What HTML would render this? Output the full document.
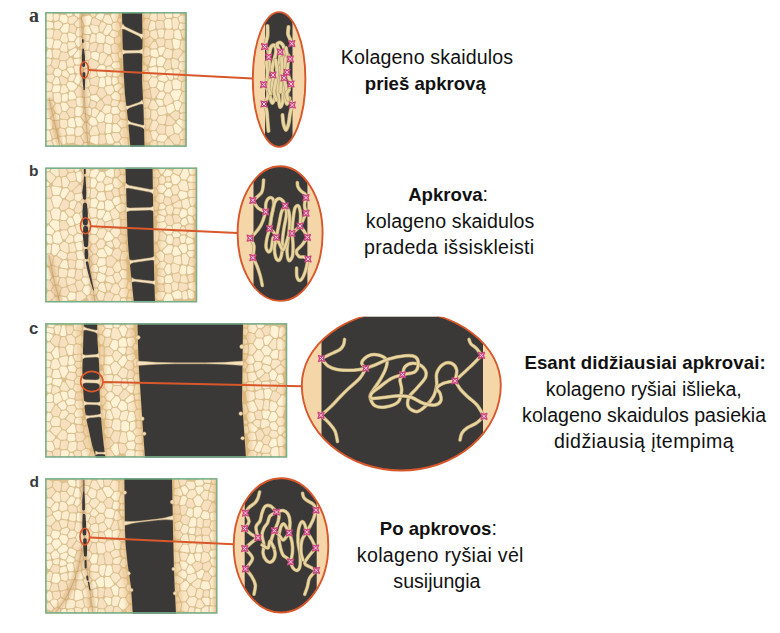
<!DOCTYPE html>
<html lang="lt">
<head>
<meta charset="utf-8">
<title>Kolageno skaidulos</title>
<style>
html,body{margin:0;padding:0;background:#fff;}
body{width:780px;height:633px;position:relative;overflow:hidden;font-family:"Liberation Sans",sans-serif;color:#111;}
.t{position:absolute;text-align:center;font-size:19.6px;line-height:26px;white-space:nowrap;}
.t b{font-weight:bold;font-size:18.6px;}
.t span{display:block;position:relative;}
.lab{position:absolute;font-family:"Liberation Sans",sans-serif;font-weight:bold;font-size:15.5px;color:#3a3a3a;line-height:1;}
</style>
</head>
<body>
<svg width="780" height="633" viewBox="0 0 780 633" style="position:absolute;left:0;top:0">
<defs>
<filter id="soft" x="-5%" y="-5%" width="110%" height="110%"><feGaussianBlur stdDeviation="0.65"/></filter>
<filter id="soft2" x="-20%" y="-20%" width="140%" height="140%"><feGaussianBlur stdDeviation="1.6"/></filter>
<filter id="soft3" x="-5%" y="-5%" width="110%" height="110%"><feGaussianBlur stdDeviation="0.3"/></filter>
<linearGradient id="edgeR" x1="0" x2="1" y1="0" y2="0"><stop offset="0" stop-color="#d9a868" stop-opacity="0"/><stop offset="1" stop-color="#d9a868" stop-opacity="0.75"/></linearGradient>
</defs>
<clipPath id="clip0"><rect x="45.1" y="12.1" width="141.6" height="134.8"/></clipPath>
<g clip-path="url(#clip0)">
<rect x="45.1" y="12.1" width="141.6" height="134.8" fill="#dcc190"/>
<g filter="url(#soft)">
<path fill="#fef2d7" d="M45.7,26.9L46,28L46.9,28.6L52.3,28.3L53.3,27L52.9,23.2L51.8,22.2L47.7,21.4L46.8,21.6L45.9,22.7ZM52.2,90.1L52.4,91.5L53.4,92.2L58.8,91.9L59.7,90.7L60.4,87.1L60.3,86.1L58.8,85.2L54.1,85.6L53.2,86.5ZM57.8,119.7L58.7,119.3L59.3,118.5L59,115.9L58.4,115L56.2,114L54.6,114.2L51.7,117.6L51.8,119.1L53,120ZM63.3,23.3L67,22.4L67.5,21.5L67.6,17.8L67.3,17L66,15.2L65.2,14.7L60.9,15L60.3,15.9L59.6,19.2L59.9,20.5ZM66.3,32.8L67.7,32.2L68.4,31L68.9,25.1L68.4,24.1L67.4,23.6L63.7,24.6L60.5,29.4L60.8,30.5L62.6,32.5ZM61.8,99.9L62.2,101L63.3,101.6L66,101.6L67.2,100.7L67.6,99.9L67.9,95.3L67.3,93.9L65.9,93.5L62.3,94.8L61.9,95.7ZM68.5,12.6L67.4,12.9L66.8,14L66.9,14.9L67.9,16.1L69.2,16.5L72,15.3L72.4,14.1L71.8,12.9L70.9,12.6ZM68.6,67.8L67.4,68.5L67.1,69.7L69.6,73.3L70.9,73.8L73.9,72.9L74.3,71.3L73,68L71.9,67.5ZM69.4,89.8L70.6,90.6L73.9,90.6L77,87L77,85.4L73.2,82.4L69.2,81.9L68.3,82.1L66.9,83.8L66.7,84.9ZM68.6,98L69.1,99.2L70.3,99.8L74.7,99.1L75.6,98.5L76.1,96.8L73.8,92.2L73,91.8L70.6,91.6L69.3,92.1L68.9,93ZM73.5,127.4L74.8,127L75.4,125.9L74.1,119.1L73,118L70.3,118.2L68.3,120.2L68.3,125.6L69.4,126.7ZM66.1,129.5L67.2,134.3L68.1,134.7L73.5,134.6L74.3,133.4L74.2,129.1L73.1,128.3L68.6,127.5L67.6,127.7ZM77,84L78.3,84.4L79.3,83.8L82,77.7L81.9,76.3L80.4,74.5L77.9,74.3L76.8,74.9L74.4,80.5L74.6,82.1ZM82.8,112.9L83.5,109L82.7,107.7L77.5,106.8L76.6,107.1L75.4,108.2L75.3,114.9L76,116.1L79.9,116.2ZM76.8,117.3L75.6,117.8L75.1,119L76.5,125.6L77.8,126.5L81.7,126.2L83.7,123.4L83.7,121.9L80.2,117.6ZM89.7,24.4L91.6,18.1L91.4,17.1L90.3,15.9L88.9,15.4L82.5,16.7L81.8,17.7L81.8,18.7L84.4,25.1L85.4,25.6L88.2,25.5ZM85.5,26.5L84.4,27L83.9,27.8L83.6,32.3L83.9,33.3L85.3,34L89.8,34.1L90.7,33.7L91.3,32.9L91.3,31.9L88.9,27.1L87.8,26.5ZM84.1,105.3L84.5,106.4L85.5,107L87.7,106.7L88.5,106L89.9,99.9L89.6,98.5L89,97.8L88.1,97.5L85.4,97.8L84.3,98.5ZM84.2,143.4L83.6,144.9L84.4,146.2L87.3,146.4L88.5,145.5L88.6,144L87.8,143L85.1,143ZM96,52L92.8,52.2L91.7,52.7L91.2,53.7L91.4,57.1L92.2,58.3L96.9,60.4L98.3,59.3L99.2,54.2L98.4,53ZM98.9,100.3L99.5,99.2L99.4,98.2L96.3,94.9L91.7,95.4L90.4,96.6L90.6,98.5L91.5,99.6L96.5,101.6L97.5,101.4ZM99.1,76.5L100.1,76.9L104.7,76.5L106,75.4L105.2,66.9L104.7,66.1L103.1,65.1L99.9,65.2L96.7,69L97.9,75.3ZM98.7,85L99,86.3L100.2,87L103.3,87.4L105,86.2L105.3,85.2L104.8,79.1L104.1,77.8L103.1,77.5L101.2,77.7L99.9,78.4ZM96.5,118.6L98.7,122L99.6,122.2L102.8,121.5L103.7,120.6L104.6,114.8L104.1,114L101.7,112.1L100.7,112L99.9,112.5L96.5,117.5ZM110.2,123L111.3,122.7L112,121.8L112.4,115.7L111.9,114.5L110.2,113.5L106.6,114.4L105.8,115L104.7,120.8L105,121.7L105.9,122.4ZM105.4,131.5L105.8,132.8L106.9,133.4L110,133L111,132.3L111.7,125.5L111.1,124.2L107.8,123.6L106.5,124.2L106.1,125.1ZM107.2,134.3L106.2,134.9L105.8,136L107.2,143L108.5,143.8L113,143.4L113.7,142.6L113.8,141.6L110.8,134.7L109.6,134ZM112,64.5L111.7,65.4L111.9,66.4L114.2,68.4L118.9,68.2L120.1,67.1L119.3,63.2L118.3,62.2L113.8,62.5ZM114.9,90L116.1,91.1L117.9,90.9L121.6,86.8L121.8,85.8L121.4,84.9L119.5,83.7L118.5,83.5L114.8,85.7L114.1,87.1ZM114.4,124.1L113.3,124.4L112.7,125.3L112.5,131.2L113.7,132L119.1,132.1L119.7,131.4L120.6,129.3L120.4,128L116.9,124.4ZM124.2,89.6L123.2,88.1L121.6,88.2L119.2,90.9L119.2,92.7L120.8,93.7L123.5,93L124.3,91.9ZM124.6,102.1L121.2,101.5L120.4,102L118.3,106.3L120.4,110.1L121.7,110.7L125.2,110.1L126.2,108.7L125.3,102.8ZM143,54.4L143.2,55.8L144.5,56.5L148.4,55.4L149.2,54.9L149.6,54L149.6,49.6L148.7,47.9L146.3,47.1L144.9,47.6ZM143.6,78.8L143.8,79.7L144.5,80.4L147.6,80.8L148.4,80.3L150.7,77.2L150.7,75.8L147.3,70.6L146,70.6L144,71.9ZM143.8,106.2L144.2,107.2L145.1,107.7L146.8,107.5L147.6,107L150.2,101.3L150.2,100.3L149.7,99.5L145.5,98.2L143.9,98.8L143.5,99.9ZM145.3,108.7L144.4,109.2L144,110.1L144.2,117.3L145.4,118.4L149.1,118.4L150.1,117L150.1,110.2L147.9,108.4ZM156,49.2L151.2,49.7L150.6,50.7L150.5,54.5L150.9,55.4L151.7,56L156,57.3L157,57.2L158,56.6L158.6,55L157.1,49.9ZM149.4,64.4L149.6,65.8L150.9,66.6L155.6,65.2L156.1,64.2L156.2,59.6L155.7,58.4L153,57.4L151.6,57.9ZM149.6,68L148.6,68.8L148.4,70.1L151.8,75.7L152.7,76.3L155.3,76.5L156.5,76.1L157.1,74.7L156.9,68L156.5,67.1L154.9,66.5ZM159.4,47.5L158.3,48.3L158.1,49.6L159.4,54.4L160.3,55.1L161.3,55.2L162.4,54.3L164.9,49L165,48.1L164.3,47.1L163.4,46.8ZM157,64.1L157.4,65.2L158.2,65.8L161.5,66.2L162.5,65.9L165.4,60.3L165.3,58.9L161.9,56.7L159,57L157.2,58.7ZM159.7,66.9L158.3,67.4L157.8,68.6L158,73.6L158.5,74.5L159.6,74.9L164.4,73.2L165.3,70.8L165,69.8L162.7,67.4ZM161.6,90.7L162.6,90.5L163.3,89.6L164.2,83.6L163.2,82.4L159.4,81.5L158.3,82.4L156.8,87.2L159.8,90.3ZM165.8,72.7L165.9,73.9L169.4,79.5L171.2,80L172.7,79.3L173.2,77.9L172.4,70.8L171.9,69.8L170.5,69.3L167.1,70.4L166.3,71.2ZM167.2,105.8L166.4,106.7L166.2,107.6L167.5,112.5L168.3,113.3L169.9,113.4L174.5,110.3L174.6,109L173.4,104.8L172.6,104L171.2,103.9ZM174.7,38.9L173.2,39.1L172.5,40.3L173.7,47.8L174.3,48.6L175.2,48.9L178.4,48.2L179.4,47.2L180.3,41.2L179.3,40.3ZM177.2,100.2L178.6,99.1L181.4,92.3L181.3,91.2L179.9,90.1L173,90.4L170.7,92.7L170.6,94.3L173.9,100L174.9,100.4ZM175.3,101.3L174.1,102.1L173.9,103.5L175.8,109.7L176.9,110.6L178.1,110.6L179.1,109.6L181.3,104.2L181.3,103.2L180.7,102.3L178.5,101ZM184.9,23.9L180.4,23.6L179.6,24.4L178.8,27.6L179.1,28.8L180.7,29.6L185,28.8L185.7,28L186.2,26.1L186,24.7ZM186.2,54.1L185.3,52.6L184.4,52.4L183.4,52.8L178.9,58.7L178.7,59.7L179.2,60.6L180.5,61.2L184.8,61.1L185.6,60.7L186.2,59.6ZM177.2,120.8L176.6,122L177,123.1L182.9,128.3L184.1,128.8L185.8,128.1L186.2,127.1L186.2,122.8L185.6,121.5L179.6,119.4L178.5,119.6Z"/>
<path fill="#fdf0d4" d="M48,12.6L46.6,13.3L45.7,15.6L45.7,19.3L46.7,20.2L51.7,21L52.7,19.6L52.6,13.8L51.4,12.8ZM47.2,38.6L46.2,39L45.6,40L45.7,45.6L48.5,48.1L51,48.3L52,47.1L53.4,40.7L53.3,39.7L52,38.6ZM52.2,56.2L51.3,49.9L50.4,49.4L49.1,49.3L48.2,49.8L45.6,53.5L45.6,56.1L46.1,57L50.4,57.9L51.8,57.4ZM50.2,119.3L47.7,119.1L46.9,119.7L46.5,120.6L46.2,127.8L47.2,128.9L49.4,129.5L51.5,128.8L52.2,127.5L52.6,121.4L52.1,120.5ZM49.6,131.5L48.8,130.5L47.5,130.3L46.6,130.9L45.6,132.7L45.6,139.2L45.9,140.1L46.7,140.6L50.3,140.2L51.5,139.1L51.5,138.1ZM61.3,43.9L61.3,42.5L59.5,40.5L55.1,40.3L54.1,41.5L53,46.7L53.1,47.7L54.4,48.6L58.7,48.6L59.4,48ZM60.3,75.4L60.9,74.6L61.5,71.7L61.1,70.4L58.1,68.6L55.1,69.3L53.6,73.3L54.9,75.7L55.8,76.1L58.4,76.5ZM52.9,82.1L52.9,83.6L53.9,84.5L58.2,84.3L59.1,84L59.8,82.6L58.6,78L57.4,77.3L56.2,77.2L55.3,77.5ZM53.7,139.4L52.8,140L52.5,141.2L54.7,146.1L55.7,146.4L59.7,146.4L61,145.8L61.4,145L61.3,144L58,138.9L56.7,138.5ZM62.5,102.5L61.3,103L60.8,104.2L62.4,109.9L63.5,110.9L66,111.1L68.5,108L68.6,106.6L66.1,102.9ZM60.7,136.8L59.4,137.6L59.4,139.4L62.4,144L63.4,144.4L64.9,144L65.8,142.7L65.5,137.4L64.2,136.5ZM69.9,32.8L68.5,33L67.8,34.3L68.9,40.4L70.3,41.3L73.9,41.1L76.1,37.7L76.1,36.3L74.6,34.3ZM69.4,51.2L68.6,52.1L68.7,53.4L69.9,55.7L71.5,56L72.3,55.5L76.7,50.7L76.9,49.3L76.2,48.2L74.9,48ZM74.6,14.1L75.2,15.6L78.9,17.7L80.6,17.4L81.7,16L81.1,13.6L80,12.6L75.8,12.6L74.9,13.2ZM77.6,46.4L78.8,46.8L79.9,46.3L83.4,41L83.3,39.6L81,37.1L77.4,37.6L75.2,41.2L75.3,42.5ZM74,55L73.7,56.5L74.7,57.7L80,57.6L80.9,56.4L81.9,52L81.8,51L80.3,49.8L78.8,49.8ZM74.7,63.3L75.9,64.5L79.9,64.5L80.6,63.7L81.5,60.9L81.3,59.4L80,58.6L74.7,58.9L73.8,60.4ZM77.1,104.6L77.6,105.5L78.5,106L81.5,106.4L82.8,105.8L83.2,104.9L83.1,99.2L82.5,97.9L81.5,97.5L78.1,97.6L76.8,98.3L76.2,99.9ZM88.1,62.5L87.6,61.4L86.7,60.9L83.6,60.7L82.4,61.3L81.2,65.2L82.9,68.4L84.3,68.7L88.1,67.2L88.4,66.2ZM90.5,70.5L90.3,69.1L89,68.3L83.6,70L81.8,73.7L82.9,76.1L83.7,76.7L86.4,77.5L87.8,77.2L88.4,76.4ZM83.3,95.1L83.6,96.2L84.8,96.9L88.7,96.5L89.9,95.7L90.1,94.3L87.8,88.6L86.9,88.3L85,88.4L83.9,89.1ZM88.5,115.1L89.8,115.2L90.9,114.3L91.1,109L90.4,108.3L88.8,107.6L85.3,108L84.4,109.2L84.3,112.3ZM92.3,117.3L91.2,117.3L90.4,117.9L88,121L88.1,122.5L92.4,125.7L96.3,125L97.4,123.5L97.3,122.1L95.3,118.5ZM90.7,137.4L90.2,141.5L91,142.3L96.1,144.3L97.2,144.2L98.2,142.9L98.5,136.5L97.9,135.7L97,135.5L91.5,136.5ZM96.4,15.7L95.9,16.9L96.4,18.1L100.2,20.1L101.2,20.2L102.3,19.4L104.2,14.2L103,12.7L100,12.6ZM97.6,33.6L96.6,34.9L96.4,40.8L96.7,41.8L98.9,43.1L103.6,42.9L104.4,41.7L105.1,36.9L104.9,36L102.2,33.7L100.1,33L99.2,33ZM111.3,30.2L111.7,29.1L111,25.5L109.9,24.9L107.6,24.8L106.8,25.6L103.5,31.9L103.5,33.4L105.5,35.1L107.7,34.7ZM107.7,76.6L106.3,76.9L105.6,78.2L106.1,84L106.8,84.9L107.7,85.2L110.4,84.8L111.4,83.3L110.9,77.9L110,77.1ZM118.6,15.1L118.2,13.4L115.7,12.6L113.3,12.7L111.2,14.4L111,16L113.4,21.4L114.7,21.8L116.8,20.9ZM113,74.3L113.1,75.6L114,76.3L118,76.4L119.7,74.8L120.4,70.9L120.1,69.9L118.7,69.1L114.8,69.6L114.1,70.4ZM113.8,77.3L112.5,77.8L112,79.1L112.4,83.7L113.1,84.6L114.1,84.8L117.4,83L118.1,81.5L117.2,78L116.3,77.5ZM111.9,97.9L113,98.9L118.1,100L119.1,99.9L119.8,99.4L120.2,98.5L119.7,94.7L117.4,92.4L114.8,92.1L111.5,95.2L111.3,96.2ZM117.8,107.7L116.5,106.9L113.1,107.1L112.2,107.5L111.7,108.3L111.3,111.7L111.6,113L113.4,114.1L118.6,113.4L119.7,112L119.8,111ZM122.5,53.3L121.9,52.1L120.9,51.7L119.8,52L118.7,53.2L118.6,54.1L119.2,56.9L120.2,58.1L121.5,58.1L122.4,57.3ZM121.7,111.6L120.7,112.2L119.5,114.2L120.6,117.8L121.6,118.6L125,119L126.1,117.6L125.8,112.3L124.5,111.3ZM127.7,122L125.8,120.4L120.9,119.7L118.3,122.6L118.2,124.2L121.6,127.5L125.7,126.5L127.8,123.7ZM142.6,68.4L143.1,69.7L144.5,70.1L146.5,69.2L147,67.7L145.5,65.3L144,64.9L142.8,65.9ZM159.1,76.3L158.2,77L158,78L158.6,79.7L159.4,80.3L164.7,81.8L167,80.8L167.7,80.1L167.7,78.6L164.9,74.6L163.7,74.5ZM157.2,95.9L156.9,97.2L157.7,98.3L162.3,99.1L163.2,98.3L165,94.5L165,93.2L163.3,91.8L160.5,91.7L159.7,92.2ZM158,99.4L156.6,99.8L156,101.3L158.7,105.5L160,106.1L162.8,105.4L163.4,103.9L162.5,100.6L161.7,100.1ZM157.2,138.7L157.1,139.9L158,141L163.5,141.7L164.4,141.2L166.8,138.2L167.1,136.8L166,135.2L165.1,134.7L159.9,134.8L158.8,135.5ZM164.8,14.3L166.2,17.8L167,18.1L171.6,17.6L172.3,16.2L171.8,13.4L170.4,12.6L165.7,12.8ZM165.2,27.2L165.6,28.1L166.7,28.7L170.4,28.7L171.5,28.1L171.8,27.1L171.4,20.5L170.7,19.2L169.8,18.9L166.4,19.1L164.7,20.4L164.4,21.5ZM179.4,39.4L180.9,39.2L181.6,37.9L180,30.9L178.1,29.6L175.3,30.2L174.3,31.5L174.1,37.2L175,38.1ZM174.4,79.7L172.8,80.4L172.2,81.4L173.1,88.4L174.5,89.3L179.8,89L180.6,87.8L181,83L180.8,82.1L177,79.7ZM176.8,124.1L175.7,123.7L174.8,123.9L173.6,125L173.4,126.1L174.9,132.6L175.8,133.2L178.1,133.5L179,133.2L181.4,130.6L181.9,129.2L181.5,128.3ZM184.8,16.3L183.6,15.4L181.4,15.5L178.9,17.3L178.6,18.8L180,22.1L184.5,23L185.8,22.4L186.2,21.4L186.2,19.6ZM186,63.2L184.6,62L180.3,62.4L179.7,63.2L178.8,67.2L179.1,68.7L181.3,70.3L183.4,70.4L184.3,70L186.2,67.2ZM186.2,83L185.8,81.8L184.6,81.3L182.8,81.8L182,82.7L181.5,89.1L182.7,90.7L184.9,91L186.1,90ZM186.2,93.7L185.8,92.6L185,92.1L183.5,91.9L182.4,92.5L179.6,99.1L179.6,100.1L180,100.8L182.7,102.4L184.7,102.6L185.8,102L186.2,100.9ZM179.9,110.2L179.9,111.7L181.1,112.5L185,112L185.8,111.4L186.2,110.5L186.2,106.7L184.8,103.8L183.5,103.5L182.4,104.1Z"/>
<path fill="#fceccf" d="M53.4,31.3L53.2,30.2L52.2,29.4L47.9,29.5L47.1,29.9L46.5,31.1L46.2,36L46.6,37.1L47.9,37.7L51,37.7L51.9,37.3L52.5,36.4ZM49.4,65.2L50.6,64.1L51.5,60.8L51.4,59.8L50.3,58.8L46.6,58.5L45.6,59.8L45.7,64.6L47,65.7ZM46.3,107.4L46.8,108.3L47.9,108.8L52,107.7L54.5,104.2L54.4,102.6L52.7,101L46.4,100.8L45.5,102.3ZM53.6,19.5L54,20.5L55.1,21.1L58.2,20.1L59.3,16L58.9,14.8L58.1,14.2L55.6,13.8L54.2,14.1L53.6,15.3ZM54,23.6L54.5,28.2L55.3,28.8L59.1,29L62,25.3L62.1,23.8L58.8,21.2L55,22.3ZM55.1,93.1L54.1,93.6L53.5,94.6L54,100.6L56.2,102.7L60,102.4L60.9,101L60.8,94.4L59.3,93ZM67.2,42.2L68,40.6L66.8,34.6L65.6,33.7L63,33.8L62.3,34.5L60.5,38.8L60.6,40.2L62.7,42.3L66.4,42.5ZM63.7,43.3L62.2,44.1L60.2,48.5L60.1,49.5L61.5,51.2L66.3,51.7L67.1,51.2L67.5,50.2L66.7,44.6L65.8,43.5ZM64.5,61.2L60.8,61.2L60.1,62L59,67.1L59.6,68.3L61.8,69.7L62.7,69.8L65.6,68.8L66.4,66.9L65.4,61.8ZM68.9,75.5L68.8,73.9L66.2,70.4L64.8,70.2L62.7,71.2L61.9,74.1L62.7,75.5L66.8,77.6L68,77.2ZM60.9,93L62.5,93.5L67.4,92.1L68.2,91.4L68.3,89.8L65.6,85.4L62.8,85.3L61.7,86L60.4,91.6ZM68.2,48.2L69,49.3L70.2,49.5L75.1,46.8L75.6,45.2L74.4,42.8L73.1,42.2L69.1,42.2L68.1,42.7L67.5,44.1ZM68.4,79.6L68.8,80.5L69.5,81L72,81.3L73,81L75.1,76.4L74.9,74.9L73.4,74.2L70.4,74.9L68.5,78.6ZM80.5,36.1L81.5,35.6L82.6,33.7L82.8,28.9L82.4,28.1L81.3,27.6L78.3,27.9L77.4,28.4L75.8,33.5L76.1,34.6L77.3,36.2L78.2,36.4ZM75.5,72.2L76.1,73.1L76.9,73.4L80,73.5L81,72.9L82.2,69.7L80.3,66L75.8,65.4L74.5,66L74.1,67.6ZM75.2,134.1L75.5,135.3L76.3,135.8L79.7,135.7L83.2,132.9L83.7,132.2L83.7,131.2L82,127.9L80.7,127.3L76.9,127.5L76,127.9L75.4,128.9ZM80.6,46.8L80.5,48.6L82.6,50.2L87.5,49.8L88.6,48.7L89.4,43.7L88.3,42.3L85.7,41.4L84.7,41.5L83.9,42.1ZM89.5,85.6L89.9,84.4L88.7,79.4L87.8,78.8L84.3,77.9L82.9,78.3L80.2,84.3L80.6,86L83.8,87.6L87.9,87.2ZM87,123.1L85.9,122.9L84.9,123.3L83,126.2L82.9,127L85,131.6L87.6,132.5L88.9,131.8L91.3,126.9L90.7,125.7ZM92.1,25.1L90.5,25.6L90,26.9L92.7,32.3L93.5,32.8L96,33.2L98.2,32.3L98.8,30.9L98.1,26.9L97.3,26.3ZM89.7,40.7L90,42.2L91.1,42.8L95.1,41.6L95.5,40.7L95.7,35.6L95,34.2L92.9,33.7L91.3,34.7ZM92.6,116.4L95.2,117.1L96,116.5L99,111.7L98.4,110.3L95.1,108.4L93,108.8L92.1,110L91.9,115.4ZM110.1,16.2L108.9,15.2L106.3,15L105.2,15.3L103.2,19.7L103.4,21.2L107.2,23.6L110.6,24L111.6,23.6L112.2,22.9L112.4,21.9ZM107.1,35.9L106,37.2L105.4,41.2L105.9,42.4L110.6,44.6L113.7,43.3L114.2,42L113.5,38.5L108.8,35.7ZM106.3,43.7L105,43.7L104,44.7L103.8,51.3L104.4,52.1L107.8,54L109.8,54L110.6,53.4L111,52.4L110.5,46.3L109.7,45.2ZM112.4,86L111.2,85.6L106.4,86.4L104.9,87.6L104.8,89L107.7,94.2L110.5,94.5L113.8,91.6L114,90.2L112.9,86.7ZM104.7,113.3L106.1,113.6L109.3,112.7L110.1,112.1L110.9,107.3L110.3,106L105.9,105.3L104.5,106L102.2,110.4L102.6,111.5ZM117,22.3L113.2,23.3L112.1,24.8L112.7,29L113.5,29.6L117.2,30.9L118.5,30.8L119.9,29.5L120.3,28.4L118.9,23.4ZM113.3,37.3L115.1,37.3L117.8,35.7L118.4,34.4L118,32.7L117.4,32L112.9,30.6L111.7,31.3L110.1,33.4L109.9,34.4L110.4,35.5ZM127.6,139.8L127.2,138.8L126.4,138.3L122.3,138.3L121.5,138.8L120.2,140.7L120,142.1L122.3,145.2L125,146.4L126.8,146.4L127.6,145.8L128,144.9ZM148.5,28.6L148.8,30.2L150.1,30.8L155.1,28.7L155.5,27.5L155.1,22.8L154.5,21.9L152,21.1L150.7,21.6ZM149.2,80.8L148.9,82.2L150.3,86.2L150.9,87L151.9,87.2L154.7,87.1L155.7,86.5L157.8,80.5L156.5,77.7L152.7,77.2L151.5,77.7ZM157.9,135.3L157.9,133.8L155.6,131L152.1,131.2L151,132.2L150.9,133.2L152.5,138.7L153.5,139.8L154.9,139.9L155.7,139.4ZM164.3,31.5L163.9,30.2L162.8,29.5L159,29.6L157.9,30.2L157.5,31.5L159.1,37.1L159.9,37.5L161.9,37.6L163.1,37L163.5,36.3ZM157.7,109.4L157.4,110.9L158.4,114L159.2,114.8L160.2,115L165.3,114.2L166.4,113.3L166.6,112.3L165.3,107.6L164.3,106.5L159.5,107.2ZM166,92.3L169.3,92.6L172,89.7L171.3,82L170.3,80.8L168.8,80.8L166,82.4L165.4,83.2L164.2,90.3L164.6,91.3ZM173.2,15.7L174.3,17L177.4,17.2L179.7,15.4L180,14L179.5,13L178.6,12.6L174.1,12.6L173,13.8ZM174.9,69.2L173.8,69.7L173.3,70.7L174,77L174.7,78.2L175.9,78.5L177.2,77.7L179.9,71.2L179.5,70.3L178,69.1ZM182.3,36.3L182.9,37.3L184,37.7L185,37.3L186.1,36L186.2,31.3L185.2,30.1L182.5,30.3L181.4,31.2L181.3,32.1ZM184,40.5L182.6,40.3L181.6,41.1L180.3,47.7L181,48.9L183.7,50.8L184.7,51.1L185.6,50.7L186.2,49.7L186.2,42.7L185.8,41.7ZM186.2,114.7L185.9,113.6L184.9,113L181.1,113.7L180.2,114.6L179.7,117L179.9,118L180.7,118.8L184,119.9L185.3,119.7L186.2,118.6ZM186.2,131.3L185.5,129.9L183.8,129.8L179.7,133.8L179.5,135.2L180.4,138.3L181.1,139L182.4,139.3L185.2,138.3L186,137.7Z"/>
<path fill="#fae7c8" d="M53.3,75.1L51.9,74.4L47.6,75L46.8,75.6L46.1,76.6L46.1,77.5L47.7,81.1L50.6,82.2L52.1,81.7L54.2,77.2L54.1,76.2ZM45.5,89.6L45.9,90.7L46.9,91.3L50.9,90.6L52.5,85.7L51.8,83.8L48.3,82.4L46.7,82.8L45.6,84.5ZM47.4,92.2L46.3,92.8L45.6,94.7L45.8,98.8L46.9,99.7L52,99.8L52.8,98.4L52.3,92.8L50.8,91.8ZM47,110L46.1,110.5L45.7,111.5L46.3,116.9L47.3,118L49.6,118.1L53.9,113.6L54.1,112.1L52.8,109.6L51.8,109ZM52.8,144.7L51.3,141.4L50.4,141.2L46.5,141.9L45.6,143L45.8,145.6L47.1,146.4L51.9,146.2ZM54.4,49.5L53.3,49.8L52.6,50.9L53.2,57L54.4,58.1L57.6,58.2L58.5,57.2L60.2,52.3L60.1,51.4L58.7,49.8ZM53.4,108.9L55.9,112.8L58.9,114L59.9,113.5L61.5,111.4L61.6,110.5L59.9,104.8L59,103.7L55.9,103.9L53.4,107.6ZM61.8,119.8L60.5,120.2L60,121.2L60.3,126.7L61.3,127.6L65.4,128.2L67.3,126.4L67.2,121L66.1,120ZM59,128.7L58.3,130.2L58.8,134.6L59.3,135.4L60.6,135.9L64.5,135.5L65.4,135.1L65.9,133.7L64.8,129.6L60.4,128.3ZM76.7,19.9L77.2,18.7L76.7,17.6L74.4,16.3L73.2,16.2L68.9,17.8L68.5,18.7L68.5,22.4L69.7,23.7L72.9,23.8ZM71.5,58.1L70.6,57.8L69.7,58L66.6,61.1L67.1,65.6L68.1,66.7L72.6,66.5L73.9,65.2L74,64.2L72.4,59.1ZM68.4,135.7L67.3,136L66.7,137L67,142.5L68.2,143.3L73.7,142.8L74.4,141.7L74.9,137.6L74.6,136.5L73.5,135.8ZM76.5,26.6L77.7,27.1L81.6,26.7L83,25.8L83,24.4L81.2,19.8L80.5,19.1L79.6,18.8L78.7,19.2L74.9,23.3L74.8,24.9ZM88.2,34.9L83.3,35.1L82.6,35.8L82.8,37.6L84.9,40.1L87.1,40.9L88.4,40.6L89,39.8L89.6,37L89.3,35.6ZM81.6,57.4L81.9,58.7L83,59.6L87.6,60.1L88.5,59.8L90.1,58.4L90.5,57.6L90.1,52L88.2,50.7L83.6,51.3L82.8,52.2ZM84.9,114L83.8,113.8L82.9,114.2L81.5,116.1L81.4,117.1L84.3,121.1L85.8,121.6L86.7,121.1L88.8,118.5L89.1,117.2L88.4,116.1ZM87.7,141.9L89.1,140.8L89.8,136.2L88.1,133.8L84.7,133L81.7,135.5L81.5,137.1L84.5,141.7L85.4,142ZM89.7,75.6L89.8,77.1L91.2,77.9L96.3,75.9L96.8,74.4L95.5,70L94.3,69.4L92.8,69.4L91.9,69.8ZM97.5,134.4L98.5,133.8L98.9,132.6L96.9,127L95.5,126.2L92.9,126.8L89.5,132.6L89.6,134.1L90.4,135.1L91.4,135.5ZM99.7,30.5L100.8,31.9L102.5,31.6L105.8,25.5L105.5,23.8L103.2,22.3L102.3,22.2L101.3,22.6L99.4,25.9ZM98.9,61.1L99,62.2L100.3,63.8L102.1,64.1L103.1,63.7L106.9,56.2L107,55.3L106.5,54.4L103.2,52.6L100.7,53.4L100.1,54.4ZM110.6,57L109.2,56L107.6,56.8L104.4,63.4L104.5,64.5L105.3,65.4L106.2,65.7L110,65.3L112.3,62.7L112.4,61.3ZM107.9,66.5L106.8,67L106.3,68L107.1,74.6L108,75.7L110.7,76.1L111.8,75.1L113.2,70.1L113.2,69.1L110.5,66.5ZM112.8,53.7L111.6,54.2L111.1,55.6L113.3,60.9L114.6,61.5L118.2,60.9L118.7,60.3L118.9,59.3L117.6,54.3L116.5,53.7ZM111.2,104L111.4,105.3L112.3,106.1L116.6,106L117.7,105.1L118.8,103L118.8,102L117.7,100.9L113.1,100L112,101ZM113.7,132.9L112.4,133.5L111.9,134.8L114.5,140.9L115.9,141.8L118.6,141.1L120.9,137.7L119.6,134L118.4,133.2ZM114.5,143.5L114,145.2L115.1,146.4L119,146.4L120.3,145.2L120.1,143.9L118.6,142.4L115.4,142.9ZM118.1,20.1L118.3,21.4L119.5,22.2L121,21.9L121.7,20.8L121.5,19L120.3,18.2L118.9,18.5ZM119,81.6L119.6,82.6L121.4,83.7L122.4,83.8L123.2,83.4L123.8,82L123.6,78.6L123.2,77.8L120.5,76.4L118.9,77L118.5,78.1ZM120.4,132.2L120.4,133.5L121.6,136.4L122.3,137.1L127.4,137.3L128.7,136.4L128.7,132.8L126.7,128.5L126,127.9L124.9,127.7L122,128.7ZM143.3,13.8L143.8,16.7L145,17.7L147.8,17.8L148.8,16.9L149.7,14.8L149.7,13.8L148.4,12.6L144.5,12.6ZM144.6,28.7L146.4,29.2L147.7,28.1L149.7,21L149.4,19.9L148.3,19L146.2,18.8L145.2,19.2L142.8,23.5L142.8,26.7ZM142.9,36.7L143.4,37.9L144.8,38.4L148.8,36.2L149.4,35L149.2,32.4L148.8,31.5L147.2,30.3L145.6,30.1L144.6,30.5L142.9,32.9ZM143.3,58.5L143.3,60.8L145.8,64.2L146.7,64.7L147.6,64.7L148.7,63.7L150.2,57.6L149.4,56.6L148.1,56.4L143.9,57.8ZM144.6,81.3L143.2,81.8L142.6,83.1L143,88.6L143.5,89.4L144.6,89.7L148.6,88.4L149.4,86.8L147.8,82.2L146.9,81.7ZM146,119.4L144.9,119.7L144.3,120.6L144.4,126.5L145.8,128.7L147.2,129.1L148.4,128.3L151.4,121L151,120.1L150.2,119.5ZM144.8,140.9L145.7,142.4L148.4,142.6L151.1,140.9L151.7,140.1L151.7,139.1L149.6,132L148.1,130.9L146.5,131L144.7,133.1ZM149.6,17.3L149.6,18.6L150.8,19.8L154.9,20.8L155.9,20.7L156.8,19.3L156.7,13.5L155.6,12.6L152,12.7L151.3,13.4ZM153.8,38.8L155.5,39.1L157.1,38.2L157.7,37.2L156.5,31.3L156,30.6L155.1,30.2L151.1,31.5L150.2,32.8L150.5,36ZM150.4,45.8L150.3,47.6L151.6,48.5L156.2,48.2L157,47.7L157.4,46.8L155.8,42.4L154.5,41.5L153.1,41.9ZM154.3,100.7L153.1,100L151.7,100.5L149,106.3L149.1,107.9L150.7,109.2L156,109.5L156.9,108.9L157.9,107.5L157.8,106ZM152.9,110.3L151.8,110.6L151.2,111.6L151.1,118.2L152.5,119.6L155.4,119.7L156.5,118.8L157.8,116.1L157.9,115.2L156.2,110.8L155.3,110.4ZM149.5,128.1L149.5,129.5L150.6,130.4L154.7,129.9L155.7,129.4L158.2,124.3L158,123.3L156.3,121.1L153.9,120.6L152.7,121.1ZM163.1,124.3L164.2,124.1L164.9,123.3L166.3,117.4L166.1,116.1L165.1,115.3L159.1,116.2L157.2,119.6L157.3,120.9L159.3,123.4ZM164.9,38.6L166,39.1L171.1,38.8L172.5,38.1L172.9,37.2L173.4,31.5L172.8,30.1L171.9,29.7L167,29.6L165.6,30.1L164.3,37.2ZM170,58.3L171,58L171.6,57.2L172.3,51.2L171.2,50.1L167.4,49L166.3,49.1L165.6,49.8L163.3,54.6L163.2,55.9L163.8,56.7L166.6,58.3ZM164.3,103.9L165.2,105L166.4,105.2L172.1,102.4L172.8,101.6L172.9,100.2L169.7,94.5L169,93.8L167.1,93.6L165.9,94.6L163.6,99.9ZM172.9,133.9L173.6,133.2L173.7,132.2L172.3,126.3L171,125.7L166.7,126.3L166.1,127.6L166.1,133.5L166.5,134.4L167.7,135.7L168.8,136ZM174.1,18L172.7,18.5L172.3,19.8L172.8,28.2L173.5,29.1L174.6,29.4L176.8,28.8L177.6,28.2L179,22.8L177.3,18.5L176.4,18.1ZM173.6,58.8L172.3,58.9L171.4,60L172.1,67.3L173.5,68.4L176.9,68L177.9,67L178.8,61.7L177.2,59.9Z"/>
<path fill="#f7e0c0" d="M47,66.7L46.1,67.3L45.7,68.4L47.1,73.3L48.5,74L52.3,73.2L53.7,69.8L53.3,68.3L50.5,66ZM61.4,34.2L61.4,32.7L59.3,30.3L56.2,29.8L55.2,30L54.3,31.2L53.2,37.2L53.4,38.2L54.8,39.2L58.9,39.2L59.7,38.4ZM58.1,59.5L53.4,59.2L52.7,59.9L51.5,64.8L51.9,65.7L53.9,67.7L55.3,68.1L57.2,67.7L57.9,67L59.3,61L59,60.1ZM53.2,126.7L53.5,127.8L54.6,128.5L57.3,128.6L58.7,127.8L59.2,126.6L59.1,122.2L58.6,121.1L57.2,120.7L54.8,120.9L53.9,121.4L53.5,122.3ZM51.6,129.7L50.7,130.5L50.5,131.5L52.5,137.7L53.9,138.3L57.5,137.1L58.1,135.8L57.2,130.2L55.9,129.5L52.9,129.3ZM59.3,57.8L59.4,59.1L60.3,59.9L65.3,60.3L68.6,57.7L69,56.3L67.2,53L62.1,52.3L60.8,53.2ZM59.6,78L61.3,83.9L62.2,84.4L65.6,83.9L67.5,81.3L67.3,79.4L62.1,76.3L60.6,76.3L59.9,77ZM66.9,119.2L68.3,118.6L68.9,117.3L66.6,112.9L65.5,112.1L63.3,111.8L62.3,112.1L59.9,115L60.4,118.1L61.6,118.8ZM71.5,24.7L70.4,25L69.8,25.9L69.4,30.9L70.4,32L74.2,32.9L75.3,31.9L76.1,27.8L73.4,25ZM68.9,100.9L67.8,101.6L67.5,102.9L69.9,106.6L74.1,107.6L75.9,106.4L76.3,105.1L75.6,101.4L75,100.6L73.8,100.2ZM72.8,117L73.9,116.5L74.3,115.6L74.2,109.5L73.2,108.4L70.1,108L69.3,108.5L67.5,111L67.4,112.4L70,116.8L70.9,117.2ZM82.1,88L79.2,86.6L78.2,87L75,91.2L75,92.3L76.6,95.8L77.7,96.7L81.1,96.6L82.3,95.4L82.6,88.8ZM75.2,142.3L75.3,143.3L76,144L80.1,145L81.1,144.7L82.8,143.4L83.3,142.2L80.5,137.3L79.2,136.7L77,136.9L76.1,137.5ZM92.3,12.6L90.9,13.3L90.7,14.8L92.2,16.6L93.6,16.9L95.6,15.2L95.8,13.8L94.7,12.6ZM94.6,18.3L93.5,18.2L92.4,18.9L91.4,22.4L91.7,23.6L92.7,24.4L97.4,25.4L98.4,25.2L100.1,22.9L100,21.4L99.3,20.7ZM96.4,42.9L95.2,42.8L91.3,43.9L90.5,44.5L89.4,49.4L90.4,51L91.5,51.4L94.3,51.1L95.4,50.4L97.5,44.8L97.3,43.7ZM94.9,68.5L96.2,68.1L98.6,65.2L98.8,63.5L97.5,62L92,59.2L90.6,59.3L89.3,60.4L88.9,61.3L89.5,67L91.7,68.4ZM96.1,85.5L97.2,85.2L97.9,84.4L98.8,78.8L98.5,77.5L97.3,76.8L91,79.1L90.1,80.4L90.7,83.7L91.2,84.5ZM97.9,88.7L97.9,87.6L97.1,86.6L91.5,85.7L90.3,86.2L89.1,88.1L90.8,93.4L92.2,94.3L95.9,93.5ZM94,107.6L95.3,106.6L96.1,104L96,103L95.3,102.1L92.7,101L91.4,101L90.4,102.1L89.8,106.5L91.6,107.8ZM96.8,49.6L97.1,51.3L99.3,52.4L100.3,52.4L102.2,51.6L102.8,50.6L103,45.8L102.5,44.5L101.3,44L99.7,44L98.9,44.4ZM97.5,94.7L101,98.1L102.1,98L105.6,95.3L106.1,94.5L106,93.5L103.9,89.2L102.8,88.3L100.3,87.9L99.2,88.4L97.2,93.3ZM99.2,109.7L100.4,110L101.4,109.5L103.9,105L103.8,104L102.1,101.3L100.9,100.5L99.8,100.7L97.6,102.6L96.3,106.5L96.6,108ZM97.7,124.8L97.6,126.1L100.1,132.9L101.2,133.5L103.1,133.6L103.8,133.2L104.5,132.1L105.3,124.2L105,123.1L103.6,122.4L99.4,123.2L98.5,123.6ZM101.4,134.4L100.3,134.8L99.7,135.7L99.2,142.9L99.8,143.7L100.7,144.1L104.8,143.6L105.6,143L105.9,142.1L104.7,135.6L103.7,134.6ZM103.1,98.4L102.6,99.2L102.6,100.3L105,104.1L108.8,104.6L110.1,104L111.4,99.2L109.9,95.8L107.1,95.4ZM121,38.6L120.7,37.3L119.2,36.3L118.2,36.5L115.5,38.1L114.8,39.4L115.4,42.7L117.3,43.7L118.7,43.4L120.4,41.8ZM117,52.7L118.9,51.5L119.3,50L117.7,45.1L115.5,44L114.5,44L112.2,45.1L111.5,46L111.9,51.6L113.2,52.7ZM117.3,114.7L113.9,115.3L113.3,116.2L113,121.7L114,123L116.1,123.2L117.1,122.7L119.4,119.6L119.8,118.3L118.3,115ZM122.1,94.3L121.3,94.8L120.8,95.7L121.2,99.3L122,100.4L123.7,100.7L124.6,100.2L125,99.3L124.6,95.5L123.7,94.4ZM144.5,44.5L145.6,45.9L147.8,46.5L148.9,46.3L152.7,40.9L152.7,39.2L150.6,37.3L149.6,37L144.9,39.6L144.2,40.8ZM143.2,95.5L143.6,96.4L144.4,97L148.9,98.1L150.2,97.8L150.8,96.3L149.4,90.2L147.9,89.6L144.3,91L143.8,91.8ZM152.1,88.1L150.8,88.8L150.5,90.1L152,97.3L152.7,98.2L153.9,98.4L154.9,97.8L158.5,92.3L158.7,91L155.9,88.1ZM155.5,140.9L152.3,141.2L150.1,142.9L149.9,144.1L150.5,145.5L151.9,146.4L156,146.3L156.9,144.9L156.5,141.7ZM157.8,18.4L158.1,19.5L159.1,20.1L163,20.3L164.2,19.7L164.8,18.9L165,18L163.1,13L162.1,12.6L159.5,12.6L158.3,13L157.8,14.1ZM156.4,27.2L156.9,28.3L157.8,28.7L163.5,28.3L164.2,26.8L163.3,21.8L162,21.1L157.7,21L156.6,21.4L156,22.7ZM159.7,46.5L163.6,45.5L164.1,44.6L164.7,40.4L164.2,39.1L163,38.5L158.9,38.5L156.8,39.5L156.4,41.2L158.5,46ZM163.5,133.7L164.6,133.3L165.1,132.4L165.1,126.3L164,125.4L159.6,124.8L158.8,125.5L156.9,129.2L156.8,130.7L159.2,133.7ZM157.8,144.9L158.2,145.8L159,146.4L162.2,146.4L163.4,145.9L163.9,144.7L163.7,143.5L163,142.7L159.5,142.2L157.9,143ZM172.7,47.2L171.2,40.3L170.2,39.8L166.9,39.9L165.9,40.5L164.9,45.5L166.1,47.5L170.7,49L172.3,48.5ZM163.8,65.6L163.9,67.3L166,69.3L167,69.4L170.5,68.2L171.1,66.9L170.5,60.8L170.1,59.9L168.9,59.3L166.9,59.7ZM166,123L166.1,124.1L167.1,125L172.1,124.7L174.6,122.8L175,121.4L170,116.2L168.7,115.9L167.4,117ZM171.9,146.4L173.3,145.7L173.4,143.9L169.3,139.2L168.2,138.9L167.2,139.2L164.7,142.4L165.1,145.7L166.4,146.4ZM174.7,50L173.4,51.3L172.7,56.7L173.7,57.8L177.3,58.7L178.1,58.1L182.1,53L182.4,51.5L181.9,50.7L179.4,49.1ZM176.5,120L178.5,118L179.4,113.9L179.2,113L178.4,112.2L176.2,111.2L175.2,111.2L171,113.9L170.7,114.8L171,115.8L175.1,119.8ZM170.6,136.2L169.7,137.2L169.9,138.5L174.5,143.8L175.8,144.2L178.2,144L179.1,143.5L180.1,140.1L178.7,135.6L178.1,134.7L174.5,134.1ZM180.7,72.1L178.1,78.6L178.6,79.6L181.2,81.1L182.4,81L185.2,79.6L186.2,76.4L186.1,74.6L184.1,71.6L181.6,71.3ZM186.2,141.3L185.9,140.2L184.9,139.6L181.5,140.5L180.8,141.2L180.2,143.4L180.3,144.7L182.1,146.4L185.4,146.2L186.2,145.1Z"/>
</g>
<path d="M149,79.9L149.5,40.1L149.5,39.9L149,12.1L142,12.1L142.5,40L142,80L143.5,110L144.5,146.9L151.5,146.9L151.5,146.7L150.5,109.8L150.5,109.7ZM115,12.2L115.5,40.1L115.5,40.2L116.5,70.2L116.5,70.4L118,95.4L118,95.8L121,120.7L123.4,146.9L130.4,146.9L128,120L125,95L123.5,70L122.5,40L122,12.1L115,12.1Z" fill="#dcae6c" opacity="0.34" filter="url(#soft2)"/>
<path d="M144.5,80L145,40L145,40L144.5,12.1L142,12.1L142.5,40L142,80L143.5,110L144.5,146.9L147,146.9L147,146.8L146,109.9L146,109.9ZM119.5,12.1L120,40L120,40.1L121,70.1L121,70.1L122.5,95.1L122.5,95.3L125.5,120.3L127.9,146.9L130.4,146.9L128,120L125,95L123.5,70L122.5,40L122,12.1L119.5,12.1Z" fill="#dcae6c" opacity="0.3" filter="url(#soft3)"/>
<path d="M81,12C81.2,16.7 82,27 82.5,40C83,53 83.4,76.7 84,90C84.6,103.3 85.3,110.5 86,120C86.7,129.5 87.7,142.5 88,147" fill="none" stroke="#c99b5e" stroke-width="6.5" opacity="0.42" filter="url(#soft2)"/>
<path d="M81,12C81.2,16.7 82,27 82.5,40C83,53 83.4,76.7 84,90C84.6,103.3 85.3,110.5 86,120C86.7,129.5 87.7,142.5 88,147" fill="none" stroke="#b98d55" stroke-width="0.9" opacity="0.55"/>
<path d="M49,98C49.8,101.7 52.2,111.8 54,120C55.8,128.2 59,142.5 60,147" fill="none" stroke="#c99b5e" stroke-width="6.5" opacity="0.42" filter="url(#soft2)"/>
<path d="M49,98C49.8,101.7 52.2,111.8 54,120C55.8,128.2 59,142.5 60,147" fill="none" stroke="#b98d55" stroke-width="0.9" opacity="0.55"/>
<rect x="180.7" y="12.1" width="6" height="134.8" fill="url(#edgeR)"/>
<path d="M143.5,110L142,80L142.5,40L142,12.1L122,12.1L122.5,40L123.5,70L125,95L128,120L130.4,146.9L144.5,146.9Z" fill="#3a3938"/>
<path d="M120.2,29.3Q122.8,28.5 124.6,29.3L138.8,36Q140.6,36.8 141.7,39.3L144.3,33.7Q141.7,34.5 139.9,33.7L125.7,27Q123.9,26.2 122.8,23.7Z" fill="#f6e3c0" stroke="#c9ab7a" stroke-width="0.5"/>
<path d="M122.1,55Q124,53.2 126,53.2L139,52.9Q141,52.8 143.1,54.5L142.9,48.5Q141,50.3 139,50.3L126,50.6Q124,50.7 121.9,49Z" fill="#f6e3c0" stroke="#c9ab7a" stroke-width="0.5"/>
<path d="M126.8,110.3Q128.2,108.3 130.1,107.6L139.6,104.3Q141.5,103.6 143.8,104.3L142.2,99.7Q140.8,101.7 138.9,102.4L129.4,105.7Q127.5,106.4 125.2,105.7Z" fill="#f6e3c0" stroke="#c9ab7a" stroke-width="0.5"/>
<path d="M126.9,124.9Q129.2,124 131.1,124.5L140.9,127Q142.8,127.5 144.4,129.4L145.6,124.6Q143.3,125.5 141.4,125L131.6,122.5Q129.7,122 128.1,120.1Z" fill="#f6e3c0" stroke="#c9ab7a" stroke-width="0.5"/>
<path d="M82.1,39.6L82,40L82,42.2L82.5,42.8L83.1,42.9L83.5,42.6L83.8,42.2L83.6,39.8L83.4,39.4L83,39.2L82.4,39.3ZM82.4,49.1L81.9,56L82.1,65.4L82.3,66.2L82.5,66.5L82.8,66.7L83.6,66.9L84.3,66.7L84.7,66.5L84.9,66.2L85.1,65.4L84.9,56L84,49.1L83.6,48.6L83.2,48.5L82.8,48.6ZM82.6,72.8L82.4,73.6L82.7,82L83.6,89.9L83.8,90.1L84.2,90.3L84.6,90.1L84.8,89.7L85.4,73.6L85.2,72.8L84.7,72.3L84.3,72.2L83.9,72.1L83.2,72.3Z" fill="#3a3938" filter="url(#soft3)"/>
</g>
<rect x="45.9" y="12.8" width="140.1" height="133.3" fill="none" stroke="#74b08c" stroke-width="1.5" filter="url(#soft3)"/>
<clipPath id="clip1"><rect x="45.1" y="167.4" width="152.1" height="135"/></clipPath>
<g clip-path="url(#clip1)">
<rect x="45.1" y="167.4" width="152.1" height="135" fill="#dcc190"/>
<g filter="url(#soft)">
<path fill="#fef2d7" d="M48.3,185.9L49.3,185.1L49.4,183.6L48.1,182.1L46.6,182L45.6,183.1L45.7,185.1L46.8,186.1ZM45.5,169.8L46.2,171.1L47.5,171.4L49.2,170.9L49.8,169.4L48.9,168L47.1,167.9L45.9,168.5ZM45.7,230.1L45.6,232.7L47,233.8L51.9,234.5L52.7,234L54.2,231.8L53.9,230.4L48.9,225.5L48,225.6L47.2,226.2ZM48.2,242.9L49.6,243.5L51.2,243.4L52.1,242.7L52.4,241.7L51.9,236.9L50.9,235.5L47.1,234.9L46.2,235.2L45.6,236.1L45.6,239.3ZM45.8,277.8L46.7,279.3L49.2,279.4L50.2,278.9L51.9,276.7L49.1,268.4L47.9,267.5L46.5,267.8L45.7,268.9ZM53.5,186.3L52.2,186.6L51.5,187.8L53,194.4L54.3,195.2L59.1,194.8L61.3,189.7L61.1,188.2L60.2,187.6ZM56.1,230.7L59,229.8L59.5,228.8L59,221.6L57.7,220.8L53.1,220.2L52.2,220.4L49.8,223L49.9,224.8L55.1,230.4ZM59.7,232.5L58.4,231.3L55.9,231.7L52.9,235.1L53.3,241.5L54.2,242.7L59.1,243.8L62.1,241.5L62.2,240.4ZM54.1,243.7L52.9,243.9L52.1,244.9L51.7,253.1L52.2,254.3L54.4,255.4L55.9,254.7L59.4,250.2L59.6,249.2L58.7,245ZM60.5,194.4L60.6,195.9L62.5,197.9L63.5,198.3L64.4,198.1L68.9,191.6L68.9,190L67,188.3L63.2,188.4L62.5,189.2ZM64.3,212L62.7,211.4L61.4,212.5L60.4,218.5L60.7,219.4L61.5,220L65.5,219.9L67.7,217.5L67.5,216ZM73,225.6L74,225L74.3,223.9L72.3,218.3L71.2,217.4L69.1,217.6L67,219.9L67,221.4L69.7,225.8L70.8,226.1ZM67.6,296.1L67.5,297.5L69.1,300L70,300.2L74.2,299.6L75.4,298.4L75.7,294.1L74.6,292.8L70.3,292.3L69.3,292.9ZM79,182L80.1,182.3L81,181.9L84.4,177.5L84.2,176.5L81.6,172.4L80.3,171.6L76.9,172.5L76,173.8L77,180.3ZM81.1,221.6L81.5,220.1L79.2,214.3L78.1,213.7L76.1,213.5L75.2,213.9L73.2,216.2L73,217.2L75.2,223.3L76,223.9L77,223.9L80.1,222.7ZM76.7,249.2L77.4,250.2L78.3,250.5L81.2,250L82.2,249.4L82.5,248.4L82.2,243.7L81.5,242.4L80.4,242.1L76.9,242.6L75.8,243.3L75.5,244.6ZM88.8,294.5L89.5,293.6L91.1,288.8L91,287.8L88.9,285.6L85.2,285.7L84.4,286.4L82.8,289.7L82.7,291.1L86.4,294.9L87.5,295.1ZM90.1,175.2L90.3,176.4L91.2,177.1L94.3,177.7L95.3,177.4L98.8,172.2L98.8,170.6L97.5,169.3L96.6,169L91.7,170.5L90.8,171.5ZM90.7,185.8L91,186.9L92,187.5L94.3,187.4L95.3,186.7L97.1,182.1L95.1,178.8L92.3,178.3L90.9,179.1ZM92.1,199.1L91.2,199.5L90.8,200.4L90.4,206.3L91.6,207.3L95.5,207.5L96.4,206.5L98.1,202L98.1,201L95.7,198.5ZM94.3,294.9L95.9,294.4L97.7,290.6L97.6,289.3L96.6,288.4L93.1,288.4L91.8,289.5L90.9,292.5L90.9,293.4L91.9,294.4ZM97.6,180.8L98.9,181.5L101.7,181.4L102.7,180.7L105.3,176L105.2,175.1L103.7,172.2L101,171.7L99.8,172.3L96.4,177.8L96.4,178.9ZM97.3,206.7L97.4,208L98.4,208.9L103.4,208.9L104.2,207.5L103.8,202.4L102.7,201.7L100.3,201.6L99.4,201.9ZM100.5,218.6L102.1,217.8L105,212.4L105,211.1L104.1,210.2L99.2,209.9L97.9,211L97.3,217L98.5,218.3ZM106.2,171L105.4,171.8L105.2,172.8L106.6,175.6L111.9,177.7L113.6,177.1L113.9,176.2L113.8,169.9L113.1,168.6L111.5,168.4ZM105,189.2L105.4,190.4L106.4,191L110.9,190.3L113.1,188.2L113.4,186.6L112.5,184.8L111.4,184.1L106.4,185.2L105.4,186.3ZM113.5,207.9L114.2,207L114.2,206L111.3,201L107.1,200.1L105.3,201.3L105,202.2L105.2,208.9L106.1,210.3L109.2,210.7ZM102.9,219.4L104.8,221.4L105.8,221.4L110.3,220.1L111.2,219.2L111.3,217.9L109.3,212.5L108.6,211.8L107.1,211.6L106.1,212.2L103,218.1ZM109.8,232.2L108.5,231.6L107.2,232.1L104.2,238.1L104.1,239.6L105.5,241.1L106.5,241.2L111.5,240.2L113.6,238.3L113.4,236.7ZM110,255.3L111.2,254.3L112.5,251.1L112.5,250L107.1,246L105.7,245.9L104.4,247.5L104.4,248.8L107.8,254.9L108.8,255.5ZM120,197.9L119.2,196.9L117.9,196.7L114.3,197.8L112.8,199.6L112.5,201.1L114.8,205L116.4,205.2L120.5,202.8L120.8,201.5ZM116.8,206.1L116,207.1L116.1,208.3L119.8,212L121,212L125.3,209.9L126.2,208.8L126.1,205.8L124.3,204L121.6,203.5ZM122,277.4L123,278.2L125,278.4L125.8,278.2L126.5,277.5L126.7,271.7L125.8,270.4L122.1,270L120.1,271.9L120,273.3ZM156.6,230.4L154.9,230.2L153.9,231.6L154,240.2L154.5,241.2L155.5,241.7L156.7,241.5L157.8,240.2L158.9,233.1L158.5,231.8ZM158.7,191.9L159.6,192.6L162.8,193.1L165.8,189.6L166,187.9L163.6,185.2L159.9,184.7L158.6,185.4L157.1,187.4L156.9,188.3ZM156.5,218.5L156.4,219.6L157.2,221.1L158.7,221.9L163.7,220.9L164.4,219.9L164.8,217.8L163.8,216.4L159,214.9L157.7,215.7ZM161.6,251.8L160.5,251.3L159.6,251.5L156.6,253.4L156,254.6L156.2,255.6L159.7,260.4L160.9,261L162.6,260.7L163.4,260L164,255.2L163.7,254ZM159,276.3L157.7,276.5L156.9,277.8L158.3,282.7L159.5,283.5L163,283.3L163.9,282L163.6,277.9L162.6,277.1ZM156,293.7L155.2,294.8L155.3,297.1L157.4,299.5L158.4,300L162.4,299.1L164.9,293.9L164.5,292.6L163.2,292.1L158.6,292.1ZM172.1,173.6L172.4,172.4L171.8,171.1L167.4,169.4L166.2,170.1L163.7,173.7L163.4,174.7L163.9,175.7L165.3,176.4L169.5,176L170.5,175.5ZM167,182.5L165.9,182.7L165,183.6L164.8,184.5L165.1,185.4L167.5,187.8L170.5,187.3L172.1,185.3L171.9,183.7L170.9,183.1ZM169.4,188.7L167.2,189.3L164.5,192.9L164.2,194.3L165.6,196L170.3,196.7L171.8,195.5L172,194L170.5,189.4ZM173,299.8L173,298.6L171,294.3L170,293.8L167.4,293.6L165.8,294.4L163.5,299.5L164.5,301.4L165.8,301.9L171.4,301.9L172.4,301.2ZM173,183.7L174.2,184.3L177.2,184L180.5,179.8L178.9,176.4L173.8,174L172.5,174.5L171.1,176.8L172.1,182.3ZM178.5,236.8L179.6,236.2L180.1,234.9L179.8,234L178.6,232.5L174.7,231.8L173.4,232.4L172.5,234.7L173.6,237L174.8,237.4ZM173.8,247.5L172.2,253.8L173.1,255.1L174.5,255.9L180,254.8L180.7,254.2L181,253.2L177.6,247.3L176.9,246.7L175.4,246.6L174.5,246.8ZM173.1,292.2L172.2,293L172,294L174.2,298.4L175,298.7L179.9,298.8L181.1,298.1L181.5,297.2L181.2,293L180.6,291.7L178.7,290.5L177.8,290.4ZM178.4,193.9L178.3,195.5L180.3,198.7L181.1,199.3L182.1,199.3L186.5,197.6L187.5,196.5L187.2,193.1L186.1,192L180.7,191.1L179.7,191.6ZM185.8,209.7L182.6,208.9L181.6,209.6L179.5,214.6L179.7,215.8L180.9,217.4L181.8,217.9L182.8,217.8L186,216.2L187.4,214.5L186.5,210.3ZM186.7,245.7L186.1,244.6L184.6,243.9L180.9,244.5L179,245.9L178.9,247.6L182.5,253L183.5,253.2L185.5,252.8L187,251.2L187.2,250.2ZM179.5,271.7L179.6,273L181.2,274.6L184.5,274.6L185.4,274.2L186,273.1L186.4,267.2L186,266.2L184.9,265.6L182.3,265.3L181.4,265.7L180.9,266.6ZM190.6,167.9L189.5,168.2L188.9,169.4L190,173.8L191.3,174.6L194.4,174.6L195.1,173.5L196,169.8L195.8,168.8L194.6,167.9ZM196.6,209.5L193.1,206.8L190.7,206.9L187.9,209.3L187.7,210.7L188.3,213.7L189,214.6L192.5,215.7L196.5,213ZM185.9,242.1L186.3,243.5L187.9,244.1L192.7,242.7L193.4,242L193.6,241L192.7,239.2L188,237.2L186.6,238.3ZM194.6,245.3L194.1,244.3L192.9,243.7L188.5,244.9L187.7,246.2L188.2,249.4L189.6,250.2L193.9,249.7L194.7,248.5ZM187,272.4L187.4,273.7L188.5,274.2L192.8,273L194.6,270.8L194.6,269.4L193.2,267.5L189.4,266.1L188.4,266.1L187.3,267.3ZM190.1,290.1L188.6,290.1L187.7,291.2L188.7,297.5L189.9,298.5L193.1,298.5L194.2,297.2L194.1,292.8L193.4,291.8Z"/>
<path fill="#fdf0d4" d="M53.7,196.1L52.5,196.6L51.4,198.6L53.9,206.4L55.1,207.5L58,207.6L58.9,206.9L62,200.3L62.1,199L59.3,196.1ZM54.7,208.4L53.5,208.8L50.9,211.3L52.3,218.2L53.6,219.3L58.4,219.8L59.4,218.6L60.5,210.6L58.5,208.7ZM60.2,265.1L60.1,266.7L61.2,267.6L66.6,268.6L67.5,268.3L68.2,267.4L67,261.1L65.8,260L63,260.6ZM60.7,296.4L59.5,296.7L58.8,297.8L59.4,300.8L60,301.7L66.1,301.9L67.4,301.2L67.6,299.8L66.3,297.5ZM74.6,170.2L75.3,171.4L76.6,171.7L78.8,170.9L79.4,169.2L78.4,168L75.9,167.9L74.7,168.8ZM74.2,240.2L74.7,241.3L75.7,241.9L81.8,240.9L83.7,239.1L83.9,237.9L81.5,234.7L77.5,233.7L74.4,236.2ZM78,251.5L76.9,252L76.5,253.1L77.7,258.4L78.7,259L82.6,259.4L83.8,259L84.4,257.4L82.6,251.6L81.4,250.9ZM82.1,169.9L82.1,171.5L85.3,176.4L86.5,176.8L88.7,176.1L89.9,171.2L89.4,169.8L87.2,168L84.2,167.9L83,168.3ZM90,190L89.6,188.8L88.6,188.2L85.2,188.2L84.1,188.8L83.1,192.3L84.7,196.5L87.7,197.4L89.2,196.7ZM85.3,250.1L84.2,250.8L83.8,251.8L85.2,256.9L86.4,257.9L88.6,257.7L91.8,255L92,253.3L89.2,250ZM90.7,280.9L90.6,279.3L89.5,277.9L88.6,277.5L83.7,277.4L82.7,278.1L82,279.6L82.1,280.6L84.2,283.9L85.4,284.7L88.8,284.3ZM92.3,226.6L91,227L90.5,228L91.2,233.1L92.3,234L95.4,234.1L96.2,233.4L97.7,230.2L97.7,228.8L95.7,226.9ZM96.6,265.5L95.6,264.9L93.1,265L90,267.6L89.6,269.3L91.1,271.4L92,271.8L96.3,272L97.6,271.5L98,270.6L98.1,267.7ZM105.9,198.7L104.1,192.6L103.3,192.1L98.8,192.5L96.7,196.8L96.9,198.2L99.4,200.6L104.6,200.6L105.6,199.7ZM105.1,257.3L106.4,256.8L106.9,255.3L103.8,249.5L102.2,248.9L98.8,250L96.9,253.5L97.3,255.1L99.4,257ZM105.6,259.9L105.2,258.8L104.3,258.2L99.4,258.2L98.7,259L97.1,263.4L97.3,264.9L98.3,266.1L99.4,266.5L104.9,264.9L105.6,263.8ZM100.2,267.3L99,268.5L98.9,270.5L99.3,271.4L103.4,273.4L105,273.1L106.7,267.9L106.3,266.5L104.8,265.9ZM100,273L98.7,272.9L97.8,273.7L96.9,278.4L97,279.4L99.9,282.1L103.6,281.6L104.5,280.5L105.6,276.8L105.5,275.9L104.7,274.9ZM125.4,176.9L125,176L124.4,175.4L121.4,175.1L118.8,176.8L118.4,178.4L122.2,182.3L123.6,182.6L124.5,182.1L125.4,180.7ZM122.3,195.5L121.2,196.1L120.8,197.1L121.8,201.5L122.7,202.6L124.3,202.9L125.2,202.3L126,200.7L125.9,196.7L124.8,195.4ZM163.9,208.9L165.2,207.8L165.5,206.5L165.2,205.6L162.7,203.5L160.1,204L158.8,207.5L159.1,208.9L160.4,209.6ZM158.8,222.8L157.5,223.8L156.4,228.8L159.3,231.2L161.8,231.1L166.3,226.2L166.5,224.6L165,222.5L164.1,222ZM164.2,230.1L163.8,231L164.1,232.1L167.4,234.6L171.2,234.1L172.8,231.3L171.6,226.9L170.3,226L167.6,226.1ZM173,238.7L172.8,237.7L171.5,235.5L170.5,235.3L168.1,235.6L167.2,236.5L166.2,241.2L168.4,243.8L171.4,244.1L172.4,243.1ZM172.8,247.4L172.8,246.3L172,245.5L168.4,245.1L163.2,249.9L162.9,251.6L165.1,253.7L170.5,253.2L171.4,252.3ZM168.4,264.1L166.8,264.8L164.4,269.2L166.3,273.4L167.6,274.2L170,273.8L170.8,272.4L170.5,265.4L169.7,264.4ZM170.1,274.9L166.3,275.7L164.8,277.3L164.9,282L166.3,283L170.9,283L172.4,281.8L172.9,280.8L171.4,275.9ZM184.9,179.7L186.3,179.2L189.2,174.8L187.7,169.1L187.1,168.3L186.3,168L184.5,168.2L183.7,168.8L180.1,175.9L181.7,179.2ZM184.4,225.6L187.6,223.6L187.7,222.7L186.3,218.4L184.8,217.9L182.1,219.3L180.8,222.5L182,224.7ZM183.6,243.1L185,242.1L185.8,236.7L184.6,235.4L181.9,235.4L181,235.9L180,237.3L180.7,241.9L181.7,243.1ZM187.7,178.7L187.5,180.3L188.8,181.4L195.1,182L196.1,181.5L196.7,180.3L196.6,177.3L194.7,175.8L190.2,175.7ZM191,197.9L189.6,198.5L189.3,200L190.7,205.1L191.6,205.8L193,205.8L193.8,205.2L196.5,201.2L196.7,199.2L195.4,198ZM189.6,215.9L188,216L187.3,217.3L188.7,222.5L189.8,223.5L193,223.6L193.8,222.8L194,221.8L192.3,217.5L191.7,216.7ZM187.4,252.2L187.3,253.9L189.6,256.8L190.6,257.1L192.2,256.9L193.3,256.1L194.4,252.7L193.7,251.2L192.7,250.9L188.7,251.2Z"/>
<path fill="#fceccf" d="M51.1,246.2L50.5,244.8L49.3,244.4L48.3,244.7L45.8,246.4L45.6,252.1L46.3,253.3L49.3,253.6L50.5,252.9ZM47.5,264.8L48.3,265.6L49.2,265.8L51,265.1L51.6,264.3L53.2,256.9L52.8,255.9L51,254.6L46.9,254.6L45.6,255.7L45.6,260.5ZM51,170.1L50.6,171.3L51.3,172.5L56.3,176.2L57.5,176.3L58.4,175.7L58.8,174.8L58.5,169.5L57.8,168.2L56.8,167.9L53.1,167.9ZM51.4,278.9L51,279.8L51.1,280.7L53.6,284.5L54.8,284.8L57.4,284L59,278.9L58.4,277.2L57.3,276.9L53.4,277.3ZM62.5,185.8L62.9,186.7L63.8,187.2L66.8,187.1L67.5,186.5L69.2,182.6L69.1,181.2L66.3,177.4L65.6,176.9L62.8,177.3L61.8,178.4ZM62.2,230.4L60.9,231L60.6,232.4L62.7,238.7L63.4,239.4L64.5,239.6L65.5,239L68.1,234.8L68.4,233.5L67.2,231L66.5,230.3ZM62.3,259.1L63.4,259.4L66.1,258.5L66.6,257.7L67,254.6L66.1,253.5L61.5,251.1L60.5,251L59.6,251.5L57.7,254L57.4,255.4L57.9,256.3ZM71,201.4L69.9,202.5L69.6,207.3L70.5,208.3L72.3,209.1L73.2,209.1L74.3,208.1L76.3,203.1L76.3,202.1L75.8,201.3L74.2,200.5ZM76.1,233.5L76.6,232.7L76.7,231.7L75.1,227.4L74.3,226.6L73.3,226.5L70.1,227.3L68.1,229.3L68.1,230.6L69.3,233.3L70,233.9L73.6,235.2ZM73.3,237.4L72.4,235.9L70.3,235.1L69.2,235.3L66,239.8L66,241.4L66.7,242.1L68.6,242.9L72.4,242L73.3,240.9ZM73.8,269L69.3,269.4L68.7,270.2L67.8,274.6L67.9,275.6L68.9,276.5L73.5,277.4L74.5,276.1L75.1,270.1ZM75.9,194.2L74.6,195.4L74.7,198.9L75.3,199.9L77.5,201.2L79.6,201.1L83.3,197L82.7,194.1L81.8,193.3ZM76,266.7L76.3,267.8L77.3,268.5L81.5,269.1L83,268.3L83.7,267L83.5,261.8L83.1,260.9L82.1,260.2L78.3,259.8L77,260.2L76.4,261.2ZM91.8,217.6L95.8,217L96.4,216L96.9,210.3L96.7,209.4L95.4,208.6L90.3,208.1L89.4,208.3L88.6,209.1L88.5,210.2L90.6,216.9ZM97.6,220.4L97.4,218.9L96.3,218.2L90.7,218.9L89.7,220L89.5,220.9L90.9,225L92.1,225.7L94.6,225.9L95.5,225.5L96.1,224.9ZM96.6,280.5L95.3,280L92.7,280.3L91.7,280.9L90.1,284.7L90.4,285.6L91.8,287.1L92.7,287.4L96.2,287.4L97.4,286.7L98.9,283.1L98.5,282.2ZM102.9,183L101.8,182.3L99.2,182.4L97.8,183.3L96,187.8L96.4,188.7L98.5,191.1L102.6,191.2L103.9,190.3L104.4,185.4ZM101,283.1L99.9,283.8L98.2,287.2L98.5,289.1L99.2,289.9L103.8,291.9L105.2,291.9L105.9,291.2L106.1,290.2L104.2,283.7L103.1,282.8ZM107.9,241.9L106.6,243.1L107,244.7L110.8,247.4L111.8,247.5L112.7,247L113.1,245.4L111.8,241.9L110.6,241.4ZM112.6,283.5L114.1,283.2L114.8,281.9L112.7,276.5L111.3,275.9L106.8,276.8L105.7,279.7L106.1,281.1ZM121.8,185.9L122.4,184.8L122.1,183.5L117,178.7L114.9,178.2L113.7,178.9L112.9,183.2L114.7,187L118.5,188ZM114.4,219.8L113.5,220.4L113.1,221.5L114.1,226.7L115.2,227.4L118.7,227.9L119.7,227.7L120.4,226.4L120.2,219.7L118.8,219ZM117.3,237L120.2,232.9L120.1,230.2L119.1,229L113.8,228.3L111.4,230L110.8,230.8L111,232.3L114.6,236.7L115.4,237.3ZM124.4,186.6L122.6,186.4L119.6,188.9L120.2,193.4L121.2,194.5L124.6,194.4L125.7,193.3L125.7,188.1ZM127.3,252.1L126.3,251.7L123.5,251.9L122.3,252.5L120.7,257.7L121.3,259.4L122.3,259.7L124.6,259.6L125.8,259L128.2,254.1L128.1,253.1ZM126,299.4L124.9,298.3L122.2,298.2L121.1,299.1L120.9,300.7L122,301.9L125,301.9L126.1,300.9ZM156.6,170.1L153.8,170.4L153.1,171.3L153.3,176L154.4,176.9L157.5,177.5L158.5,177.3L159.9,175.7L159.8,174.3L157.6,170.5ZM158.9,260.9L156.6,258.1L155.6,258.1L154.4,259.3L154.4,263.3L155.6,264.6L157,264.4L159,262ZM158.7,168.8L158.7,170.4L160.3,173.2L161.4,173.8L162.9,173.2L165.1,169.8L164.7,168.5L163.6,167.9L159.9,167.9ZM156,198.2L155.7,199.3L156.4,200.4L159.3,202.7L161.5,202.6L162.8,201.7L164.3,196.6L162.7,194.4L159.5,193.7L158.4,194.3ZM159.5,210.7L158.5,211.2L158.1,212.1L158.3,213.1L159,213.8L164.6,215.7L165.6,215.5L166.3,214.9L166.4,213.4L165.4,210.8L164.7,210.1L163.7,209.9ZM164.4,262L163.2,261.6L160.1,262.4L157.3,265.6L157.1,266.8L157.7,267.8L158.7,268.3L162.4,268.6L163.7,268.2L165.9,264.2L165.7,263.1ZM180.4,224.1L179.1,223.4L174.9,223.8L173,225.1L172.5,226.7L173.8,230.4L174.7,230.9L177.4,231.2L178.6,230.6L181,225.9L181,224.9ZM179.1,264.4L180.4,264.2L181.3,263.2L180.8,256.7L179.4,255.9L174.5,256.9L173.8,258.2L173.4,261.3L173.7,262.3L174.5,262.9ZM179.9,189.1L180.9,190.1L186.3,191.1L187.9,190.5L188.3,189.1L186.8,182.2L186.1,181L185.1,180.7L181.6,180.6L178.6,183.9L178.3,185.3ZM182.6,206.7L183.5,207.9L186.4,208.8L187.5,208.5L189.5,206.6L189.7,205.2L188.3,199.7L187.7,198.9L186.2,198.7L182.2,200.6L182,201.6ZM185.3,253.8L182.5,254.6L181.9,255.6L182.3,263.3L183.4,264.5L186.6,264.7L187.7,263.7L189,257.8L186.3,254.2ZM186.6,299.1L187.4,298.5L187.7,297.6L186.9,292.4L186.1,291.3L184.9,291.1L182.9,291.8L182.2,292.7L182.4,297.9L183.1,298.9L184.7,299.5ZM188.4,195.4L188.9,196.4L189.7,196.9L194.9,197.1L195.9,196.8L196.7,195.6L196.3,190.4L194.9,189.7L189.3,190.5L188.2,192.1ZM187.3,233.7L187.2,234.8L187.8,235.7L192.1,237.9L193.1,238.1L194.3,237.4L196.5,233.6L196.6,232.7L195.3,230.8L194.1,230.4L188.2,232.6ZM193.7,281.9L188.8,283.4L188.4,284.3L188.8,288.1L193.7,290.9L195.3,290.7L196.1,289.9L196.4,288.9L195.1,282.6Z"/>
<path fill="#fae7c8" d="M45.6,175.8L45.9,177.3L49.6,182.3L50.6,182.8L52.1,182.3L55.4,177.8L54.8,176.3L49,172.1L46.7,172.8ZM47.8,198.7L46.7,199.2L45.6,200.9L45.6,209L46.7,210.3L49.7,210.5L52.6,208.4L53.1,207L50.6,199.4L49.6,198.7ZM47.3,211.3L46.2,211.7L45.6,212.7L45.5,221.7L46,222.8L47.4,223.4L48.7,222.9L51.2,220L51.5,219L49.9,212.2L49,211.4ZM52.9,182.7L52.6,184.3L53.6,185.4L59.7,186.6L60.8,186.3L61.5,184.8L60.5,177.8L59.1,177L57,177.6ZM66.2,252.5L67.7,252.5L68.6,251.4L68.2,244.5L67.3,243.3L64.5,242.1L63.4,242.1L60.1,244.7L60.5,249L61.2,249.9ZM59,275.3L59.3,276.4L60.3,277L64.7,277.3L65.7,277.1L66.7,275.9L67.5,271.3L67.3,270.3L66.1,269.5L60.8,268.5L59.9,268.7L59,270ZM67.2,175.2L67.1,176.9L70.2,181L71.2,181.2L74.4,180.8L75.6,180L75.9,179L75.1,174L74.3,172.8L73.3,172.6L68.8,173.4ZM72.3,192.3L71,191.6L69.5,192.2L66.1,197.6L66,198.6L66.7,199.6L69.7,200.8L73.4,199.3L73.7,198.4L73.7,194.6ZM66.3,209.9L65.5,210.9L65.5,212L69.1,216.4L71.9,216.2L74.3,213.4L74.3,212.2L73.5,210.8L69.7,208.9L68.6,208.8ZM72.9,242.9L69.7,244L69.2,244.9L69.8,251.2L71.2,252L75.2,251.6L75.8,250.8L76,249.8L74.2,243.7ZM68.4,277.4L67,277.7L66.4,278.8L67.2,283.5L67.6,284.4L69.2,284.9L74.5,283L75.6,280.9L74.7,279.1ZM76.9,224.9L76,225.6L75.8,226.8L77.7,231.9L78.4,232.6L80,233.2L81.4,233.1L82.1,232.4L83.2,229.5L83.1,228.1L80.4,224.1L79.2,224ZM77.5,300.9L78.4,301.4L79.4,301.3L85.3,298.1L85.9,297.3L85.7,295.6L81.5,291.6L78.1,291.9L76.8,293.1L76.3,299.2ZM85.3,197.7L83.6,198.2L80.9,201L80.6,202.3L84.6,208L85.5,208.5L87.3,208.5L88.6,207.7L89.2,206.9L89.9,199.9L89,198.7ZM89.5,218.8L89.7,217.3L87.7,210.6L87,209.7L86.1,209.4L84.6,209.6L80.5,213.1L80.3,214.4L82.7,220.1L83.7,220.4L87.9,220.1ZM86.9,239.6L86,239.1L84.8,239.3L83,241.6L83.4,247.8L83.8,248.7L84.6,249.2L88.8,248.6L90.6,244.9L90.3,243.5ZM89.1,259.6L88,258.8L86.1,258.9L85.2,259.2L84.5,260L84.6,266.3L85.6,267.6L88.3,267.7L91.5,264.8L91.5,263.3ZM85,268.5L83.8,268.8L82.6,270.2L83.2,275.5L84.4,276.5L88.7,276.4L89.6,275.4L90.4,273L90.3,271.9L88.1,269ZM90.4,196.2L90.8,197.5L92,198.1L94.8,197.5L95.7,196.8L97.5,191.9L95.1,188.7L92.5,188.4L91.2,189.2ZM95.3,243.2L98.4,239.1L98.2,238.1L96.2,235.7L95.3,235.2L90.9,235L88.1,237.2L87.6,238.1L88,239.5L91.3,243.1L92.2,243.6ZM92.7,272.8L91.2,273.6L90.2,276.2L90.3,277.2L91.9,279.2L95.1,279.1L96,278L96.6,274L95.5,273ZM98.2,227.9L99.4,228.3L102.6,227.7L103.8,226.7L104,222.4L101.6,219.7L99.6,219.5L98.5,220.5L96.8,225.7L97.1,226.8ZM101.7,238.6L103.3,237.8L106.3,231.8L106,230.3L103.9,228.5L99.1,229.5L96.9,234.1L97.2,235.4L99.3,238.1ZM104.9,244.6L104.8,241.9L103.2,240L102.2,239.6L99.5,239.7L96.4,243.9L98.1,247.8L99.4,248.6L103.1,247.7ZM96.7,294.9L96.7,296.1L98.6,299.5L99.3,300.2L100.3,300.3L102.3,300.1L103.2,299.4L104.6,294.2L103.8,292.9L99.4,291.2L98.1,291.9ZM112.1,182.1L112.2,179.3L111.4,178.6L106.6,176.9L105.5,177.7L103.6,180.9L103.5,181.9L104.7,183.9L106.1,184.3L111.3,183ZM106.2,273.3L106.3,274.6L107.4,275.4L111.8,274.9L112.7,274.5L113.7,273.2L114.1,271.8L112,267.9L108.8,267.3L107.6,268.2ZM107.8,282.9L106.2,283.2L105.5,284.7L107,289.7L107.7,290.4L108.8,290.6L110,289.8L111.8,285.2L111,284ZM118,218.2L119.2,217L119.3,213.5L115.7,209.2L115,208.8L114,208.8L110.7,210.9L110.2,212.6L112.6,218.5L114,219ZM120.1,244.1L120,242.6L117.1,238.4L115,238.4L113,240.4L112.9,241.7L114.6,246.9L115.4,247.8L116.4,247.9L118.3,247.3ZM114.8,271L116,271.9L118.4,271.8L121,269.4L121.1,268.5L119.6,262.6L118.5,261.4L116.8,261.8L113.2,266.8L113.2,268ZM117.9,272.8L115,273.2L113.9,274.5L113.5,275.9L115.9,281.8L116.6,282.4L117.5,282.5L118.4,282.1L120.8,279.5L121.2,278.1L118.9,273.3ZM114.4,293.8L117,293.9L118.1,293.5L119.8,289.2L119.7,288.2L117.6,284.5L116.3,283.7L113.4,284.7L110.6,290.6L111.3,292.2ZM120.3,298.5L120.1,297.2L118.4,295.1L117.5,294.8L115.6,294.9L114.6,295.8L112.5,299.6L112.4,300.7L113.7,301.9L118.5,301.9L119.6,301ZM120.7,168.2L120.1,169.7L121.3,173.5L122.4,174.2L124.4,174.1L125.2,172.7L124.8,168.6L123.6,167.9L121.6,167.9ZM125.2,243.9L124,243.4L121.6,243.8L119.8,246.7L119.8,248.3L122.2,250.8L125.3,250.9L126.4,249.9L126.7,245.8ZM122.1,260.6L120.9,261.2L120.5,262.3L122,268.1L123.2,269L126.2,269.1L127.1,267.6L126,261.5L124.9,260.6ZM127.6,281.4L127.5,280.3L126.7,279.4L122.5,279.3L118.9,282.9L118.7,284.4L120.9,287.9L125.3,287.5L126.3,286.4ZM121.2,297L125.6,297.1L126.3,296.4L128.5,291L128.1,289.6L126.2,288.3L121.1,289.3L119.2,293.6L119.4,294.8ZM131.5,283.4L130.9,282.4L129.9,281.9L128.8,282.2L128.1,283.2L127.3,287.3L127.8,288.2L129.8,289.5L131.1,289.3L131.9,288.3ZM132.8,296L132,291.5L131.2,291L130.2,291L129.4,291.5L127.7,295.5L128.3,297.1L131,297.7L132.4,297.1ZM131,298.6L128.2,298.6L127.4,299.3L127.3,300.3L127.6,301.2L128.8,301.9L131.4,301.7L132.1,300.6L131.9,299.3ZM154.8,187.5L156.3,187L158.4,183.6L157.8,179L157,178.3L154.8,177.9L153.6,178.4L153.1,179.6L153.3,186.2L153.9,187.2ZM156.2,201.4L154.5,201.2L153.5,202.6L153.7,208.8L154.4,209.7L155.7,210.1L156.6,209.9L157.3,209.2L158.7,204.4L158.3,203.1ZM162.6,176.1L161,176.2L159,178.4L159.2,182.6L160.5,183.8L163.4,183.8L165.3,181.6L164.7,177.7ZM159.4,241.1L157.9,241.7L157.6,243.3L159.8,249L160.8,249.7L161.7,249.7L166.5,245.4L166.9,243.9L165,241.7ZM163.8,270.5L162.6,269.5L159.6,269.3L158.7,269.6L158,270.8L157.7,273.7L158.1,274.8L158.9,275.3L163.2,276.3L164.6,276L165.4,275.1L165.5,274.1ZM170.4,178.4L169.2,177.1L166.8,177.4L165.9,178.6L166.3,180.9L167.4,181.6L169.9,181.6L170.7,180.3ZM165.8,209.4L167.8,214L168.8,214.3L171,214.2L172,213.5L173.5,208L172,205.5L170.9,205.3L167.6,206.1L166.5,206.9ZM166.3,283.9L165.1,284.4L164.5,285.4L165.1,291.5L166.5,292.6L170.7,292.7L171.6,291.2L170.6,285L169.5,284ZM173.4,170.2L173.1,171.4L173.8,172.8L178.7,174.9L179.9,174.1L182,169.4L181.6,168.5L180.6,167.9L175.6,167.9L174.6,168.4ZM171.7,187.3L171.3,188.8L173,193.9L174.3,194.6L177.1,194L179.2,190.3L177.4,185.7L176.3,185.2L173.9,185.3ZM178.8,201.1L173.5,204.3L173.4,205.4L174,206.7L174.8,207.3L180.1,207.7L181.5,206.7L181.1,202.3L180.1,201.1ZM173.4,212L173.5,213.1L174.3,214L177.9,214.5L179,213.5L180.1,210.7L180.1,209.8L179,208.6L175.2,208.4L174.2,209.3ZM173.7,263.6L172.2,263.9L171.5,265.2L171.8,271.9L172.4,272.9L173.4,273.3L178.2,272L179.8,266.7L178.9,265.3ZM172.3,289.3L172.9,290.3L174,290.8L177.5,289.2L178.2,284.4L177.6,283.1L174.1,282L173.2,282.3L171.9,283.4L171.6,284.6ZM184.4,227.4L183.3,226.5L181.9,226.8L179.6,230.9L179.7,232.3L181.5,234.3L185.2,234.4L186,234L186.5,233.1L186.6,231.9ZM187.7,281.1L186.2,276L185.3,275.6L182.5,275.6L181.6,276L181.1,276.8L180.4,280.3L180.8,281.7L181.7,282.3L185.8,282.8L187.2,282.4ZM190.7,189.3L195.8,188.3L196.4,187.3L195.5,183.3L194.6,182.9L190.1,182.4L188.7,182.9L188.2,184.3L189.4,188.8Z"/>
<path fill="#f7e0c0" d="M46.8,187.4L45.9,187.9L45.6,188.8L45.6,196.4L47.2,197.8L50.2,197.6L51.7,196.2L52,195.3L50.5,188L49.2,186.8ZM48.1,289.6L49.3,290.1L50.8,289.7L52.9,285.8L52.7,284.8L50.2,281.1L48.9,280.3L46.7,280.8L45.6,283.6L45.7,286.7ZM46,294.1L45.6,295.1L45.6,298.7L46.8,300.8L47.7,301.4L49.1,301.2L54,297L54.5,296.1L54.2,294.7L50.6,291.1L48.6,291.3ZM52.7,263.4L52.8,264.6L53.5,265.3L57,266.4L57.9,266.4L58.7,265.8L61.3,261.6L61.5,260.2L60.9,259.4L56.7,256.6L55.1,256.4L54.1,257.4ZM50.9,266.1L50.1,266.9L49.9,267.9L52.7,275.5L54,276.3L57.3,275.8L58.1,274.5L57.8,268L57,267.4L52.5,265.9ZM55.7,295L57.2,295.6L58.4,294.9L60.8,289L60.3,287.5L57.6,285.4L54,286.1L52,289.9L52.3,291.2ZM57.8,298.1L56.9,297L55.3,297L52.7,299.3L52.7,301.1L54,301.9L57.4,301.7L58.3,300.4ZM61.1,167.9L60,168.2L59.4,169.3L59.9,175.7L61.4,176.5L65.5,175.7L67.4,172.9L65.9,168.7L64.7,167.9ZM65.1,199.9L64,199.8L63,200.5L59.8,207.1L60,208.6L61.5,209.9L63.9,210L67.8,208.1L68.5,207.3L68.8,202L68.1,201.3ZM68.2,227.8L68.6,226L65.7,221.3L64.8,221L61.6,221L60.5,221.7L60.1,222.6L60.3,227.8L61,229.1L62,229.5L66.4,229.2ZM65.5,279.5L64.9,278.5L63.9,278.1L61.1,278L59.9,278.9L58.6,284.4L59.1,285.2L61.4,287.1L62.5,287.3L65.2,286.6L66.3,285.8L66.5,284.8ZM62.9,288.2L61.7,289.2L60.1,293.5L60.1,294.6L61.3,295.6L66,296.1L66.9,295.5L68.6,292.4L68.7,290.9L67.2,288.2L66.5,287.6L65.5,287.5ZM68,171.3L69.3,172.3L72.6,171.8L73.6,170.7L73.5,168.9L72.2,167.9L68.4,168L67.4,169.2ZM68.4,186.6L68.4,188.1L70,189.9L71.2,190.4L72.2,190.4L78.2,184.8L78.4,183.1L76.3,181.5L71,182.2L70.1,182.9ZM67.6,257.1L67.9,258.4L69,259.1L74.9,259.9L76,259.5L76.5,258.6L75.7,253.8L74.3,252.8L69.1,253.3L68.1,254.3ZM70.1,260.1L68.7,260.5L68.1,261.7L69.4,267.3L70.8,268.2L74.3,267.8L75.1,266.6L75.2,261.6L74.1,260.8ZM69.2,285.8L68.3,286.5L68.1,287.6L69.9,290.9L74.9,291.9L76.4,291.3L76.6,289.8L74.5,284.9L73.1,284.6ZM81.4,185.6L80.4,184.9L79.1,185.2L73.7,190.3L73.2,191.5L73.9,192.9L75.2,193.4L81.2,192.2L82.1,191.7L83.1,188.2ZM74.7,209.6L74.6,210.8L75.6,212.2L78.9,212.8L83,209.7L83.4,208.3L79.9,203.2L78.5,202.7L77.2,203.5ZM75.3,277.5L75.6,278.7L76.9,279.8L80.2,279.5L81.2,278.9L82.4,276.4L81.7,271.2L81,270.2L77.7,269.5L76.4,270.2ZM83.6,286.1L83.6,284.6L80.7,280.6L77.2,280.9L75.6,283.1L75.5,284.1L77.6,289.7L78.6,290.7L80.5,290.6L81.4,290.2ZM89.8,185.8L89.5,178.3L88.6,177.6L85.9,177.9L81.8,182.4L81.5,184.1L83.6,186.9L84.6,187.3L88.1,187.3L89.4,186.7ZM90,225.4L88.5,221.5L87.5,221.1L83.1,221.4L81.9,222.1L81.6,223.4L83.8,227.5L85.4,228L88.8,227.5L89.8,226.7ZM84.5,236.8L85.3,237.4L86.4,237.3L90,234.3L90.2,233.4L89.7,229.8L88.9,228.8L88,228.5L85.1,229L84,229.9L82.6,234.1ZM97.6,250.2L97.6,248.8L95.3,244.8L94.4,244.4L92.8,244.4L91.7,245L90.1,249.2L93.4,253.4L94.6,253.8L95.7,253.4ZM97.9,258.5L97.8,257.1L96.2,255.2L94.1,254.7L93.2,255L90.5,257.4L89.9,258.8L92.6,263.3L94,264L95.3,263.9L96.1,263.3ZM88.1,296L87.3,296.9L87.3,298L89.8,301.8L94.8,301.9L96.7,301.2L97.3,300.5L97.3,299.1L95.3,296.1L90.1,295ZM107,191.9L106,192.5L105.7,193.5L106.8,198.5L108,199.3L110.5,199.8L111.5,199.5L113.2,197.1L111.6,192.2L110.3,191.4ZM106.9,230L107.8,230.5L109.3,230.4L112.8,227.6L113,226.6L112.3,222.4L111.5,221.2L110.3,221L106.2,222.2L105.2,223.1L104.8,227.4ZM107.3,265.7L108.2,266.2L111,266.6L112.3,266.2L115.9,261.3L115.7,259.6L111.3,256.3L108,256.8L106.9,257.8L106.5,258.7L106.6,264.4ZM107.5,292.4L105.8,294L104.2,299.2L104.3,300.3L106,301.9L109.8,301.8L110.6,301.2L113.3,296.2L113.4,294.8L112.7,294L109.4,292.3ZM114.8,175.3L115.5,176.6L116.7,176.9L120,174.6L120.2,173.2L119.3,170.2L118.7,169.5L116.1,169.2L114.9,170ZM118.6,190L117.6,188.8L115,188.2L114.1,188.6L112.6,190.1L112.3,191.5L114.2,196.1L115.7,196.4L118.3,195.6L119.1,195L119.4,193.9ZM116.9,259.3L118.1,259.6L119.3,258.9L121.3,252.2L120.9,250.9L119.2,249L118.2,248.5L115.1,249.2L114.1,249.9L112.1,254.7L112.7,256.1ZM120.2,217.2L120.5,218.3L121.4,218.9L125,218.9L125.9,218.5L126.5,217.1L126.4,212.9L126,211.9L125.1,211.4L124.3,211.4L120.8,213.2L120.3,214.2ZM126.7,221.4L126.2,220.4L125.3,219.8L122.7,219.9L121.7,220.5L121.4,221.3L121.4,226L122,227.3L122.9,227.7L125.2,227.5L126.4,226.9L126.8,226ZM125.6,228.5L121.7,229L121.1,229.9L121.3,232.8L122,233.5L124.8,234.7L126.1,234.6L127,233.2L126.7,229.3ZM127.2,237.7L126.3,236.3L121.4,234.4L120.1,234.9L118.6,237L118.3,237.9L120.8,242.1L122.1,242.7L123.9,242.5L124.8,242L127.1,238.6ZM153.4,194.8L154,196.1L155.6,196.4L156.4,195.8L157.8,193.5L157.8,192.2L156.4,189.7L155.6,189.1L154.3,189.1L153.4,190.1ZM153.7,212.5L154,215.4L154.7,216L155.7,216.1L156.6,215.7L157.3,213.8L156.5,211.7L155.3,211.2L154.1,211.7ZM154.2,250.8L154.8,252.1L156.1,252.5L158.3,251.2L158.9,250.3L159,249.3L157.4,245.3L156.3,244.3L155,244.4L154.2,245.4ZM159.1,238.4L159.2,239.4L160.1,240.2L164.5,240.5L165.5,239.4L166.3,236.2L166.2,235.3L162.5,232.2L160.7,232.3L159.7,233.4ZM159.2,284.5L158,285L157.5,286.1L158.5,290.3L159.8,291.2L163.2,290.9L163.9,289.5L163.4,285.2L162.3,284.5ZM170.4,198.9L169.2,197.7L166.6,197.2L165.6,197.4L164.9,198.2L163.7,201.6L163.9,203.1L166.6,205.3L170.6,204.4L171.4,202.8ZM166.4,216.4L165.9,217.2L165.3,220.5L165.5,221.7L167.9,224.7L171,225.2L171.9,224.9L173.1,223.7L173.4,222.6L171.6,216L170.6,215.3L168.2,215.3ZM171.6,263L172.4,261.9L173,257.1L171.8,254.8L170.5,254.2L165.5,255L164.9,256.1L164.5,260L164.9,261.1L167.4,263.1L170.5,263.4ZM173.6,195.5L171.7,196.9L171.2,198L172.1,201.7L172.7,202.3L173.6,202.7L178.3,200.3L179.1,198.9L177,195.5ZM174.8,215L173.6,215.3L172.9,216.7L174.3,222L175.7,222.8L179.5,222.2L180.7,219.8L180.5,218.4L178.4,215.8ZM173.3,243.7L173.6,244.9L174.9,245.6L177.3,245.7L179.4,244.3L180,242.9L178.9,238.4L177.6,237.9L174.3,238.7L173.8,239.5ZM173.8,274.1L172.8,274.7L172.4,275.8L173.9,280.5L174.7,281.2L177.4,282L178.7,281.7L179.4,280.8L180.3,276.1L180,274.8L179,273.7L178.1,273.3ZM181,283.1L179.9,283.3L179.2,284.3L178.7,288.5L179.3,289.8L181.1,291L182,291.1L186.3,289.5L187.2,288.7L187.6,287.7L187.5,285.4L187,284.2ZM186.9,230.5L187.7,231.3L188.7,231.4L193.6,229.5L194.2,228.3L193.9,225.4L192.8,224.7L189,224.4L186.2,225.8L185.5,227.4ZM196.3,259.5L193.1,257.6L191.1,258L190,258.8L188.7,263.6L189.5,265.2L192.7,266.2L194.2,265.4L196.6,261.6L196.7,260.7ZM187.7,277.1L189.1,281.3L190.1,281.8L192.7,281.2L193.5,280.6L193.8,279.6L193.4,275.9L192.7,274.7L191.4,274.4L188.7,275.3L188,275.9ZM194.1,215.9L193.4,216.9L193.6,218.3L194.7,219L196,218.8L196.7,217.7L196.5,216.3L195.4,215.6Z"/>
</g>
<path d="M159.5,167.4L152.5,167.4L153,200L153.5,235L154,270L155,302.4L162,302.4L162,302.2L161,269.8L160,199.9ZM118.5,167.6L119.5,200.2L120.5,235.2L120.5,235.5L121.5,250.5L121.5,250.7L124,275.7L124,275.7L126.9,302.4L133.9,302.4L131,275L128.5,250L127.5,235L126.5,200L125.5,167.4L118.5,167.4Z" fill="#dcae6c" opacity="0.34" filter="url(#soft2)"/>
<path d="M155,167.4L152.5,167.4L153,200L153.5,235L154,270L155,302.4L157.5,302.4L157.5,302.3L156.5,269.9L155.5,200ZM123,167.5L124,200.1L125,235.1L125,235.2L126,250.2L126,250.2L128.5,275.2L128.5,275.3L131.4,302.4L133.9,302.4L131,275L128.5,250L127.5,235L126.5,200L125.5,167.4L123,167.4Z" fill="#dcae6c" opacity="0.3" filter="url(#soft3)"/>
<path d="M84,167C84.2,172.5 84.3,186.2 85,200C85.7,213.8 86.3,233 88,250C89.7,267 93.8,293.3 95,302" fill="none" stroke="#c99b5e" stroke-width="6.5" opacity="0.42" filter="url(#soft2)"/>
<path d="M84,167C84.2,172.5 84.3,186.2 85,200C85.7,213.8 86.3,233 88,250C89.7,267 93.8,293.3 95,302" fill="none" stroke="#b98d55" stroke-width="0.9" opacity="0.55"/>
<path d="M49,255C49.8,259.2 52.2,272.2 54,280C55.8,287.8 59,298.3 60,302" fill="none" stroke="#c99b5e" stroke-width="6.5" opacity="0.42" filter="url(#soft2)"/>
<path d="M49,255C49.8,259.2 52.2,272.2 54,280C55.8,287.8 59,298.3 60,302" fill="none" stroke="#b98d55" stroke-width="0.9" opacity="0.55"/>
<rect x="191.2" y="167.4" width="6" height="135" fill="url(#edgeR)"/>
<path d="M154,270L153.5,235L153,200L152.5,167.4L125.5,167.4L126.5,200L127.5,235L128.5,250L131,275L133.9,302.4L155,302.4Z" fill="#3a3938"/>
<path d="M124.4,189.2Q126.7,187.7 128.7,188.1L149.8,192.1Q151.8,192.5 153.4,194.7L154.6,188.3Q152.3,189.8 150.3,189.4L129.2,185.4Q127.2,185 125.6,182.8Z" fill="#f6e3c0" stroke="#c9ab7a" stroke-width="0.5"/>
<path d="M126.1,212.5Q128,210.7 130,210.7L150,210.1Q152,210 154.1,211.7L153.9,205.7Q152,207.5 150,207.5L130,208.1Q128,208.2 125.9,206.5Z" fill="#f6e3c0" stroke="#c9ab7a" stroke-width="0.5"/>
<path d="M129.9,264.6Q131.6,262.8 133.6,262.5L151.2,260Q153.2,259.7 155.4,260.9L154.6,255.7Q152.9,257.5 150.9,257.8L133.3,260.3Q131.3,260.6 129.1,259.4Z" fill="#f6e3c0" stroke="#c9ab7a" stroke-width="0.5"/>
<path d="M131.2,282.6Q133.4,281.3 135.3,281.6L151.4,283.4Q153.4,283.6 155.2,285.3L155.8,280.1Q153.6,281.4 151.7,281.1L135.6,279.3Q133.6,279.1 131.8,277.4Z" fill="#f6e3c0" stroke="#c9ab7a" stroke-width="0.5"/>
<path d="M83.9,168.7L83.9,173.5L84.3,174.1L85,174.2L85.4,173.9L85.7,173.3L85.7,168.7L85.2,168.1L84.8,168L84.3,168.1ZM84,177L83.3,184.9L82.2,192.6L83.1,198.6L83.5,199.3L84.2,199.7L84.6,199.8L85.4,199.6L85.7,199.3L86.1,198.6L86.4,192.6L85.5,176.8L85.2,176.4L84.8,176.2L84.3,176.5ZM83.1,204.1L82.4,212L82.8,223L82.9,223.6L83.1,224.2L83.5,224.8L84,225.2L84.7,225.4L85.3,225.5L85.9,225.4L86.5,225.2L87.1,224.8L87.5,224.2L87.7,223.6L87.8,223L87.8,212L87,204.6L86.7,203.6L86,202.9L85,202.6L84.5,202.7L83.6,203.2ZM83.2,227.8L82.9,236L83.9,245.6L84.1,246.1L84.9,246.9L85.4,247.1L86.6,247.1L87.1,246.9L87.9,246.1L88.2,245L88.5,236L88,227.8L87.8,227.2L87.4,226.6L86.8,226.2L86.2,226L85.6,225.9L85,226L84.3,226.2L83.8,226.6L83.4,227.2ZM84.6,250.2L84.4,254L85.1,258.2L85.4,258.9L85.8,259.1L86.5,259.3L86.9,259.2L87.6,258.9L87.8,258.6L88,257.8L88.2,254L87.8,250.2L87.7,249.8L87,249.1L86.2,248.9L85.4,249.1L84.7,249.8ZM85.7,262.6L87.9,272.3L90.7,282.2L93.2,290.3L93.4,290.5L93.7,290.6L93.9,290.4L94,290.1L90.1,271.7L88.3,262.3L88.1,262L87.7,261.5L87.3,261.3L86.7,261.3L86.1,261.7L85.9,262Z" fill="#3a3938" filter="url(#soft3)"/>
</g>
<rect x="45.9" y="168.2" width="150.6" height="133.5" fill="none" stroke="#74b08c" stroke-width="1.5" filter="url(#soft3)"/>
<clipPath id="clip2"><rect x="45.1" y="323.2" width="242.1" height="134.5"/></clipPath>
<g clip-path="url(#clip2)">
<rect x="45.1" y="323.2" width="242.1" height="134.5" fill="#dcc190"/>
<g filter="url(#soft)">
<path fill="#fef2d7" d="M47.8,333L46.6,333L45.7,334L45.6,338L47.4,340.6L48.8,341.1L49.8,340.6L52.6,337L52.9,335.7L52.1,334.4ZM45.5,382.7L45.9,383.8L47.1,384.4L51,383.2L51.5,382.4L52.2,379.2L51.8,377.9L50.6,377.2L48,377.2L47.1,377.6L45.6,380.6ZM49.6,393.6L48.1,394.2L45.6,398L45.6,400.9L46.7,402.1L51.6,401.9L53,400.8L52.8,395.2L51.1,393.9ZM56.6,347.1L55.3,347.8L52,352.2L51.7,353.1L54.2,357.7L55,358.2L57.4,358.4L58.8,357.5L59.2,356.3L58.3,348.3L57.6,347.4ZM52.4,382.6L52.6,383.8L53.3,384.5L59,386.5L60.2,385.7L62.1,380.3L61.6,379.5L60.7,379L54.2,378.9L53.1,379.8ZM60.1,334L60.2,335.2L61.4,336.1L65,336L66.3,334.9L65.3,326.6L64.3,325.4L63,325.3L62,326.2ZM62.6,391.5L61.1,392.1L60.8,393.6L63,399.5L63.9,400.2L64.9,400.2L67.4,398.4L67.9,397.6L67.3,393L66.1,391.9ZM68.9,453.3L68.8,451.8L67.1,450.2L62.3,450.2L61.2,451.3L60.9,456L62.2,457.2L66.8,457.2L67.8,456.3ZM74.7,361.3L71.9,356.1L70.9,355.9L69.9,356.2L69.3,357L68.2,363.3L68.5,364.3L69.2,364.9L73.2,364.4L74.3,363.4ZM69.4,366L68.4,366.6L68,367.7L69.3,371.2L74.2,371.9L75.5,371.4L76.5,368.6L74.6,365.8L73.3,365.3ZM74.9,401.4L74.7,400.3L74,399.6L69.3,398.5L68.3,398.8L66.6,400.2L65.9,401.5L67.2,404.5L68.6,405.2L73.7,404.3L74.4,403.5ZM74.9,425.3L73.7,424L72.8,424L72,424.5L66.8,429.8L66.7,430.9L67.4,432.2L68.4,432.7L74.2,433.1L75.4,432.7L76,431.2ZM72.8,453.5L71.4,452.7L70,453.3L69.2,455.4L69.7,456.8L70.5,457.2L72.2,457.2L73.4,456.7L73.8,455.2ZM82.7,336.6L81.9,335.5L80.6,335.3L76.5,337.9L76.1,339.2L76.4,342.3L77,343.2L80.2,344.1L82.3,342.6L82.8,341.5ZM83.4,407.4L84,406.6L84,405.3L81.8,400.8L80.5,400.4L77.1,400.7L76,401.2L75.2,404.7L76.9,408L77.8,408.4L81.8,408.3ZM81.5,416.6L82.5,416.1L83,415.1L82,410L80.7,409.3L76.9,409.6L74.6,413.5L74.6,414.4L75.3,416L76.6,416.9ZM101,356.2L99.9,356.5L99.2,357.5L99.4,362.6L100.6,364.4L101.9,364.7L102.8,364.3L103.4,363.5L103.7,357.8L103,356.6ZM103.4,409.5L101.8,409.6L100.9,411L101.5,417.5L102.1,418.4L103.1,418.8L104.1,418.5L104.8,417.6L105.6,411.7L105,410.4ZM105.9,323.6L104.6,324.2L104.2,325.2L104.4,326.2L105.7,327.7L111.1,328.3L112.6,327.4L112.4,324.8L111.6,323.8ZM103,335.1L105.6,336.8L108.7,336.7L110,336L111,330.8L110.4,329.4L106.4,328.8L105.1,329.4L102.5,333.8ZM106.2,356.4L105.2,356.8L104.7,357.7L104.5,363.4L105.7,364.3L109.7,364.6L113.3,361.7L113.7,360.8L113.6,359.9L112.2,357L111.5,356.3ZM105.3,365.2L104,365.5L103.4,366.6L104.4,373.4L105.8,374.3L110.8,373.8L111.5,373.1L111.6,372.1L109.6,366.4L108.5,365.6ZM119.3,326.7L119.8,325L118.7,323.7L114.9,323.7L113.6,324.9L113.7,326.3L114.7,327.2L117.6,327.6ZM112.3,340.8L109.9,346.1L110.2,347L113.5,349.9L114.7,350.2L116.4,349.7L118.1,346.8L117.6,341.2L116.5,340.3L113,340.1ZM111.3,400.9L110.9,402.4L112.6,406.3L113.7,407L115.9,406.8L117.1,406L120,400.7L120.1,399.6L118.4,396.7L116.4,396.1L115.5,396.5ZM111.1,447.5L110.7,448.4L111,449.4L114.9,454.9L116.6,455.4L118.6,454.2L119,452.8L117.6,444.8L117.1,443.8L116,443.4L114.4,443.6ZM122,335.6L123.2,336.6L124.8,336.1L127.2,329.6L126.9,328.4L124.5,325.7L123.6,325.3L121.8,325.8L119.6,327.6L119.1,328.5L119.2,329.5ZM119.4,339.7L118.7,341.2L119,345.3L119.5,346.3L120.5,346.7L125.4,346.7L126.7,346.1L127.1,344.6L125.8,339L125.3,338.2L122.3,337.7ZM119.9,347.6L118.4,348.4L118.1,349.5L118.3,350.4L122.5,354.3L124.3,354.3L125,353.4L125.9,349.7L125.7,348.4L124.5,347.6ZM121.2,366L122.4,366.6L123.6,366.2L126.9,360.8L126.9,359.5L125.5,356.5L124.6,355.8L123.7,355.7L122.7,356.2L118.4,361.3L118.6,362.8ZM126.7,404.4L126.3,403.5L123.8,401.2L121.5,400.7L120.6,401.4L118.2,406L118.1,407.4L121.4,410.8L125.9,410L126.6,409.5L127,408.6ZM121.2,429.3L121.7,430.5L122.7,431.1L126,431.5L128.4,430.4L128.9,429.4L129,423.6L128.5,422.4L126.3,421.2L122.9,421.3L122,421.7L121.5,422.8ZM133.1,384.4L134.1,383.9L134.6,382.7L133.1,379.4L131.8,378.9L129.4,379L128.4,379.4L127.9,381L129,384.2L130.1,384.7ZM132,394.6L130.7,394.9L125.6,399.6L125.4,401.1L126.7,402.5L128.1,402.7L133.7,400.3L134,399.2L133.5,395.8L133,395ZM128.9,421.5L130.2,421.6L134.4,420.2L135.2,419.4L135.4,418.5L134.2,413.2L133.2,412L130.5,411.7L129.3,412.6L127.4,419.5L127.8,420.7ZM129.8,429L130.4,430.4L132.1,430.8L135.4,427.8L135.6,422.9L134.8,421.7L133.5,421.5L130.9,422.3L130.2,422.9ZM135.2,437.2L135,435.6L131.9,431.9L129.2,431.3L127.1,432.5L126.9,433.4L127.9,439.4L128.7,440.6L129.6,440.8L133.6,440.1L134.2,439.4ZM136.8,374.1L135.8,374.2L135.1,374.8L133.8,378.5L136,382.9L137.8,383.5L138.8,383.1L139.3,382L138.9,375.8L138.3,374.6ZM133.9,391.9L134.2,393.3L135.4,394L138.9,393L139.7,392.4L140,391.5L139.6,386L138.9,384.8L136.9,384.4L135.6,385.1ZM134.6,396.3L135.3,399.2L136.1,399.7L139.6,399.6L140.4,398.4L140,394.9L138.6,394.1L135.3,395.1ZM243.3,333.3L243.7,334.4L244.5,335L245.6,335L246.4,334.4L247.9,331.8L247.1,329.4L246.6,328.8L244.7,328.6L243.6,329.3ZM246.5,340.1L245.2,338.9L243.6,339.5L243.2,340.4L243.2,342.5L243.8,343.6L245.1,344L246.8,343.2L247.1,342.1ZM245.5,353.3L247,353.2L247.8,352L247.9,346.1L247.5,345.2L246.5,344.7L244,345.4L243.1,346.7L243.2,351.9L243.9,352.7ZM247.3,421.4L246.3,420.2L244.7,420.4L243.9,421.6L244.2,423.3L245.2,424L246.6,423.8L247.4,422.8ZM254.2,362.2L254.5,360.5L252.4,356.3L251.5,355.8L249.6,355.6L248.4,356.1L246,360.7L246.2,361.6L247.7,363.5L249,364L252.6,363.6ZM258.7,323.6L257.5,324.1L257,325.3L257.8,327.4L258.6,328.1L261.2,328.2L264.1,326L264.1,324.7L263.2,323.8ZM263.9,337.7L263.4,339.2L264.5,343.8L265.1,344.7L266,345.1L267.3,345.1L268.1,344.6L272.4,338.6L271.9,337.2L269.4,335.6L265.2,336.6ZM270.2,389.5L269,389L265.4,389.3L264,390.3L264.8,397.7L265.7,398.8L268.3,398.9L269.4,398L271.8,391.9L271.5,390.9ZM264,410.4L262.7,410.8L262.2,411.9L263,417.6L264,418.6L266.9,418.9L267.9,417.9L270,413L270,412L268.7,410.8ZM270.3,333.8L270.8,335.2L273.9,337.6L276,338.1L277,337.7L277.7,336.8L278.7,328.7L278.3,327.5L275.4,326L272.3,326L271.4,326.4L270.8,327.4ZM273.7,350.4L272.7,351L270.5,354.6L270.3,356.1L272.5,358.6L276.8,358.8L277.9,357.5L278.1,350.9L277.5,350.1L276.6,349.7ZM274.2,370.6L273.1,370L272.1,370.2L269.4,373.2L270.6,379L271.8,380.1L274.2,380L275.2,379.5L277.1,374.9L276.9,373.5ZM274.6,421.1L275.6,420.5L277.4,418L277.6,416.5L275.3,412.3L274.3,411.9L272,412.1L270.9,413.1L268.6,418.7L268.6,419.7L270.6,421.6ZM269,443.9L269.1,445.5L271.3,447.3L276.2,445.9L277,444.4L276.4,439.4L275.1,438.6L271.8,438.7ZM277.5,401.7L277.3,403.1L278.8,405.4L283.9,405.8L284.7,405.3L286.6,402.1L286.7,398.9L284.2,395.5L282.4,395.2L281.5,395.7ZM286.8,434.3L286.1,433L284.5,432.7L283,434L282.8,435.4L284.2,436.8L285.5,437L286.6,436Z"/>
<path fill="#fdf0d4" d="M50,323.6L48.9,324L48.3,324.9L48.4,325.9L48.9,326.7L52.6,327.2L53.9,326.6L54.4,325.3L53.7,324L52.8,323.7ZM53.6,329.4L52.4,328.2L47.3,327.8L45.9,328.8L45.6,330.3L46.6,331.7L52.5,333.5L53.4,333.1L54,332.2ZM47.4,360.6L46.3,360.9L45.6,361.8L45.6,365.9L46.6,367.1L48.7,367.2L50,366.2L50.8,362.2L49.8,360.9ZM51.8,386.6L51.6,385.3L50.3,384.6L47.5,385.4L46.7,386.1L46.4,390.2L48.4,392.4L49.8,392.6L50.8,391.9ZM48.8,421.1L50.2,420.4L52.4,416.3L50.6,413.2L48.8,412.7L47.5,413.3L45.5,416.8L45.6,419.5L45.9,420.4L46.9,421ZM47.3,441.8L46.2,442.1L45.6,443.1L45.8,448L47.8,450.4L51.2,451.1L52.2,450.9L54,449.4L54.4,448.3L52.6,442.7L51.3,441.8ZM52.1,375.9L52.4,377.2L53.7,378L59.5,378L60.4,377.4L60.8,376.4L58.8,370.5L58.2,369.9L57.3,369.5L54.1,370.1L53.3,370.7ZM54,401.5L55.1,403.3L56.5,403.7L61.7,400.5L61.9,399L59.9,394L59.3,393.3L57.9,393.1L54.1,395.1ZM62.1,376.8L63.1,377.8L64.7,377.6L68.1,372.1L68.1,371.2L67,367.7L66,366.7L61.4,366.3L60.6,366.8L59.4,368.6L59.5,369.7ZM58.9,403.5L58.2,404.3L58.2,405.6L61.3,409.4L62.7,409.8L64.9,409.3L65.7,408.7L66.7,405.7L64.5,401.5L62.8,401.2ZM69.4,344.7L67.9,345.2L66.2,347L65.8,348L68,354.2L68.6,354.9L69.5,355.1L71.7,354.9L72.6,354L73.5,346.8L73.3,345.8L72.5,345.2ZM68.9,396.4L69.8,397.7L72.7,398.3L73.8,398.2L74.5,397.5L75.3,392.6L72.8,389.7L70.5,389.7L68.3,391.6L68.1,392.5ZM67.5,439.1L67.9,440.2L69.3,441.4L74.5,440.7L75.4,439.4L74.9,434.8L73.6,433.9L68.6,433.9L67.7,435.1ZM75.2,354.9L74,355.4L73.6,356.7L75.5,360.6L76.8,361L80.2,360.8L81.2,360.2L81.6,359.2L81.5,356.3L81,355.1L79.9,354.6ZM82.1,363.4L81.8,362.3L80.8,361.7L76.7,361.9L75.5,362.8L75.1,364.6L77,367.4L78.5,367.8L81,366.8L82,365.2ZM81.5,369.1L80,368.3L78.1,368.9L77.4,369.6L76.2,372.6L77.3,375.1L77.9,375.7L80.6,376.1L81.9,375.3L82,370.1ZM80.4,384.4L81.7,384.1L82.4,383.1L82.2,378.2L81.1,377.1L77.9,376.9L77,377.4L75,380.6L75.1,382.5L76.2,383.5ZM74.9,421.7L75.1,422.8L75.9,423.6L80.9,424.1L81.9,422.8L81.8,418.6L80.5,417.6L76.4,417.9L75.6,418.8ZM98.1,338.3L97.9,340.2L100,343.7L101.1,344.4L102.4,344.1L102.9,343.3L104.2,338.5L104,337.1L101.8,335.4L100.6,335.1L99.6,335.7ZM102.8,381.6L101.3,381.1L100,382.3L100,386.6L101.2,387.8L102.8,387.6L103.6,386.5L104.1,383.4ZM112.1,392.5L110.9,392L108.6,392.5L105.3,396L105.2,397.6L107,400.1L109.1,400.8L110.3,400.7L114.3,396.4L114.3,394.7ZM111.7,407L109.4,402L108.1,401.5L106.5,401.8L103.3,406.7L103.6,408.5L106.5,409.8L110.7,408.9L111.5,408ZM110.8,411.5L110.2,410.7L109.3,410.3L107.5,410.6L106.7,411.4L105.8,417L106.6,418.6L111.3,419.4L112.7,418.5L112.9,417.2ZM134.9,342.2L135,340.7L134,338.4L133.2,337.6L128.2,338.2L127.1,339.2L127,340.2L128.1,345.1L129.2,346.2L131.2,346.6L132.3,346.3ZM130.3,392.8L131.8,393.1L132.9,392L134.1,387.1L133.8,386.2L133,385.5L129,385.8L126.6,388.3L126.9,390ZM135.4,444.3L134,441.5L133,441.2L128.4,441.9L127.6,442.3L126.5,443.4L126.2,444.5L127.8,448.6L128.7,449.1L132.8,449.5L134.1,449ZM128.8,450L127.4,450.6L125.6,453.6L125.6,454.8L126.5,456.4L127.8,457L133.9,456L134.6,454.7L134.6,452L134.2,451L133.2,450.4ZM133.4,362.1L134.7,365.8L135.7,366.2L137.4,365.8L138.2,365L138.1,360.1L137.2,358.8L135.6,358.8L133.5,361.1ZM137.3,436.4L136.2,437.2L135,440.1L135.8,442.5L137,443.3L141.2,443.3L142,442.1L142.7,437.5L142.4,436.6L141,435.7ZM135.5,455.5L135.8,456.6L136.8,457.2L142.1,457.1L143.2,455.7L142.8,452.2L141.4,451.2L136.6,451.3L135.5,452.5ZM246.2,389.7L245.6,386.5L244.8,385.9L243.8,385.9L243,386.4L242.6,387.3L242.6,389.7L243.2,390.8L244.6,391.2L245.8,390.6ZM247.7,427.3L247,426.3L246.1,426L245,426.3L244.3,427.3L244.7,432.6L245.9,433.8L247.3,433.5L248.6,431.8ZM248.2,402.7L247.4,403.3L247,404.4L249.1,411L253.6,412L256.7,410.4L257.1,408.6L253.8,401.7L252.4,401.2ZM254.4,419.9L255.1,418.4L253.4,413.3L252.5,412.8L249.8,412.3L248.4,412.7L246.7,415.6L248.4,421.7L249.5,422.4L251,422.2ZM249.5,423.3L248.5,423.9L248.1,425.1L249.3,430.3L249.9,431.1L250.6,431.5L254.7,431.9L257.2,430.2L257.6,428.9L257,427.8L251.6,423.4ZM256.6,338.5L253.6,343.3L253.9,344.3L257.2,348.6L258,349.1L260.5,348.9L263.7,345.2L262.6,339.7L261.4,338.6ZM262.8,445.2L262.8,443.7L261.3,441.8L259.4,441.3L258.4,441.6L254.6,449L254.9,450.5L257.6,452.1L259.4,451.9L260.1,451.1ZM264.6,346.1L261.5,349.6L261.7,350.7L264.6,354.9L265.5,355.5L269,355L271.6,351L271.2,349.4L267.4,346.1ZM262.6,360.8L262.4,362.2L263.1,363.1L269.1,364.8L270.5,363.8L271.6,359.5L271.2,358.6L269.1,356.4L265.8,356.4L264.7,357.1ZM263.6,381.9L262.6,382.3L262,383.3L262.5,387L263,387.9L264.3,388.5L268.1,388.2L269,387.7L269.5,386.8L269.8,383.3L269.3,382L268.1,381.5ZM274.3,411L275.6,410.1L277.5,406.7L277.5,405.6L275.8,402.8L272.2,401.2L271.2,401.2L270,402.6L269.6,409.8L271.2,411.2ZM269.9,425.6L270,426.8L271.8,429.4L275.6,430.2L277.1,429.4L277.9,426.3L275.3,422.3L274.3,422L271.1,422.7L270.4,423.4ZM278.3,448.4L277.7,447.3L276.5,446.8L272.5,448.1L271.7,448.7L270.5,453.1L272.4,456.9L273.5,457.2L277.1,457.2L278.3,456.5L278.6,455.5ZM276.7,380.8L280,383.1L282.6,382.9L283.4,382.4L283.9,381.4L282.7,375.5L281.5,374.4L279.2,374.4L278.2,374.9L276.4,379.3Z"/>
<path fill="#fceccf" d="M45.5,349.9L45.8,350.8L46.6,351.5L50.6,352.1L54.1,347.9L54.2,346.4L49.9,342.4L48.2,342.2L45.9,345.1ZM50.9,353.9L50.1,353.2L48,352.7L46.5,353.3L46.1,354.2L46,358L46.6,359.3L51,360.1L52.7,359.1L52.9,357.5ZM47.6,411.3L49.7,411.8L50.9,411.1L54.3,405L54.3,403.9L53.7,403.1L52.7,402.8L47.2,403.1L45.9,403.8L45.5,404.8L45.6,409.3L46,410.2ZM45.5,429.2L45.8,430.2L46.6,430.8L48.6,430.6L51.1,427.2L51.2,425.9L50,422.9L49.3,422.2L47,421.9L45.8,422.8ZM48.7,431.6L45.9,432.7L45.6,433.6L45.8,440.1L47.1,440.9L52.6,440.7L54.9,438.1L54.9,436.4L49.7,431.8ZM60.7,327.7L60.4,326.3L59.3,325.6L56,325.9L55,326.5L54.3,328.4L55.4,333.3L55.9,334.1L57.7,334.6L59,333.9ZM52.6,360.5L52,361.4L50.9,366.4L51.2,367.8L53.3,369.3L58.4,368.2L59.9,366.3L60.1,365.3L57.9,359.9L56.9,359.3L54.6,359.1ZM60.3,420.4L60,419.2L58.5,417.5L54.1,416.9L52.9,417.7L50.8,421L50.7,422.1L51.9,425.3L52.7,426.1L58.4,426L59.3,425.6L59.8,424.8ZM60.4,357.5L59.3,358.4L58.9,359.6L61,364.8L62,365.4L65.3,365.7L66.5,365.3L67.1,364.4L68.1,358L67.8,356.7L66.2,356.1ZM63.9,418.6L65,418.1L68.3,413.7L68,412.3L65.6,410.2L61.9,411.1L59.6,416.3L59.7,417.4L61,418.7ZM71.9,451.8L75.5,450L76.2,449.1L76.7,443.2L75.7,441.8L70.2,442.3L68.9,443.3L68,449.4L69.9,451.6ZM80.6,345.9L79.8,345.1L76.7,344.3L74.9,345.1L74.5,346L73.9,352.2L74.4,353.5L75.5,353.9L80.9,353.7L82,353.1L82.5,352.2L82.5,350.2ZM76.6,384.5L75.5,384.7L74.8,385.3L73.6,388L73.7,389.2L76.2,391.5L79.8,391.2L80.7,390.2L81.7,387.4L81.7,386.3L80.6,385.3ZM83.7,456.9L84.9,457.2L87.3,457L88.2,456.5L90.1,451.7L89.6,450.1L86,448.8L82.1,451.1L81.7,452.2L82.3,455.4ZM99.5,325.2L98.4,325.4L97.7,326.4L97.7,331.7L99.2,333.6L100.5,333.9L101.7,333.1L104.2,329L104.4,328.1L102.7,325.7ZM99.8,374.4L100.2,375.4L101.2,376L102.2,375.9L103.1,375.1L103.4,373.8L103.1,371.6L102.5,370.8L101.3,370.5L100.1,371.1L99.8,372ZM103,396.2L104.3,395.7L106.7,393.1L107,392.2L106.5,390.9L104.5,388.8L103.5,388.4L100.8,389.5L100,390.7L100.3,394.7L101.5,396ZM102.2,377.3L101.8,378.4L102,379.3L104.6,382.1L110.4,382.4L111.8,381.4L113.2,376.4L112.7,375.4L111.7,374.9L104.9,375.2L103.9,375.6ZM112.4,385.9L112,384.3L111.2,383.5L106.2,383.4L105,384.3L104.5,387L104.9,387.9L107.9,391L109.3,391.4L110.6,391.1L111.3,390.4ZM106.4,449.5L105.4,450.1L105,451.2L105.4,454.4L106.4,456.7L107.4,457.2L111.8,457.2L113.2,456.6L113.7,455.7L113.5,454.7L110,449.6L108.8,449.1ZM113.1,373.4L114.3,374.5L116.6,374.1L120.7,368L120.5,366.6L116.5,362.1L114.4,362.1L110.6,365.5L110.6,366.6ZM117.4,375.6L116.5,375.2L115.4,375.3L114.3,376.3L112.5,382.5L112.9,384.1L113.8,384.8L119.4,385.1L120.7,384L121.3,378.9ZM120.4,412.7L120.2,411.2L116.7,407.7L112.9,408L111.5,409.5L111.5,410.7L114,417.5L115,418.6L117.6,418.6L118.6,418ZM114.7,419.6L113.8,420L113.2,420.8L111.9,426.7L112,427.6L114.3,430L119.3,430.3L120.3,429L120.4,421.1L118.6,419.5ZM123,387.7L124,388.4L125.3,388.2L127.9,385.1L126.6,379.9L125.6,378.9L123.2,379.1L122.2,380.2L121.5,385.3ZM128.3,412.9L128.1,411.6L126.9,410.8L121.9,412.1L121.3,412.9L119.8,417.9L120.1,419.3L121.6,420.4L125.9,420L126.5,419.2ZM127.7,359.2L128.8,360.1L131.8,360.6L132.8,360.4L135.1,357.8L135.1,356.8L134.4,355L132.9,354.1L127.7,355.6L126.9,357.1ZM137.6,345.6L137.1,344.5L136.3,344L135.3,344L134.5,344.6L133.2,347.3L134.8,349.6L136,349.9L137.3,349.2L137.7,348.3ZM142.3,431.1L142,430L141.3,429.3L136.7,428.3L135.7,428.7L134,430.5L133.5,431.9L135.7,435L137.1,435.5L141.3,434.5L141.9,433.6ZM135.5,448.2L135.9,449.6L137.2,450.2L142.6,450.2L143.5,449.6L143.9,448.5L143.6,446.3L142.2,444.8L137.8,444.3L137,444.5L136.2,445.2ZM245.5,372.4L243.9,372.2L242.9,373.2L242.7,380.7L243.4,382.1L245.4,382.5L247,381.7L247.6,380.5L246.4,373.5ZM248.5,325.4L247.7,328.3L249,331.5L253.4,333L254.9,332.5L257.1,328.7L255.8,325.5L254.6,324.7L249.3,324.8ZM246.1,369.7L246.1,371.2L247.2,372.1L253,371.4L253.8,370L253,365.4L251.7,364.6L248.6,365.1ZM248.4,379.7L249.4,381L252.9,381.3L256.5,379.2L256.8,377.7L254.7,372.8L253.4,372.4L248.9,372.9L248,373.4L247.6,374.7ZM247.9,391L246.5,391.4L245.9,392.7L246.9,400.3L247.6,401.2L248.5,401.5L253.5,399.8L254.5,398.8L254.8,397.7L254.4,393.2L253.9,392.3ZM256.2,438.2L254.7,433.3L253.9,432.8L250.3,432.4L249.1,432.8L247.4,435.5L249.1,439.8L250.4,440.3L254.8,439.9L255.7,439.5ZM256.3,443.3L256.3,442L255.3,440.9L249.8,441.3L248.8,442.3L247.5,445.6L247.6,446.7L249.8,449.8L252.7,450L253.5,449.2ZM263.7,357L263.7,355.3L260.5,350.7L259.5,350.1L258.1,350L257.2,350.4L253.4,355.5L255.4,360.3L256.5,361.1L261,361.2ZM254.6,369.3L255.3,370.4L256.6,370.7L260.9,368.2L261.3,367.4L261.7,364L261.2,362.8L260.3,362.3L256.5,362L255.1,362.5L253.9,364.5ZM257.4,376.6L258.3,377.6L259.7,377.5L264,373.6L264.1,371.9L262.3,369.8L260.7,369.5L256.5,372.1L256.2,373.4ZM260.9,389.6L255.6,392L255.3,393L255.7,397.1L256.1,398L257,398.4L261.9,399L263.2,398.6L263.8,397.2L262.9,391L262.5,390.1ZM270.5,366.8L269.6,366L263.9,364.5L262.6,365.4L262.2,367.8L262.5,368.6L265.6,372.1L268,372.5L268.9,372.1L271.2,369.6L271.3,368.4ZM260.9,426.3L261.4,427.7L262.6,428.2L268.2,426.2L269,425.2L269.5,423.1L269.3,422.1L267.2,420.1L262.6,419.6L261.4,420.8ZM278.7,335.5L279.4,337.1L281.1,337.2L286.2,332L286.3,330.3L283.6,327.1L282.6,326.9L280.9,327.3L279.8,328.1ZM279.1,338.8L278,339.1L277.3,340.2L277.3,348.5L277.9,349.3L279,349.8L283.5,349.5L284.5,348.4L285.9,344L285.9,343L280.9,339.2ZM281.1,416.8L282.1,416.6L282.8,415.9L285.1,408.4L284.6,407.5L283.7,406.9L279.4,406.6L278.1,407.5L276.3,410.7L276.2,411.7L278.7,416.3ZM277.8,430.3L277.8,431.5L278.9,433.8L279.7,434.5L280.7,434.6L281.6,434.1L285.2,430.4L285.7,429L284.4,426.9L283.6,426.3L279.9,426.7L278.7,427.5ZM277.9,444.5L278.3,445.4L279.2,445.9L282.9,445.8L286.5,441.7L286.6,439.9L281.3,435.9L279.3,435.9L277.4,438.5ZM284.1,340.3L285.5,340.5L286.7,339.4L286.7,336.5L285.5,335.4L284.1,335.7L282.3,337.7L282.6,339.1Z"/>
<path fill="#fae7c8" d="M47.1,368.2L46.2,368.5L45.6,369.5L45.7,375.1L47,376.2L50.3,376.2L51.3,375.1L52,370L50,368.1ZM51.8,392L52.2,393.4L53.6,394L58.8,391.8L59.7,390.6L59.4,388.4L58.7,387.7L54.9,386.1L53.6,386.2L52.7,387.3ZM60.4,427.6L59.1,426.9L52.6,427.2L51.8,427.8L50.7,429.7L50.6,431L55,435.2L56.5,435.4L61.1,430.1L61.2,428.9ZM56.3,448.4L58.6,448.1L59.2,447.3L60.2,441.3L59.5,440.1L57.4,438.7L56.5,438.5L55.4,438.9L53.8,440.8L53.4,442.1L55.4,447.7ZM65.2,382.7L63.6,381.9L62.3,382.8L60.4,387.7L60.6,389.4L61.4,390.3L66.9,391L68.8,389.7L68.8,388ZM57.8,435.6L57.5,436.7L57.7,437.6L60.6,439.7L65.5,439.5L66.6,438.4L66.9,433.3L65.2,430.7L62.7,430.2L61.8,430.6ZM67.7,335.5L66.6,336.2L66.3,337.3L68.6,343.2L69.5,343.8L73.5,344.3L74.9,343.9L75.5,342.6L74.8,337.9L71.3,335ZM75.7,373.8L74.5,372.9L69.2,372.6L66.6,376.4L66.6,377.8L67.7,378.8L73,380.2L73.9,380.1L76.5,376.5L76.4,375.5ZM73.1,381.2L67,379.8L66.2,380.3L65.9,382.1L70,388.1L71,388.6L72,388.4L72.7,387.7L74.3,384.1L74,382ZM75.7,409.6L75.8,408.4L74.9,406.3L73.5,405.4L68.2,406.2L67.4,407L66.7,409L67.1,410.1L69.6,412.7L72.6,413.3L74,412.7ZM71.4,422.8L72.7,423L73.7,422.3L74.9,417.4L73.4,414.5L70.2,413.9L69.3,414.4L66.7,417.4L66.3,418.7L66.9,419.8ZM80.1,330.7L81.4,330.5L82.2,329.3L81.2,325.1L80.4,324.5L76.7,323.7L74.9,324L73.7,326.1L74.3,329L75.1,329.6ZM73.7,331L72.4,334L72.8,334.9L74.7,336.6L75.7,336.9L80.2,334.5L80.8,333.2L80.6,332.2L79.8,331.6L75,330.5ZM90.1,438.2L89.1,436.9L86.8,437L84.1,440.3L83.7,441.2L86.3,447.4L89.4,448.8L91,448L91.5,444.8ZM99.4,347.4L98.5,348.9L99,354.2L100.1,355.2L102.8,355.3L103.8,353.9L103.6,347.6L102.7,346.8L101.5,346.5ZM100.6,403.5L101.4,404.9L103,405L105.6,401.4L105.6,399.9L103.6,397.3L101.9,397.3L100.6,398.8ZM106.5,419.6L105.3,419.9L104.6,421L105.5,426.6L106.9,427.6L110.3,427.1L111.1,425.9L112,422.1L111.8,421.1L110.7,420.2ZM111.6,428.7L110.3,428.1L105.8,428.6L103.7,430.4L103.6,432L106.8,436.8L109,437.2L110.2,436.5L112.9,431.1L112.7,429.9ZM118.2,329.4L117.2,328.5L114.1,328.1L113.2,328.3L112.3,329.1L111.1,336.5L111.4,337.4L112.7,338.8L117.8,339.5L120.9,337.3L121.1,335.9ZM114.6,360.1L115.6,361L117.3,360.9L121.5,355.9L121.1,354.3L116.9,350.8L114.4,351.5L112.8,355.1L112.8,356.1ZM115.8,394.8L118.3,395.2L119.1,394.6L122.4,390.1L122.5,388.7L120.4,386.1L114.1,385.9L113.1,386.9L112.4,391.2ZM127.6,371.5L127.6,370.5L127,369.7L123.8,367.9L122.4,367.8L121.6,368.4L118.4,373.2L118.2,374.6L121.9,378L125.1,377.9L126.2,376.9ZM126,433.6L125.6,432.7L124.7,432.2L122.3,432L121.2,432.7L119.3,440.6L119.5,441.6L120.1,442.2L124.9,443.2L126.9,441.7L127.2,440.7ZM127.7,323.6L126.4,324.3L126,325.5L126.3,326.4L127.9,328.1L128.8,328.4L132.1,328.3L133.2,327.6L133.9,325.7L133.1,324L132.2,323.7ZM133.3,411.1L134.4,410.9L135.6,409.9L136.2,408.6L134.5,402.8L133.8,402.1L132.9,401.9L128.4,403.6L127.6,405.2L128,409.1L128.5,410L129.7,410.7ZM137.2,367L134.5,367.7L133.8,368.8L133.7,370.3L135.5,372.8L137.6,373L138.6,371.7L138.4,368.1ZM137.2,400.7L135.9,401.1L135.4,402.4L136.8,407.5L138,408.6L139.8,408.5L140.6,408L141,407.1L140.6,401.9L139.6,400.9ZM139.9,419.9L141.1,419.6L141.7,418.5L141,410.8L139.8,409.6L137.3,409.7L135.4,411.2L135,412.1L136.3,418.4L137.3,419.6ZM138.4,420.7L137.2,420.9L136.5,421.9L136.6,426.3L137.4,427.4L139.8,427.9L140.7,427.4L141.2,426.5L140.7,422.1L140,421ZM247.3,326L247.3,324.7L246.2,323.7L244.5,323.8L243.5,324.8L243.5,326.5L244.6,327.5L246.3,327.4ZM242.9,366.9L243.1,367.8L244,368.5L245.2,368.5L246,367.8L247.2,364.8L245.4,362.3L244.1,362.2L243.1,363ZM243.9,403.9L243.1,404.5L242.8,405.4L243.3,413.3L244.1,414.4L245.2,414.7L246.3,414.1L247.7,412.1L247.9,411.2L246.1,404.7L245.1,403.8ZM248.6,353L248.9,354L249.7,354.6L252.3,354.8L256.2,350.1L256,348.6L252.2,344.1L250,344.1L249,345.1ZM246.6,384L247.4,389.6L248.2,390.1L252.1,390.8L253.5,390.3L254,388.9L253.2,383.4L252.7,382.6L251.8,382.2L248.8,381.9L247,382.9ZM248,454.8L247.9,456.1L248.9,457.1L254.7,457.2L256,456.3L256.7,453.6L256.1,452.4L253.5,451.1L250.8,451L249.6,451.6ZM255.6,333.2L255.5,334.7L256.4,336.7L257.2,337.3L262.1,337.7L263.7,336.5L263.6,335.1L261.1,330L260.3,329.3L258.8,329.1L258,329.5ZM259.1,380.2L258.2,379.8L257.4,379.9L254.7,381.6L254.1,382.3L254.9,388.9L256,390.1L257,390.2L260.6,388.8L261.5,387.7L260.9,382.1ZM256.7,399.3L255.1,400.1L255,401.7L258.3,409.1L259.3,409.8L261.2,409.8L262.2,408.5L263.3,401.9L263.1,400.9L261.9,399.9ZM257.3,426.9L258.5,427.2L259.8,426.5L260.4,421.8L259.4,420.4L256.2,420L253.7,421.6L253.3,422.9L253.8,423.9ZM260.8,454.4L259.7,453.2L258.2,453.5L257.3,455.2L257.6,456.5L258.6,457.2L260.3,457L261,455.9ZM265.9,399.9L265,400.2L264.4,401L263.2,408.1L264.3,409.5L267.2,409.7L268.1,409.3L268.7,408.5L269.1,401.4L268.2,400.1ZM261.4,450.4L261.5,451.9L262.5,452.7L268.6,452.8L269.8,451.8L270.5,448.4L267.7,445.6L264.7,445L263.5,445.8ZM268.7,457.2L269.8,456.9L270.3,455.9L270.1,454.5L269.2,453.8L263.6,453.7L262.2,454.7L262.2,456.2L263.2,457.1ZM269.4,344.4L269.1,345.3L269.3,346.3L272.3,349.1L273.4,349.5L275.6,348.8L276.2,347.5L276.4,340.5L276,339.4L274.8,338.8L273.6,339.1ZM272,367.7L273.1,368.6L274.5,368.3L279.9,364L280.3,362.9L280,361.6L277.8,359.9L273.8,359.7L272.9,360L272.3,360.8L271,365.4ZM269.6,435.8L271.9,437.5L275.7,437.7L276.9,437.3L278,435.9L278.3,434.9L276.8,431.7L272.5,430.5L271.1,431L269.2,434.7ZM278.8,358.4L279.3,359.8L280.2,360.5L281.2,360.6L286.5,357.3L286.7,353.3L284.6,350.8L283.6,350.5L280.7,350.6L279.4,351.3ZM277.6,372.9L278.7,373.5L282.3,373.3L285,370.5L284.8,368.7L281.3,365.2L279.7,365.4L275.4,369L275.5,370.6ZM278.2,425L279.8,425.8L283.5,424.9L285,420.7L284.5,419.2L282.3,417.8L279.5,417.7L278.4,418.1L276.4,421.4ZM283.4,447.5L282.5,446.9L280.6,446.9L279.8,447.3L279.3,448.2L279.6,455.8L280,456.7L280.7,457.2L283.8,457L286.7,453.5L286.5,451.2ZM282,361.4L281.2,362.5L281.6,364.1L284.2,366.7L285.2,366.9L286.1,366.6L286.8,365.2L286.7,361.3L286.4,360.3L284.7,359.7Z"/>
<path fill="#f7e0c0" d="M51.8,453.2L50.8,452L47.6,451.7L45.7,454L45.8,456.4L47.1,457.2L51.3,457.1L52.3,455.6ZM56.2,335.3L54.6,335.8L51.1,340.3L50.9,341.3L51.3,342.4L55.2,345.8L56.8,346.2L57.7,345.9L58.3,345.1L60.1,337.4L59.2,335.9ZM53.1,415.2L54.1,415.9L58.2,416.2L58.9,415.5L60.6,411.5L60.5,409.9L56.7,405.6L55.6,405.6L54.8,406.1L51.6,411.7L51.6,413ZM60.3,451.2L60,450.1L59.1,449.4L55.2,449.5L52.8,451.9L53.2,455.1L57,457.2L59,457L59.8,455.9ZM59.4,344.5L59.5,345.6L60.2,346.4L64.2,347L65.3,346.6L67.2,344.7L67.5,343.1L65,337.4L64.1,337L62.4,337L61.2,337.7ZM65,348.9L64,347.9L61.3,347.5L60.3,347.7L59.6,348.4L59.4,349.4L60,354.9L60.8,356L61.9,356.2L65.4,355.3L66.5,354.5L66.6,353.2ZM64.5,429.5L66.2,429.1L70,425.2L70.4,424.1L69.8,422.8L65.2,419.8L64.2,419.5L62.3,419.8L61.3,420.6L60.7,425.8L62.4,428.7ZM60.2,447.3L60.5,448.5L61.4,449.2L65.7,449.1L66.6,448.7L67.1,447.9L68.1,442.7L67.4,441.1L66,440.4L61.6,441.2L61.1,442ZM73,327.7L72.4,326.7L71.5,326.3L68,326.3L66.8,326.8L66.4,328.2L67.2,333.1L67.7,333.9L69,334.3L70.6,334L71.3,333.5L73.2,329.9ZM75.5,397.7L75.8,399L76.8,399.7L81.4,399.3L83.2,397.3L83,394.8L80.6,392.3L77.3,392.5L76.2,393.5ZM78,424.8L76.7,425.2L76.1,426.3L77.1,431.1L78.2,431.8L82.5,431.8L83.2,430.7L83.7,427.2L83.4,426.3L82,425.4ZM77.7,432.7L76.5,433.1L75.9,434.2L76.6,440.6L78,441.3L82.6,440.5L85.2,437.2L85.1,435.6L83,433.1ZM84.2,448.7L84.8,448L85,446.9L82.8,442.2L81.5,441.7L78.9,442.1L78.1,442.6L77.6,443.5L77.3,448.1L77.8,449.5L80.8,450.5ZM77.7,457.2L80.9,455.8L81.2,454.8L80.7,452.3L80.2,451.5L76.9,450.4L74.2,451.9L74,453.7L76.4,456.9ZM82.8,423.6L83.2,424.7L84.3,425.2L85.3,425.1L86.5,424.2L86.7,422.9L86.2,420.6L85.5,419.7L84.2,419.5L83.1,420.2ZM87.8,427.8L86.6,426.5L84.9,427.1L84,432L84.3,432.9L86.1,435.3L87.3,435.9L88.6,435.5L89.2,434.4ZM89.9,455L90,456.4L91.2,457.2L93.7,457.1L94.7,455.9L93.8,452.4L92.6,451.6L91,452.2ZM103.6,344.4L103.8,345.7L104.8,346.5L108.5,345.9L111.5,340.2L111.3,338.7L109.8,337.6L105.7,338L105.1,338.7ZM106.4,355.5L111.5,355L112.2,354.2L113.1,351.9L112.9,350.6L108.9,347.2L105.4,347.6L104.6,348.9L104.7,353.8L105,354.8ZM104.9,447.5L106.3,448.5L109.4,448L112.9,443.8L112.8,442L109.6,438.4L106.5,438.1L104,440.6L104.3,445.9ZM111,436.8L111,438.4L114.1,442.1L115.1,442.5L117.3,442.3L118.3,441.1L120,433.4L119.9,432.2L118.7,431.4L114.3,431.3ZM119.6,396.7L121.6,399.5L122.8,399.8L124.3,399.6L129.1,395.1L129.4,394.1L129.1,393.1L125.4,390L123.7,390.1L119.6,395.6ZM120.6,443.4L119.2,443.7L118.6,444.9L119.9,452.6L121.1,453.6L124.1,453.6L124.9,453L126.6,450.1L126.7,448.6L124.9,444.4ZM126.2,335.1L126.4,336.5L127.6,337.3L133.6,336.1L134.4,335.1L134.6,334.2L133.1,329.9L131.8,329.2L128.5,329.6ZM126.2,352.3L126.6,353.9L128.1,354.4L133.4,352.9L134.1,352.2L134.3,350.9L132.1,347.9L128.6,347.1L127.3,348ZM125.1,365.6L124.9,366.7L125.3,367.6L128.6,369.5L132.3,369.2L133.6,367.2L132.3,362.1L131.4,361.5L129.1,361.1L127.6,361.6ZM127.4,375.9L127.5,377.2L128.4,377.9L132.3,377.9L133.3,377L134.4,374L134.3,372.9L132.4,370.4L129.4,370.6L128.6,371.5ZM243,357.4L243.7,358.8L245.5,358.9L247,356.7L246.9,355.2L245.1,354.2L243.8,354.4L243.1,355.3ZM246.7,335.5L246.4,336.9L248.4,342.5L249.6,343.1L251.7,343.1L252.6,342.7L255.6,337.8L254.4,334.6L253.6,334L249.3,332.9L248.3,333.3ZM260.2,419.6L261.4,419.2L262.1,418.1L261.2,412L260.3,410.9L258.3,410.7L255.3,412.3L254.7,413.9L256.4,418.7ZM257.4,439.1L258.6,440.3L260.9,440.3L261.6,439.8L263.9,436L263.8,434.5L261.3,430.3L260.5,429.7L259,429.9L256,432.7ZM266.4,326.1L262.3,328.9L262.2,330.1L264.7,334.9L266,335.5L268.9,334.5L269.4,333.6L269.9,328L269.4,326.7L268.5,326.2ZM268.6,374.6L267.4,373.4L265.3,373.6L260.5,378.2L260.2,379.3L260.5,380.2L262,381.1L268.8,380.3L269.6,378.8ZM270.2,430.6L270.4,429.5L269.8,428.1L268.3,427.2L263.6,428.9L262.7,430.3L264.7,434.2L266,434.9L268.1,434.4ZM266.3,444.3L267.3,444.2L268.1,443.7L270.4,438.7L269.9,437.3L267.7,435.7L265.8,435.8L265,436.2L262.3,440.7L262.5,441.8L263.8,443.5ZM272.3,381L271.3,381.4L270.8,382.3L270.4,387.9L272.2,390.3L273.6,390.7L275.3,389.9L278.1,384.9L278.3,384L277.8,382.9L275.5,381.1ZM270.5,397.7L270.5,398.9L271.2,399.8L275.1,401.5L276.1,401.5L276.9,400.9L280,396.4L280.2,395L279.6,394.1L275.6,391.6L273.7,391.6L272.6,392.4ZM281.2,394L282.3,394.3L283.8,393.7L286.3,389.1L286.2,387.9L283.9,384.6L282.7,383.9L280.5,384L279.6,384.4L276.5,389.9L277,391.4Z"/>
</g>
<path d="M138,457.7L145,457.7L143,430L141,400L139,370L138,345L137.5,323.2L130.5,323.2L130.5,323.4L131,345.2L131,345.3L132,370.3L132,370.5L136,430.5L136,430.5ZM253,457.2L251,429.5L249,399.8L249.5,360.1L250,323.3L250,323.2L243,323.2L242.5,360L242,400L244,430L246,457.7L253,457.7ZM76.3,392.3L76.3,392.6L77.9,410.6L78,411.1L79.6,421.1L79.7,421.6L82,431.5L85.3,446.5L85.4,447L88.6,457.7L95.9,457.7L92.1,445L88.8,430L86.5,420L84.9,410L83.3,392L82.4,370L82.8,356L83.3,340L83.8,323.2L76.8,323.2L76.3,339.8L75.8,355.8L75.8,355.8L75.4,369.8L75.4,370.3ZM112.4,457.5L112.3,456.8L110.7,444.2L109.1,429.3L107.4,409.5L106.6,391.8L106.3,369.9L106.3,369.7L105.6,355.7L105.6,355.5L104.4,339.7L104.1,323.2L97.1,323.2L97.4,340L98.6,356L99.3,370L99.6,392L100.4,410L102.1,430L103.7,445L105.4,457.7L112.4,457.7Z" fill="#dcae6c" opacity="0.34" filter="url(#soft2)"/>
<path d="M142.5,457.7L145,457.7L143,430L141,400L139,370L138,345L137.5,323.2L135,323.2L135,323.3L135.5,345.1L135.5,345.1L136.5,370.1L136.5,370.2L140.5,430.2L140.5,430.2ZM248.5,457.5L246.5,429.8L244.5,399.9L245,360L245.5,323.2L245.5,323.2L243,323.2L242.5,360L242,400L244,430L246,457.7L248.5,457.7ZM80.8,392.1L80.8,392.2L82.4,410.2L82.4,410.4L84,420.4L84.1,420.6L86.4,430.5L89.7,445.5L89.7,445.7L93.3,457.7L95.9,457.7L92.1,445L88.8,430L86.5,420L84.9,410L83.3,392L82.4,370L82.8,356L83.3,340L83.8,323.2L81.3,323.2L80.8,339.9L80.3,355.9L80.3,355.9L79.9,369.9L79.9,370.1ZM107.9,457.6L107.8,457.4L106.2,444.7L104.6,429.8L102.9,409.8L102.1,391.9L101.8,370L101.8,369.9L101.1,355.9L101.1,355.8L99.9,339.9L99.6,323.2L97.1,323.2L97.4,340L98.6,356L99.3,370L99.6,392L100.4,410L102.1,430L103.7,445L105.4,457.7L107.9,457.7Z" fill="#dcae6c" opacity="0.3" filter="url(#soft3)"/>
<rect x="281.2" y="323.2" width="6" height="134.5" fill="url(#edgeR)"/>
<path d="M82.4,370L83.3,392L84.9,410L86.5,420L88.8,430L92.1,445L95.9,457.7L105.4,457.7L103.7,445L102.1,430L100.4,410L99.6,392L99.3,370L98.6,356L97.4,340L97.1,323.2L83.8,323.2L83.3,340L82.8,356ZM141,400L143,430L145,457.7L246,457.7L244,430L242,400L242.5,360L243,323.2L137.5,323.2L138,345L139,370Z" fill="#3a3938"/>
<path d="M82.5,330.5Q84.7,329.7 86.7,330.1L93.9,331.8Q95.8,332.3 97.5,334L98.5,329.6Q96.3,330.4 94.3,330L87.1,328.3Q85.2,327.8 83.5,326.1Z" fill="#f6e3c0" stroke="#c9ab7a" stroke-width="0.5"/>
<path d="M82.2,359.4Q84.1,357.7 86.1,357.6L95.6,357Q97.6,356.9 99.7,358.4L99.3,352.8Q97.4,354.5 95.4,354.6L85.9,355.2Q83.9,355.3 81.8,353.8Z" fill="#f6e3c0" stroke="#c9ab7a" stroke-width="0.5"/>
<path d="M81.7,384.6Q83.8,382.7 85.8,382.7L96,383Q98,383 99.9,385L100.1,378.2Q98,380.1 96,380.1L85.8,379.8Q83.8,379.8 81.9,377.8Z" fill="#f6e3c0" stroke="#c9ab7a" stroke-width="0.5"/>
<path d="M83.4,406Q85.5,404.5 87.5,404.5L96.8,404.8Q98.8,404.9 100.7,406.5L100.9,401.1Q98.8,402.6 96.8,402.6L87.5,402.3Q85.5,402.2 83.6,400.6Z" fill="#f6e3c0" stroke="#c9ab7a" stroke-width="0.5"/>
<path d="M85.8,419.7Q87.6,418 89.6,417.8L97.9,416.9Q99.9,416.7 102.1,417.9L101.5,412.9Q99.7,414.6 97.7,414.8L89.4,415.7Q87.4,415.9 85.2,414.7Z" fill="#f6e3c0" stroke="#c9ab7a" stroke-width="0.5"/>
<path d="M95.5,454.9Q97.1,453.8 98.6,453.9L102.8,453.9Q104.4,454 106,455.1L106,451.3Q104.4,452.4 102.9,452.3L98.7,452.3Q97.1,452.2 95.5,451.1Z" fill="#f6e3c0" stroke="#c9ab7a" stroke-width="0.5"/>
<path d="M137,365.5Q156,363.8 175,363.8L205.5,363.8Q224.5,363.8 243.5,365.5L243.5,361.1Q224.5,362.8 205.5,362.8L175,362.8Q156,362.8 137,361.1Z" fill="#f6e3c0" stroke="#c9ab7a" stroke-width="0.5"/>
<circle cx="138.2" cy="337.4" r="2" fill="#f3dcb4" stroke="#c9ab7a" stroke-width="0.4"/>
<circle cx="241.8" cy="346.7" r="2.1" fill="#f3dcb4" stroke="#c9ab7a" stroke-width="0.4"/>
<circle cx="240.8" cy="413.6" r="1.9" fill="#f3dcb4" stroke="#c9ab7a" stroke-width="0.4"/>
<circle cx="142.3" cy="418.7" r="1.9" fill="#f3dcb4" stroke="#c9ab7a" stroke-width="0.4"/>
<circle cx="144.3" cy="433.7" r="1.8" fill="#f3dcb4" stroke="#c9ab7a" stroke-width="0.4"/>
<circle cx="242.6" cy="438.2" r="1.8" fill="#f3dcb4" stroke="#c9ab7a" stroke-width="0.4"/>
</g>
<rect x="45.9" y="323.9" width="240.6" height="133" fill="none" stroke="#74b08c" stroke-width="1.5" filter="url(#soft3)"/>
<clipPath id="clip3"><rect x="45.1" y="478.2" width="172.3" height="135.5"/></clipPath>
<g clip-path="url(#clip3)">
<rect x="45.1" y="478.2" width="172.3" height="135.5" fill="#dcc190"/>
<g filter="url(#soft)">
<path fill="#fef2d7" d="M47.4,535.9L46,536.4L45.5,537.6L45.6,542.7L46.3,543.6L47.3,543.9L50.8,543L52.5,539.6L52.2,538.7L50.2,536.4ZM46,562.9L47.5,568.6L48.3,569.1L49.3,569L50.1,568.4L52.3,564L51.9,561.7L51.2,560.9L50.2,560.6L47.5,561L46.3,561.8ZM58.8,531.5L53.5,530.4L52.6,531.1L51.2,534.9L51.2,535.9L53.7,538.7L57.6,538.2L58.5,537.5L60,534.2L59.8,532.5ZM52.1,542.7L52.2,544.4L54.7,548.4L55.9,549L57.3,548.5L61,544.8L61.4,543.9L61.1,542.8L58.9,539.8L57.8,539.2L53.9,539.9ZM51.8,580.6L52.1,581.9L53,582.6L57.2,582.9L58.3,582.5L60,580.6L60.4,579.7L59.1,574.3L57.9,573.7L54.7,573.5L53.6,573.9L53.1,574.7ZM67,536.4L66.1,535.6L62,534.7L61.1,534.9L60.4,535.6L59.4,537.7L59.4,538.8L62.8,543.4L65.2,543.9L66.5,543.1L68.2,539ZM66.4,545.5L65.4,544.9L62.6,544.7L58.2,548.9L57.7,549.7L57.8,550.7L59.5,553L61.1,553.4L67,551L68.1,548ZM60.4,555.1L60.4,557.7L61,558.3L64.1,559.4L65.1,559.4L66,558.7L67.6,555.2L67.6,553.7L67,552.9L65.9,552.6L61.4,554.3ZM66.3,612.2L66,609.5L65.2,608.9L62.4,609.2L61.4,610.1L61.1,612L62.2,613.2L65.2,613.2ZM75.6,485.5L75.3,480.9L74.6,480.3L69.9,479.7L68.6,480.2L67.9,481.7L69.8,485.6L73.9,486.7L75,486.3ZM72.5,562.3L73.5,561.9L74.5,560.7L74.3,558.7L70,556.1L68.5,556.2L66.4,559.9L67,561.8L68.3,562.6ZM66.9,565.7L68.6,570.9L69.5,571.3L72.6,571.3L73.7,570.7L74,569.6L73.2,564.7L72.5,563.6L71.6,563.3L68.4,563.6L67.3,564.3ZM78.8,512.7L77.5,513L76.9,514L76.8,520.1L77.9,521.3L81.4,521.6L82.6,520.3L82.7,514.3L81.6,513.2ZM76,577.9L76.4,578.9L77.4,579.4L81.4,579.4L82.6,578.7L82.9,577.3L80.8,571.5L79.4,571.2L76.1,572.5L75.7,573.6ZM77.5,589.7L76,589.9L75.2,591.1L74.5,599L75,600L76.1,600.5L82,598.7L83,597.4L81.5,591.3ZM84.7,578.8L83.8,579.7L83.8,581L85.7,585.1L86.7,585.7L87.7,585.5L91.2,581.1L91.3,579.5L89.8,577.8L88.9,577.4ZM93.5,554.3L92.2,555.1L89.9,559.8L89.9,560.8L91.8,563.6L95.5,563.6L96.8,562.4L97.9,555.4L96.7,554.2ZM95.1,581.9L93.9,580.8L92.3,581.3L89,585.7L88.8,586.6L89.3,587.6L91.3,589L92.3,589.2L96,587.3L96.5,585.8ZM97.4,609.9L97.3,608.7L96.5,607.9L91,607.2L89.1,608.6L89.1,612L89.7,612.8L90.4,613.2L95.7,613.2L96.7,612.3ZM96,581.6L98.1,586.5L99,586.9L102.7,586.9L103.9,586.1L104.1,585.1L103.5,578.2L102.7,577L100.7,576.8L96.2,580.3ZM113,492.8L113.3,491.8L113,490.9L109.2,487L104.5,487.1L103.1,488.2L103.1,489.8L106.7,496.2L107.4,496.9L108.4,497.1L110.2,496.5ZM105.2,531.4L104.6,532.2L104.6,533.2L107.2,539.1L108.5,539.7L111,539L111.7,537.6L111.7,531.3L111.3,530.4L110,529.4L108.5,529.2ZM108.7,575.9L109.9,575.4L112.7,572L111.5,566.4L111,565.7L110.1,565.2L107.9,565.2L106.8,566L105,574.1L105.3,575.2L106,575.9ZM106.1,577L105,577.4L104.5,578.5L105.2,586.4L106.5,587.4L110.3,587.3L113.4,584.9L113.8,584L113.7,583.1L109.6,577.2L108.6,576.9ZM106.2,597.3L104.7,598L104.4,598.9L104.6,599.9L107.5,604.6L108.5,605L110.3,604.7L111.1,603.5L111.2,598.6L110,597.7ZM111.8,497.8L114.3,500.3L117,500.7L118.5,500.1L120.3,493.6L119.7,492.1L118.3,491.5L115.2,491.9L114.3,492.5L111.6,496.7ZM115.5,501.4L114.4,501.6L113.7,502.3L112.5,507.1L113.1,508.5L115.5,509.6L117.5,509.1L118.2,508.5L119.7,504.3L118.4,502ZM116.3,585.6L115.4,585.2L114.4,585.4L111.9,587.3L111.4,588.3L113.7,594.7L115,595.6L117.1,595.4L118,594.1L118.6,588.1ZM121.9,509.6L123.4,509.5L124.2,508.3L124.1,505.2L122.8,504L120.8,504.6L119.7,507.3L120.2,508.8ZM125.4,559.3L124.3,558.6L122.9,558.9L120.5,563.6L120.7,565.1L122.4,567L124.7,566.9L127,563.9L126.9,561.5ZM120.7,599.2L118.6,606L119.1,606.8L122.2,609.3L123.2,609.5L124.9,608.9L128.1,605.4L128.4,604.1L125.4,598.6L124.4,598.1L122.2,598.2ZM175.8,489L174.5,490.1L173.9,493.3L174.4,494.5L175.2,495L180.4,495.8L181.8,495.4L182.3,493.7L180.1,488.9L178.8,488.3ZM182.2,486.8L181.2,487.7L181.3,489L183.5,494.1L184.5,494.8L185.6,494.7L188.2,491.1L188.2,489.6L185.3,486.1L184.3,485.9ZM182.4,570.5L181.5,570.7L178.2,572.7L177.6,573.5L177.6,574.5L178.4,575.6L183.9,578.5L185.1,578.6L186.1,577.6L186.9,574.5L185.4,571.2ZM188.7,531.5L188.8,532.7L189.5,533.5L192.9,534.2L193.8,534.1L194.7,533L195.1,528.5L193.8,527.6L190.2,528L189.4,528.8ZM186.8,560.2L186.8,561.8L189.4,564.2L191.6,564.2L194.5,561.9L194.9,560.3L192.9,554.3L191,553.7L189.8,554.1ZM187.3,573L188,573.8L189.1,574L193.8,572.9L194.6,572.1L194.7,570.5L191.3,565.4L189.6,565.2L188.6,566.1L186.5,570.3ZM197.2,486.7L195.9,487.5L195.5,489.3L197.8,493.7L198.6,494.3L199.8,494.3L203.3,490.6L203.6,489L202.7,487.1L201.9,486.6ZM202.7,550.3L201.3,545.1L200.4,544.6L198.2,544.4L197.1,545L195.7,550.5L196.2,552L197.5,552.4L201.3,552.2L202.3,551.7ZM201.8,569.7L196.7,572.5L196.5,573.4L197.8,577.4L199.8,578.6L201.1,578.4L201.8,577.7L204,572.3L203.9,570.9L203,570ZM197.5,608.4L196.4,608.4L195.5,609.2L195.3,612.2L196.5,613.2L199.5,613.1L200.5,612.1L200.4,610L199.6,609.1ZM215.5,549.8L210.9,550.7L209.6,552.2L209.4,553.7L211.2,557.2L212.2,557.6L214.1,557.4L216.8,554.5L216.9,551L216.4,550.3ZM216.1,568L212.5,566.9L211.7,567.3L208.9,571.5L209.3,572.9L211.6,575.4L212.6,575.9L214,575.7L214.8,575L216.7,569.5ZM209.7,596.1L210.1,597.3L211.4,597.9L216.5,596.2L216.9,595.1L216.9,592.2L215.7,589.9L211.9,588.9L210.5,589.5L210.1,590.4Z"/>
<path fill="#fdf0d4" d="M51.2,508.8L52.9,511.3L53.9,511.4L58,509.6L58.8,504.3L58.1,503L56.3,502.6L55.2,502.9L51.5,507.3ZM53.9,512.4L53,513.3L52.9,514.6L56.3,519.6L58.2,520.3L60.3,519.2L60.7,518.3L61.2,513.2L60.8,511.9L58.4,510.8ZM51.8,553L51.2,554.5L52,557.8L52.8,558.7L53.9,558.9L58.1,557.7L59.1,556.9L59.3,554.3L56.3,550.5L54.7,550.6ZM51.3,600.8L50.6,601.7L50.6,602.8L54,607.3L55.2,607.8L57,607.2L57.6,605.8L57.4,601.2L56.9,600.3L56.1,599.8L53.6,599.6ZM59.7,564.2L60.2,565.7L61.7,566.1L65.7,564.9L66.4,564.1L66.6,563L65.2,560.9L61.7,559.8L60.4,560.8ZM59.7,571.2L59.9,572.4L61.2,573.2L66.4,571.7L67.2,570.2L66.2,567.1L64.6,566.3L61,567.4L60.3,568.3ZM60.8,608.2L64,608L64.9,607.4L65.7,601.3L65,599.9L60.9,598.2L58.8,599.3L58.3,600.5L58.7,606.6L59.2,607.4ZM71.3,496.6L70.3,497.1L66.7,501.8L66.8,503.1L68.5,504.9L73.1,504L74.9,499.5L75,498.5L74.4,497.6L72.6,496.6ZM71.7,548.4L70.1,548.3L69.1,548.8L68.1,551.1L68.1,552.1L69.1,554.5L72.9,556.6L74,556.7L75.1,555.8L76.3,551.4L75.6,550.4ZM70.2,572.2L69.1,572.6L68.5,573.6L68.8,578.7L70.2,579.5L74.3,578.9L75.1,577.5L74.6,573.1L73.5,572.3ZM77.3,487.9L76.3,488L75.5,488.7L73.6,495.4L74,496.3L75.9,497.5L79.3,497.6L80.4,496.9L81.3,495.4L81.4,494.4L79.2,488.8ZM80.7,502.9L81.2,501.3L80.1,499.2L79.1,498.6L77.1,498.5L75.9,499.5L74.5,504.2L75.9,505.8L77.2,506ZM76,537.3L77.3,540.5L80.6,542.5L81.7,542.8L85.2,540.3L85.7,538.9L82.1,533.3L80.6,532.7L78.2,533.2L77.3,534ZM84.6,485.6L83.4,485.9L81,487.4L80.3,488.4L81.9,493.3L83.1,494.2L85.8,493.8L86.7,493.3L89.2,488.3L89.1,487.4L88.4,486.5ZM85.5,513.5L84.4,513.8L83.7,514.7L83.6,519.8L84.6,521L87,521.4L88.2,520.5L90.1,515.5L89,514ZM84.4,522L83.1,522.4L82.5,523.7L82.7,528.8L83.4,529.7L84.4,530L89,528.3L90.1,525.4L89.7,524.3L87.8,522.6ZM84.7,550.9L83.5,551.5L83,552.5L84,558.5L85.1,559.4L88.5,559.7L89.3,559L91.2,555L91.2,553.5L88.8,550.9ZM84,570L82.8,570.4L82.2,571.7L83.7,576.7L85.3,577.5L88.1,576.5L88.8,575.3L88.8,571.1L87.8,570.3ZM91.5,597.7L90.8,598.3L90.5,599.3L91.5,605.6L92.6,606.4L96.3,606.6L97.2,605.4L97.9,599.9L97.7,599L96.8,598.3L93.2,597.3ZM102,575.9L103.2,575.7L103.9,574.9L105.7,566.8L105.4,565.5L104.3,564.8L100.4,565.5L99.4,566.7L99.3,572.6L100.9,575.2ZM111.5,518.2L112.6,518L113.3,517L114.5,511.5L114.3,510.6L111.4,508.7L107,508.8L106.2,509.4L104.4,513.3L105.6,516.6L106.8,517.6ZM112.6,537.2L112.9,538.2L113.9,538.8L116.4,538.8L117.3,538.3L119.7,532.2L119.3,530.6L117.9,530.1L113.9,530.7L113.1,531.2L112.6,532.2ZM119.9,502.5L121.5,503.2L123.3,502.8L124,501.9L124.1,495.6L123,494.2L121.7,494.2L120.8,495.2L119.3,500.8ZM122.1,510.6L120.3,510.9L119.8,512.4L121.3,515.7L122.9,516.4L124.2,515.3L124.3,512.4L123.7,511.3ZM119.9,528.4L120.6,529.3L121.6,529.7L123.4,529.6L124.4,528.6L124.4,520.8L123.4,519.4L122.2,519.4L119.5,520.5L118.6,521.5L118.5,522.5ZM130.4,585.9L129.6,584.7L128.3,584.5L127.4,585.1L126.6,587L126.6,588.3L127.6,590.5L128.4,591.1L129.8,591L130.6,590ZM175.1,495.9L173.9,496.1L173.2,497.2L173.7,503.3L174.7,504.4L177.2,504.6L178.4,503.6L180,497.6L178.9,496.5ZM175.4,528.6L175.9,529.6L176.8,530.1L178.7,530.1L179.8,529.5L182,524.6L181.8,523.7L180.5,522.2L179.2,521.8L175.3,523.2L174.9,524.3ZM178.3,552.9L177.5,551.9L175.7,551.6L174.6,552.1L174,553.1L174.2,560L175.2,561.9L176.2,562.5L178.8,561.8L179.9,560.4ZM174.5,565.3L174.5,571.2L175.5,572.4L176.9,572.4L180.7,569.8L180.8,568.6L179.3,564.4L178.3,563.4L177.3,563.3L175.5,564.1ZM177.2,576L175.7,575.9L174.8,576.8L174.9,581.8L175.9,582.8L179.5,583.7L182.8,581.4L183.2,579.7L182.5,578.8ZM179.6,503L179.8,504.4L180.8,505.2L184.2,504.7L185.1,504.2L186.9,498.7L186.7,497.8L185.7,496.4L183.6,495.8L181.7,496.7ZM180.2,549L180,550.5L181.2,551.6L187.6,552.6L188.7,552.2L189.2,551.4L188.3,545.8L187.1,544.6L183,544.8ZM181.7,561.3L180.4,561.8L179.9,563.1L181.8,568.7L182.8,569.6L185.2,569.7L186,569.1L187.7,565.8L187.7,564.3L185.4,561.8ZM180.8,584.1L180.1,585.3L180.5,589L180.9,589.9L181.9,590.4L185.3,590.4L186.2,590.1L189.2,584.9L188.8,583.6L186.6,581.3L185.7,581L184.7,581.2ZM191.6,516.8L192.8,515.5L192.8,509.5L191.7,508.4L189.2,508.3L188.1,509.3L186.4,513.4L186.5,514.4L187.2,515.3L190.1,516.8ZM188.7,524.6L188.9,526L190,526.9L194.7,526.6L195.6,526.2L196.2,524.9L196.2,519.5L195.8,518.6L193.3,517.4L191.1,518.1ZM195.1,481.8L196.3,485.3L197.2,485.7L202.4,485.2L203.6,483.1L202.3,479.7L200.8,479.1L195.8,480.3ZM198.7,495.4L197.3,495.6L193.8,498.4L193.4,499.3L195.5,505.1L196.6,505.9L199.4,506.1L200.4,505.7L203.1,501L202.7,499.6L199.7,495.9ZM196,517.5L197.1,517.5L199.7,516.4L201.9,511.2L201.9,509.9L200.7,507.7L199.9,507.1L195.8,506.9L194,508.4L193.8,515.7L194.4,516.7ZM195.9,553.4L194.8,553.9L194.3,555.1L195.8,560.1L197,561.1L199.6,561.2L200.5,560L200.9,554.1L199.6,553.2ZM207.7,518.9L208.8,518.4L209.3,517.6L209,513.2L207.2,511.7L204.2,511.2L203.1,511.5L201.1,515.7L201.2,517L203.6,518.9ZM207.7,581.5L202.8,581.3L202,582.1L200.6,586.8L200.9,588.1L204,589.7L209.5,588.8L210.1,588L210.2,587.1L208.7,582.2ZM203.6,597.8L202.3,598.4L202,599.8L205.1,604.6L206.2,605.3L208.8,605.1L209.5,603.9L209.6,599.3L209.3,598.5L208.1,597.7ZM215.4,520.2L216.4,519.7L216.9,518.9L216.7,514.3L215.5,512.7L214.6,512.2L210.9,513.1L210.2,514.4L210.6,519.4L211.9,520.4ZM214.9,540.7L216,540.3L216.6,539.3L216.9,532.7L215.8,531.6L212.3,531.3L211.3,532.1L209.7,534.8L209.6,535.9L211.4,540.3L212.5,540.8ZM216.5,560L213.9,558.4L211.5,558.6L210.7,559.4L210.2,561.1L212.4,565.4L215.3,566.5L216.2,566.2L216.9,565.3L216.9,561Z"/>
<path fill="#fceccf" d="M48.9,507.1L50.7,506.9L54,502.6L53.6,501.1L50.3,498.4L47.6,498.6L45.8,500.7L46,505.5L46.7,506.2ZM45.6,548.5L45.8,551.5L46.6,552.1L50.2,552.8L53.4,550.4L53.9,548.9L51.4,544.8L49.8,544.3L47.3,544.9L46.4,545.5ZM45.5,558.4L46,559.6L47,560.1L50.6,559.4L51.1,557.8L49.9,554.1L47.5,553.3L46.1,553.7L45.6,554.9ZM47.6,581.8L46.5,581.9L45.6,582.9L45.6,587.8L46.1,588.9L48.1,589.9L49.6,588.9L51.1,583.8L50.3,582.4ZM45.7,597.7L48.3,600.8L49.4,600.8L51.9,599.4L52.5,598.4L51.4,592.6L49.7,591.3L48.1,591.8L45.6,595.7ZM58.7,501.8L59.8,501.5L60.5,500.3L59.6,493.6L58.7,492.4L56.8,492L55.9,492.5L52.4,496.6L52.1,498.1L55.2,501.4ZM59.4,560.8L59.2,559.6L58.1,558.8L54.1,559.8L52.9,560.9L53.1,562.8L54.2,564L57.8,564.6L58.9,563.6ZM53.6,610.5L53.3,611.9L54.2,613.1L58.5,613.2L59.8,612.4L60.4,609.9L59.7,608.7L57.8,608.1L54.9,609ZM65.7,503.1L64.8,502.4L61.8,501.8L60.2,502.4L59.2,508.9L59.8,510.2L62.2,511.3L66.9,509.8L67.3,509L67.5,506ZM68.3,511.7L66.7,511.1L62.5,512.5L61.7,517.5L62.3,518.8L66.3,519.5L67.7,519L69.2,513.5ZM67.2,534.1L69.3,530.2L68.9,529.2L67.6,528L66.5,527.8L62,529.3L60.9,530.9L60.7,531.9L60.9,532.9L61.6,533.6L66,534.6ZM65.1,580.8L66.8,580.4L67.6,579.1L67.5,574.3L66.9,573.4L66,573L61.5,574.2L60.6,575.6L61.6,579.6ZM69.8,494.9L71.5,495.4L72.7,494.4L74.3,489.3L74,488.2L73.3,487.5L70.7,486.9L69.7,487.1L67.2,490.4L67.3,491.9ZM68.9,518.4L69.1,519.5L69.9,520.3L73.9,521.2L75,520.9L75.8,519.7L75.9,514.8L75.6,514L74.3,513.3L70.5,513.6L69.9,514.4ZM74.2,537.2L75.4,536.2L76.4,533.8L76.2,532.7L74,530.7L70.6,530.7L67.9,534.6L68,536.2L68.8,537.5L69.7,538.1ZM74.3,591.4L74,590.3L73,589.6L70.5,589.7L69.5,590.5L68.8,597.2L69.7,598.6L72.1,599L73.5,598.3ZM66.1,606.7L66.5,607.9L67.6,608.5L73.5,608L74.7,606.4L75.2,602.2L74.9,601.2L73.3,600.2L68.7,599.5L67.4,599.9L66.7,601ZM73.9,610.3L72.5,609.2L68.6,609.4L67.5,610.4L67.4,612L67.9,612.8L68.7,613.2L73.1,613.2L74.2,612.1ZM76.5,485.4L77.3,486.8L79.1,487.3L82.7,485.1L83.1,483.8L81.6,479.3L80,478.9L76.9,480.4L76.5,481.3ZM81.1,497.3L81,498.7L82.4,501.6L85.4,503.4L88.3,502.9L90.4,499.7L90.1,498.3L86.6,494.7L82.8,495.3ZM91.4,590.4L87,587.5L86,587.7L82.7,590.9L83.8,596.2L84.9,597.3L89.7,597.5L91.3,596.7L91.9,595.9ZM88,609.5L87.1,608.1L85.4,607.5L84.3,607.8L82.9,609.1L82.6,611.5L82.8,612.4L83.9,613.2L87.2,613.1L88.1,611.9ZM88,492.9L88.1,494.6L91.4,498.2L92.4,498.3L94.5,497.8L95.6,496.9L96.5,491.7L95.7,490.3L91.9,488.5L90.7,488.5L89.9,489.2ZM90.4,513.9L91.5,515.4L94.1,516.5L95.2,516.5L97.8,514.2L98.1,512.8L95.2,509.4L93.6,509L92.8,509.6L90.6,512.9ZM92.6,531.4L94,532L97.1,531.7L98.2,531L98.5,530L97.9,525.1L97.1,523.9L95.7,523.7L91.9,524.9L91.1,525.6L90.4,528.6ZM89.9,568.7L89.8,570L90.7,571L97.3,571.8L98.3,570.6L98.4,565.9L97.8,565.2L96.7,564.6L92.2,564.7L91.3,565.5ZM97.5,590.4L97,589.2L95.8,588.7L92.8,590.2L92.5,591.2L92.9,595.3L93.6,596.4L95.9,597L97.3,596.2ZM103,480.5L102.3,479.4L100.4,478.6L98.8,478.9L97.8,479.6L97.3,480.5L97.4,481.5L100.3,486.6L101.5,487.4L102.8,487.1L103.5,486ZM102.3,513L103.9,512.2L105.7,508L103.3,503.2L102.5,502.6L101.3,502.4L100.1,503L96.4,507.4L96.1,508.5L96.5,509.4L99.4,512.6ZM97.7,552.1L98.4,553.2L99.6,553.6L103.3,553.2L105.2,551.7L105.5,550.6L104.4,544.6L103.7,543.5L98.7,542.4L97.2,543.1L96.9,544.3ZM104.6,520.8L104.6,522.4L107.7,527.3L108.8,527.9L110.1,527.5L112.8,521.3L112.5,519.7L111.6,519.1L106.6,518.6L105.6,519.1ZM114.1,517.6L114.7,519.3L117.3,520.2L120,519.3L120.8,518.7L120.9,517.2L118.4,511.9L117.8,511.2L116.5,511L115.4,511.8ZM116.1,549.1L119,549.2L119.8,548.4L121,542.3L120.5,541.5L117.7,539.7L114.6,539.8L113.7,540.6L113.5,541.5L115.2,548.1ZM114.5,558.8L113.4,559.9L113.1,562.2L113.5,563.1L114.6,563.8L118.4,563.9L119.7,563.1L121.8,558.3L121.3,557.1L120,556.7ZM113.6,605.9L116.5,606L117.7,605.1L119.9,598.7L119.5,597.6L118.4,596.8L114.2,596.5L112.5,597.8L112,604.2L112.4,605.1ZM174.1,486.2L174.5,487.4L175.6,488L178.5,487.4L179.3,486.4L179.4,485.4L177.7,480.1L176.7,479L175.3,479L174.4,480ZM174.9,549.9L176.2,550.7L178.1,550.4L181.7,544.9L181.7,543.3L179.3,540.1L176.3,539.9L173.9,542.4L173.9,548ZM184.5,525.1L183.5,525.1L182.7,525.7L180.7,530L181,531.3L182.8,533.2L183.7,533.6L186.4,533.2L187.3,532.6L188.7,528L188.5,527.1L187.7,526ZM184.2,534.5L183.1,535.1L180.9,538.7L180.8,540.2L183.3,543.5L187.9,543.6L188.7,542.9L189,542L187.7,535.2L186.5,534.2ZM193.1,481.7L187.7,481.4L187,482.1L186.1,484.3L186.5,485.7L189.6,489.4L194.2,488.6L195.2,486.1L194.1,482.3ZM190.6,543.4L189.6,543.9L189.1,545.1L190.4,551.7L191.3,552.8L193.3,553L194.4,551.9L195.9,544.4L195.4,543.6L194.2,543ZM189.1,582.6L190,583.1L191.1,582.9L196.4,578.5L196.7,577.1L195.4,574.1L193.9,573.8L188.6,575.1L187.8,575.7L186.6,579.6ZM193.3,606.4L194.3,606.2L194.9,605.4L196.8,599.7L196.7,598.6L194.6,596.9L189.5,597.5L187,600.8L186.9,602.2L189.8,605.9ZM205.4,478.6L204.3,479L203.7,480.2L204.2,481.9L204.8,482.6L209.4,483L210.7,482.3L211,481.4L210.8,480.1L210.1,478.9ZM208.5,611.9L208.5,607.1L207.7,606.4L205.1,606.5L201.5,609.2L201.8,612.5L203,613.2L207.8,613ZM216.5,577.5L214.4,576.5L212.2,577.2L209.6,581.5L211.3,587.5L212.3,588.1L215,588.5L216.3,588L216.9,586.7L216.9,578.3ZM211.5,606.3L210.4,606.5L209.7,607.4L209.6,612.3L211,613.2L215.1,613L216,611.9L216.1,607.6L215.1,606.8Z"/>
<path fill="#fae7c8" d="M54.8,521.5L55.2,520.6L55.1,519.6L52.8,516.1L51.9,515.6L51,515.6L46.6,517.4L45.6,518.5L45.6,523.5L46.1,524.5L46.9,525L50.8,525.4ZM45.5,579L45.8,580L46.7,580.7L49.4,581.2L50.6,580.7L52.3,574L51.8,572.6L50.1,571.7L48.7,572.2L45.7,576ZM49.9,603.5L48.3,602.8L46.8,604L46.4,604.8L46.5,608.4L47.4,609.5L51.9,610.7L53.2,609.5L53.4,608.2ZM62.1,491.9L61,492.3L60.5,493.5L61.4,500L62.5,501L65.3,501.4L69,497.2L69.2,495.7L65.8,491.9ZM67.5,522.3L67.2,521.2L66.5,520.5L61.7,519.9L60.1,520.4L59.4,521.6L61.2,527L62.6,527.9L66.6,526.6ZM79.1,511.8L82.4,512L83.2,511.2L84.6,505.3L84.2,503.9L82.7,503.1L81.4,503.5L77.9,506.9L77.6,507.7L78.2,511.3ZM77.6,522.2L76.5,522.5L75.8,523.4L75,529.6L75.3,530.5L76.8,531.8L78.1,532.2L80.7,531.7L81.7,530.8L81.6,524.1L80.7,522.7ZM75.4,557.7L75.5,559.4L76.6,560.4L80.5,561L82.6,559.7L83,558.4L82,551.8L81.5,551L80.1,550.6L77.7,551.4ZM75,569.6L75.6,570.7L76.7,571L80.3,569.9L81.1,569.3L81.3,568.3L80.5,563.1L79.8,561.9L75.9,561.2L74.2,562.5L73.9,563.5ZM83,601.3L82.3,600.3L81.3,600L76.8,601.4L76,602.6L75.7,605.2L76.1,606.2L76.9,606.8L81.7,607.9L83.1,607.6L83.8,606.8L84.1,605.9ZM76.7,607.7L75.4,607.9L74.7,609.1L75.8,612.6L77.2,613.3L80.1,613.2L81,612.8L81.8,610.4L81.5,609.1L80.6,608.6ZM88.3,512.9L89.8,512.3L91.8,509.5L92,508.5L89,504.6L87.7,504.1L86.4,504.4L85.6,505.2L84.3,511.1L85.3,512.5ZM84.2,531.1L83.2,532.1L83.3,533.5L87,538.7L88.1,539.2L89.1,539L89.8,538.2L92,533.5L91.9,532.1L90.2,530L89.3,529.6ZM90.6,485.2L90.6,486.4L91.2,487.2L96.6,489.7L97.9,489.6L99.6,488.3L99.4,486.8L96.3,481.3L95.5,480.7L93.3,480.6L92.4,481ZM98.8,503.2L99.2,502.1L98.9,501L96.4,498.9L95.3,498.6L91.7,499.7L89.6,503.3L89.9,504.2L92.6,507.4L94,508L95.2,507.5ZM95.9,542.2L97.4,541.7L98.1,540.5L98.1,534.1L97.7,533.2L96.6,532.7L94,532.9L93.1,533.5L90.4,539.3L90.7,540.4L92.2,541.8ZM94.3,579.8L95.3,579.6L99.1,576.8L99.6,576L99.5,574.8L98.7,573.5L97.9,573L90.8,572.2L89.9,573.3L89.9,576.5L92.7,579.4ZM102.3,490.2L101.6,489.5L100.6,489.4L97.9,490.7L96.6,497.1L97.1,498.2L100.4,501.2L102.5,501.6L103.8,501L105.9,498.6L106.2,497.6ZM96.4,516.9L95.9,518.1L96.7,522.1L97.3,522.9L98.2,523.3L103.2,521.4L105,518L103.8,514.8L102.6,514L99.5,514ZM102.5,522.7L99.1,524.4L98.8,525.3L99.4,530L100,530.9L103.5,531.5L106.4,529.3L106.7,527.6L103.9,523.1ZM98,611.1L98.2,612.5L99.5,613.2L103.7,613.2L104.5,612.6L104.9,611.8L104.3,610L103.1,609.3L99.3,609.3L98.4,610ZM112.5,541.4L111.7,540.4L110.4,540.2L107.4,541.1L105.4,543L105.2,544L106.3,550.1L107.2,551.3L109.7,551.7L114,549.2L114.2,548.1ZM115,491L117.8,490.4L118.3,489.5L118.6,482.4L117.5,481.2L113.7,480.4L112.6,481.3L110.4,485.4L110.4,486.5L114.2,490.7ZM115.6,550L111.6,551.8L110.9,552.9L111,553.9L112.6,556.9L113.8,557.8L119.1,556L120,554.9L119,550.8L118.1,550.3ZM114.1,582L115.2,582.7L116.3,582.5L120.2,578.2L120.1,576.7L117.9,573.9L113.6,573.1L110.8,575.8L110.9,577.4ZM123.4,540.9L124.3,540.2L124.8,538.8L124.6,532L123.7,530.8L122.3,530.6L120.9,531.6L118.6,538.5L119.1,539.5L121.4,541ZM125.4,547.2L124.8,543.6L124,543L123,543L122.2,543.5L121.1,547L121.7,548.5L123.8,548.9L125,548.3ZM122.1,549.8L120.9,550.3L120.4,551.3L121.3,555.3L123,557.1L125,557.2L125.9,556.6L126.3,555.7L125.7,550.9L124.7,549.9ZM122.4,578.2L121.1,578.7L116.9,583.5L117.1,585.1L119.4,587.1L125.1,587L125.8,586.3L127.4,582.5L127.4,581.4L125.9,578.9ZM124.4,597.2L125.5,596.6L127.3,594.1L127.5,592.4L125.3,588.3L120.4,588.2L119.4,589.4L119,595.7L121,597.3ZM175.9,538.1L177,538.9L179.5,538.9L181.9,535.4L182,533.7L179.7,531.3L175.6,531L173.7,532.7L173.6,534.4ZM179.7,599.8L178.3,597.1L177.4,596.8L175.9,597.7L175.8,600.6L176.6,601.8L177.8,602L179.4,601.1ZM179.4,610.8L180.2,609.7L181.1,604.2L180.6,603L179.4,602.5L176.7,603.4L176,604.9L176.5,610.5L177.8,611.4ZM181.5,552.6L180.3,552.9L179.6,554.1L180.9,559.5L182,560.4L185.1,560.5L185.9,559.9L187.9,555.8L187.9,554.3L186.8,553.4ZM180.9,600.4L182.1,601.4L185.3,601.2L188,597.6L188,596.2L186.4,592.2L185.7,591.5L180.6,591.3L178.5,592.9L178.4,594.2ZM188.8,607.6L188.6,606.1L185.8,602.5L183.7,602.3L182.5,602.9L181.2,609L181.8,610.5L185.5,611.8L186.5,611.7L187.4,610.9ZM187.4,497.2L188.3,497.8L192.2,498.4L196.2,495.2L196.7,493.6L194.9,490.3L193.5,489.8L189.5,490.8L186.8,495L186.8,496ZM191,534.8L189.7,535L189,536.1L189.8,541.2L190.9,542.3L193.2,542.1L194.3,541.1L195.2,536.6L194.2,535.5ZM187.3,590.2L187.1,591.5L189.3,596.1L190.3,596.4L193.6,596.1L194.8,595.3L196.1,589.4L195.6,588.6L191.8,586L190.7,585.7L189.7,586.2ZM188.4,610.9L188.3,612.2L189.3,613.1L193.2,613.1L194.2,611.9L194.3,608.3L193.2,607.4L190.4,607.3L189.5,608.1ZM197.1,525.1L197.8,526.5L200.5,527.5L201.7,527.4L202.5,526.6L202.8,520L202.3,519.2L200.4,517.7L199.4,517.6L198.2,518.1L197.2,519ZM195.2,541L195.5,542.4L196.8,543.3L200.3,543.7L201.3,543.4L202,542.1L201.5,536.5L200.1,535.8L196.8,536.7L196.1,537.5ZM192.6,582.9L192,584.2L192.5,585.4L196.6,588.2L197.8,588.3L198.9,587.9L199.6,587.2L201.2,581L200.4,579.8L197.6,579ZM198.3,589.1L197.2,590.2L195.8,596L197.8,598.2L200.3,598.4L202,596.8L203,591L202.4,590.1L200.1,589ZM196,605.2L196,606.3L196.6,607.1L200.4,608.3L203.5,606.5L204.1,605.2L200.8,599.9L199.1,599.3L197.6,600.2ZM203.7,485.2L203.4,486.5L204.6,489L205.4,489.6L207.4,490L208.9,489.3L210.4,485.8L210.1,484.6L208.9,483.9L205,483.9ZM208.5,492.8L208.3,491.7L207.6,491L204.6,490.7L201.2,494.3L201,496L203.9,499.5L204.8,499.8L206.5,499.5L207.5,498.4ZM210.1,540L208.4,536.1L207.6,535.8L204.3,535.8L203.3,536.1L202.7,537.5L202.9,541.2L203.3,542.1L204.7,542.7L209.6,541.5ZM210,558.8L210.1,557.5L208,553.3L204,552.1L202.6,552.7L202.2,553.6L201.3,560.9L202,562.4L203.5,562.8L208.5,560.8ZM212,482.1L213,483.4L215,483.9L216,483.8L216.9,482.6L216.7,479.5L215.6,478.7L212.7,478.9L211.8,480.1ZM215.1,499.4L215.5,498.3L215.4,494.6L215,493.7L211.2,492.4L209.8,492.8L209.3,493.6L208.4,498.1L208.8,499.5L212.9,501.2L214,500.8ZM216.9,522.8L216.6,521.8L215.4,521.1L212.6,521.4L211.5,522L209.9,526.9L211.9,530L215.4,530.6L216.7,529.8L216.9,528.9ZM212.5,541.7L211.4,542.1L210.8,543.1L211.3,548.2L212.7,549.2L216,548.7L216.9,547.3L216.9,543.9L216.5,542.6L215.4,541.6ZM210.5,600.2L210.6,604.6L211.5,605.3L214.5,605.7L215.7,605.3L216.9,601.4L216.9,599.3L216.6,598.4L215.1,597.8L211.1,599.1Z"/>
<path fill="#f7e0c0" d="M47.6,480.1L46.2,480.5L45.6,481.6L45.6,487.1L46.1,488L47.1,488.5L51.7,486.5L52.5,482.6L51.6,481.1ZM47.1,489.7L46.3,490.4L46.1,491.4L47.5,496.4L48.6,497.4L50.4,497.3L54.9,492.3L55,490.7L53,488.3L52.1,487.8ZM47.9,507.7L46.5,507.7L45.6,509.1L45.6,514.6L46.1,515.5L47.1,516L51.2,514.5L52.1,513L52,512.1L50.1,508.9ZM45.5,533.3L45.8,534.3L46.8,534.9L49.1,535.1L50.3,534.5L52,529.7L50.5,526.8L47.2,526L45.9,526.7L45.6,527.6ZM55.1,480.9L54.1,481.3L53.5,482.1L53,486.8L56.4,490.7L59.5,491.3L60.5,490.1L61.3,482.9L58.6,481ZM58.5,522.4L57.6,521.5L56.2,521.4L52.2,525.5L51.9,526.9L53.1,528.9L58.7,530.5L60.3,529.9L60.7,528.3ZM59.1,566.5L58.1,565.8L54.2,564.9L53.2,565.1L50.7,569.1L50.8,570.5L53.3,572.4L57.9,572.5L58.7,571.5L59.5,567.9ZM58.6,588.9L57.4,584.3L56.7,583.8L53.4,583.6L52.5,583.9L51.9,584.6L50.4,589.2L50.7,590.6L52.2,591.3L58,590.2ZM57,599L58.2,598.7L60,596.8L59.8,592.6L58.6,591.4L53.7,592L52.6,593.3L53.7,598.2L54.7,598.7ZM68.4,487L68.6,485.5L67.1,482.9L65.9,482.5L63.3,482.9L62.3,484.1L61.7,489.9L63,490.9L65.6,490.7ZM59.6,589.2L60.2,590.1L61.4,590.5L66.3,589.2L67.1,588.6L67.4,587.2L65.3,581.9L61.5,580.9L60.6,581.4L59,583.1L58.7,584.3ZM65.5,599.1L67,599L67.9,597.8L68.3,591.6L67.8,590.6L66.8,590.1L61.9,591.4L60.8,592.7L61.3,597ZM75.3,512.3L76.3,511.9L76.9,510.9L76.6,508L76.1,507.1L73.2,505.2L69.6,505.8L68.8,506.2L68.4,507.2L68.2,509.9L69.6,511.9L70.7,512.4ZM74.8,523.9L74.5,522.8L73.8,522.1L70.2,521.4L69.2,521.5L68.4,522.6L68,527L70.6,529.4L73.2,529.5L74.2,528.5ZM67.2,543.6L67.3,545.1L68.7,547L69.7,547.3L71.1,547.2L75.6,541.1L75.9,540.1L75.6,539.2L74.9,538.5L74,538.2L69.6,539.2L69,539.8ZM68.4,587.6L69,588.5L70,588.8L73.8,588.5L74.8,588L75.2,587.1L75.5,581.8L75,580.5L73.7,580L68.4,580.5L67.3,581.2L66.8,582.8ZM80.6,543.6L77.1,541.8L76,542.2L72.9,546.9L73.6,548.3L77.5,550.2L79.7,549.7L80.5,549.2L81.1,545ZM82.9,581.3L81.5,580.3L77.9,580.4L76.9,580.9L76.5,581.8L76.1,587L76.7,588.3L81.5,590L82.5,589.6L84.6,587.7L85,586.1ZM84,483.6L85.1,484.8L88.2,485.5L89.3,485.2L89.9,484.5L91.2,480.9L91.1,479.5L89.8,478.7L84.1,478.8L83.2,480.3ZM81.8,548.2L82.2,549.5L83.2,550L88.6,549.6L89.2,548.8L91.2,543.3L90.9,541.9L89.1,540.3L87.5,540L86.6,540.3L82.3,543.9ZM90.5,565L90.4,563.6L89.1,561.5L88.3,560.9L83.8,560.3L82,561.2L81.5,562L82.2,567.8L83.2,569L87.4,569.3L88.4,569.1ZM85.4,598.3L84.1,598.7L83.6,599.9L85,605.7L85.9,606.7L87.8,607.4L88.9,607.3L89.9,606.6L90.4,605.6L89.6,599.5L88.4,598.4ZM89,520.9L89.2,522.5L91,524L94.6,523.1L95.6,521.9L94.8,518L92.3,516.7L90.7,517.3ZM90,549.3L90.1,550.7L92.3,553.1L95.2,553.3L96.2,552.8L96.8,551.4L96.1,544.5L95.6,543.5L93.4,542.9L92.2,543.5ZM102.6,532.4L99.8,532.5L99.1,533.6L99.1,540.6L100.2,541.7L104.4,542.4L106.1,541L106.3,539.5L103.5,533.1ZM103.2,564L104.2,563.4L104.6,562.4L103.4,555.4L102.4,554.4L100.1,554.5L98.9,555.7L97.7,563.6L98.3,564.4L99.3,564.8ZM98.4,595.9L98.9,597L99.9,597.6L102.2,597.1L103.1,596.4L104.5,589.7L103.8,588.2L99.9,587.8L98.7,588.5L98.4,589.5ZM98,606.3L98.3,607.4L99.1,608.1L103.5,608.5L104.6,608L106.2,606.3L106.4,604.6L102.5,598.5L101.6,598.3L100.1,598.6L99.1,599.4ZM105.6,478.6L104.5,479L103.9,480L104.4,485L105.7,486L108.7,485.8L109.5,485.2L111.7,481.2L111.8,479.7L110.5,478.7ZM107.9,498.1L107.1,498.6L104.6,501.5L104.3,503L106.7,507.4L110.5,507.7L111.6,506.7L113,500.8L110.5,497.9ZM105.6,562.8L106.2,563.8L107.2,564.2L110.9,564.3L112,563.2L112.5,558.7L109.6,553.2L108.7,552.6L106.2,552.3L104.3,554ZM110.9,596.9L112.3,596.4L112.8,595.1L110.5,589.2L109.3,588.3L106.3,588.6L105.4,589.7L104.5,594.5L104.7,595.5L105.9,596.3ZM105.7,608.2L105.3,609.8L107,612.9L110.8,613.2L112.1,612.5L113.3,607.8L112.5,606.3L111.1,605.7L108.1,606ZM111.3,527.6L111.4,529L112.6,529.9L117.5,529.2L118.3,528.7L118.8,527.3L117.5,522.1L117,521.2L115.3,520.6L113.9,521.2ZM114.2,564.7L113,565.1L112.5,566.2L113.6,571.4L114.8,572.2L117.2,572.8L118.2,572.6L120.9,568.3L120.9,566.9L119.1,564.9ZM120.5,612.8L121.5,610.5L121.1,609.6L118,607.1L117,606.9L115.3,607.1L114.5,607.6L113.4,611.5L113.7,612.5L114.6,613.2L119.4,613.3ZM122.4,480.2L121.2,480.4L119.7,481.8L119.3,489.7L120,491.2L122.3,491.9L123.6,491.4L124.1,490.2L123.9,481.6L123.4,480.6ZM125,568.7L123.3,568.1L122.1,568.4L119.4,572.9L119.6,574.2L121.3,576.7L122.1,577.3L126,577.4L128.4,573.9L128.2,572.3ZM131.1,595.5L130.3,594.2L128.8,594.1L128,594.7L126.3,597.3L126.4,598.4L128.3,601.8L129.4,602.7L130.7,602.5L131.4,601.4ZM131.9,606.8L131.2,605.5L129.6,605.3L126.1,609L126.1,610.6L128,613L130.8,613.2L132,612.4ZM180,512L178.9,506.2L178,505.6L175,505.4L173.8,505.8L173,507.8L173.1,511.8L173.5,512.7L174.4,513.2L178,513.7L179.4,513.3ZM173.5,520.7L174.2,521.7L175.1,522L179.5,520.6L181,516.8L180.7,515.4L179.5,514.8L174.9,514.2L173.9,514.5L173.2,515.8ZM175.2,590.8L175.8,592L177,592.4L177.9,592.1L179.4,590.7L179.2,585.7L178.2,584.5L176.4,584.1L175.2,585ZM180.5,478.6L179.3,479.2L178.8,480.4L180.3,485.1L181.9,485.8L184.6,484.8L186.4,481.1L186,479.5L184.7,478.7ZM181.1,513.5L181.6,514.5L182.6,515L184.4,514.6L185.3,513.8L187.4,508.3L187,507.2L185.5,505.8L184.6,505.6L181.6,506.1L180.6,506.8L180.4,507.8ZM185.8,515.6L184.7,515.5L182.3,516.3L180.9,520.7L183.2,523.7L186.8,524.6L188.1,523.6L189.7,518.4L189,517.3ZM186.3,503.9L186.5,505.4L188.8,507.3L193.1,507.4L194.5,506.1L194.5,505.1L192.5,500.3L191.4,499.3L189,498.9L188,499.3ZM195.5,533.5L195.8,534.8L196.9,535.4L200.7,534.4L201.2,533.1L200.9,529.5L200.5,528.6L198.1,527.6L196.7,528.1L196.2,528.9ZM192.9,565.8L196.2,570.7L197.4,570.8L201.6,568.6L202,567.7L202.2,564.6L201.7,563.4L200.2,562.4L196.3,562L193.3,564L192.8,564.9ZM208.1,500.4L204.3,501L201.6,505.7L201.5,507.2L203.4,510L206.2,510.6L207.5,510.2L211,503.5L211.2,502.5L210.7,501.6ZM204.8,526.7L208.5,526.5L209.2,525.7L210.5,521.8L210.5,520.8L209.2,519.8L204.7,519.9L203.7,521.3L203.7,525.8ZM202.1,533.3L202.5,534.2L203.5,534.8L208.3,534.7L209.1,534.1L210.5,531.6L210.7,530.2L209.4,528.2L208.5,527.7L203.1,527.8L201.9,529.1ZM204,543.7L203,544.3L202.6,545.4L203.8,550.5L204.8,551.4L207.4,552.1L208.5,551.9L210.3,549.5L209.8,543.9L208.3,543ZM210.9,566.7L211.2,565.3L209.9,562.7L209.1,562.1L208.1,561.9L203.5,564L203.1,564.8L203,568.2L203.4,569.1L205,570.5L207.2,571.1L208.2,570.6ZM202.7,577.9L202.7,579L203.5,580L208.2,580.6L209.4,579.8L210.8,577.5L211,576.6L207.8,572.6L206,572L204.7,572.9ZM205.4,590.4L204,591.5L203.5,595.8L204.7,596.8L207.8,596.7L208.8,595.4L209,591.4L207.8,590.3ZM210,489.1L209.9,490.2L210.7,491.2L214.7,492.4L215.7,492.2L216.9,490.6L216.8,485.9L215.6,485L213.4,484.5L212.4,484.7L211.7,485.3ZM208.9,509.7L208.9,511.3L210.1,512.2L214,511.2L214.8,510.7L216.4,506.5L214.4,503.3L213.2,502.9L212,503.5Z"/>
</g>
<path d="M180,530.8L179.6,509.9L179,478.2L172,478.2L172.6,510L173,531L173.8,564L174.6,587L176,613.7L183,613.7L183,613.3L181.6,586.7L180.8,563.8ZM117.4,478.3L117.6,500.1L117.6,500.1L118,531.1L118,531.3L118.6,545.3L118.6,545.7L120.7,565.2L120.8,565.5L124,587.7L125.8,613.7L132.8,613.7L131,587L127.7,564.5L125.6,545L125,531L124.6,500L124.4,478.2L117.4,478.2Z" fill="#dcae6c" opacity="0.34" filter="url(#soft2)"/>
<path d="M175.5,530.9L175.1,510L174.5,478.2L172,478.2L172.6,510L173,531L173.8,564L174.6,587L176,613.7L178.5,613.7L178.5,613.6L177.1,586.9L176.3,563.9ZM121.9,478.2L122.1,500L122.1,500L122.5,531L122.5,531.1L123.1,545.1L123.1,545.3L125.2,564.8L125.2,564.9L128.5,587.3L130.3,613.7L132.8,613.7L131,587L127.7,564.5L125.6,545L125,531L124.6,500L124.4,478.2L121.9,478.2Z" fill="#dcae6c" opacity="0.3" filter="url(#soft3)"/>
<path d="M82,478C82.2,485 82.8,506.3 83.5,520C84.2,533.7 84.4,544.5 86,560C87.6,575.5 91.8,604.2 93,613" fill="none" stroke="#c99b5e" stroke-width="6.5" opacity="0.42" filter="url(#soft2)"/>
<path d="M82,478C82.2,485 82.8,506.3 83.5,520C84.2,533.7 84.4,544.5 86,560C87.6,575.5 91.8,604.2 93,613" fill="none" stroke="#b98d55" stroke-width="0.9" opacity="0.55"/>
<path d="M82,548C81.2,552 79.5,564 77,572C74.5,580 70.7,589.2 67,596C63.3,602.8 57,610.2 55,613" fill="none" stroke="#c99b5e" stroke-width="6.5" opacity="0.42" filter="url(#soft2)"/>
<path d="M82,548C81.2,552 79.5,564 77,572C74.5,580 70.7,589.2 67,596C63.3,602.8 57,610.2 55,613" fill="none" stroke="#b98d55" stroke-width="0.9" opacity="0.55"/>
<rect x="211.4" y="478.2" width="6" height="135.5" fill="url(#edgeR)"/>
<path d="M174.6,587L173.8,564L173,531L172.6,510L172,478.2L124.4,478.2L124.6,500L125,531L125.6,545L127.7,564.5L131,587L132.8,613.7L176,613.7Z" fill="#3a3938"/>
<path d="M124.2,525.6Q132,523 140,522.1L157.7,520.1Q165.6,519.2 173.7,520L173.3,515.6Q165.5,518.2 157.5,519.1L139.8,521.1Q131.9,522 123.8,521.2Z" fill="#f6e3c0" stroke="#c9ab7a" stroke-width="0.5"/>
<circle cx="124.8" cy="492.6" r="1.8" fill="#f3dcb4" stroke="#c9ab7a" stroke-width="0.4"/>
<circle cx="128.6" cy="573.4" r="1.8" fill="#f3dcb4" stroke="#c9ab7a" stroke-width="0.4"/>
<circle cx="131.3" cy="590" r="1.8" fill="#f3dcb4" stroke="#c9ab7a" stroke-width="0.4"/>
<circle cx="172.2" cy="502" r="1.9" fill="#f3dcb4" stroke="#c9ab7a" stroke-width="0.4"/>
<circle cx="173.6" cy="569" r="1.8" fill="#f3dcb4" stroke="#c9ab7a" stroke-width="0.4"/>
<circle cx="175" cy="593.3" r="1.8" fill="#f3dcb4" stroke="#c9ab7a" stroke-width="0.4"/>
<path d="M83.5,479.9L83.4,491.4L83.2,491.6L83.1,492L82.3,500L82.2,509L82.2,509.4L82.6,510L83.2,510.4L83.6,510.4L84,510.4L84.6,510L85,509.4L85,509L84.9,500L84.5,492L84.4,491.6L84.3,480L84,479.6L83.7,479.7ZM82.6,515L82.3,524L82.7,533.6L82.9,534.5L83.2,534.9L83.6,535.2L84.5,535.4L85.4,535.2L85.8,534.9L86.1,534.5L86.3,533.6L86.1,524L85.5,515.4L85.3,514.6L84.8,514.1L84.4,514L83.6,514L83.2,514.1L82.7,514.6ZM83.2,539.5L83.3,548L84,555.6L84.1,556L84.7,556.5L85,556.6L85.8,556.6L86.2,556.5L86.7,556L86.9,555.2L87.1,548L86.6,539.5L86.2,538.7L85.8,538.4L84.9,538.2L84,538.4L83.6,538.7ZM84.5,561L84.7,567.9L85.2,568.5L86,568.6L86.4,568.3L86.7,567.6L86.5,560.7L86,560.1L85.2,560L84.8,560.3ZM86.3,576.2L86.7,580L87.1,580.6L87.8,580.7L88.4,580.2L88.5,579.8L88.1,576.2L87.7,575.6L87.2,575.5L86.8,575.6ZM87.8,582.3L89.5,590.3L89.8,590.6L90.1,590.7L90.4,590.5L90.5,590.2L89.2,582.3L89,582L88.5,581.8L88,582Z" fill="#3a3938" filter="url(#soft3)"/>
</g>
<rect x="45.9" y="478.9" width="170.8" height="134" fill="none" stroke="#74b08c" stroke-width="1.5" filter="url(#soft3)"/>
<clipPath id="ecl0"><path d="M252.8,79.5A26.3,67.4 0 0 1 305.4,79.5A26.3,67.4 0 0 1 252.8,79.5Z"/></clipPath>
<clipPath id="ecl0b"><rect x="249.8" y="10.1" width="58.6" height="139.8"/></clipPath>
<g clip-path="url(#ecl0b)">
<g clip-path="url(#ecl0)">
<rect x="251.8" y="11.1" width="54.6" height="136.8" fill="#f5d6a9"/>
<rect x="265" y="11.1" width="27.5" height="136.8" fill="#3a3938"/>
<g filter="url(#soft3)">
<path d="M267.5,26C267.5,27.5 267.9,32.3 267.6,35C267.4,37.7 266.5,40.1 266,42C265.5,43.9 265,45.8 264.8,46.5" fill="none" stroke="#b59c68" stroke-width="4" stroke-linecap="round" stroke-linejoin="round"/>
<path d="M267.5,26C267.5,27.5 267.9,32.3 267.6,35C267.4,37.7 266.5,40.1 266,42C265.5,43.9 265,45.8 264.8,46.5" fill="none" stroke="#e8d6a3" stroke-width="2.8" stroke-linecap="round" stroke-linejoin="round"/>
<path d="M288.5,27C288.4,28.2 287.8,32 288,34C288.2,36 289.4,37.4 290,39C290.6,40.6 291.5,42.8 291.8,43.5" fill="none" stroke="#b59c68" stroke-width="4" stroke-linecap="round" stroke-linejoin="round"/>
<path d="M288.5,27C288.4,28.2 287.8,32 288,34C288.2,36 289.4,37.4 290,39C290.6,40.6 291.5,42.8 291.8,43.5" fill="none" stroke="#e8d6a3" stroke-width="2.8" stroke-linecap="round" stroke-linejoin="round"/>
<path d="M264.8,46.5C265.3,47.1 267.4,48.2 268,50C268.6,51.8 268.4,54.3 268.7,57C268.9,59.7 269.1,63.5 269.5,66C269.9,68.5 270.4,70.5 271,72C271.6,73.5 272.7,74.5 273,75" fill="none" stroke="#b59c68" stroke-width="4" stroke-linecap="round" stroke-linejoin="round"/>
<path d="M264.8,46.5C265.3,47.1 267.4,48.2 268,50C268.6,51.8 268.4,54.3 268.7,57C268.9,59.7 269.1,63.5 269.5,66C269.9,68.5 270.4,70.5 271,72C271.6,73.5 272.7,74.5 273,75" fill="none" stroke="#e8d6a3" stroke-width="2.8" stroke-linecap="round" stroke-linejoin="round"/>
<path d="M268.7,57C269.1,55.3 270,48.9 271,47C272,45.1 273.7,44.7 274.5,45.5C275.3,46.3 276.2,49.2 276,52C275.8,54.8 274.2,59 273.5,62C272.8,65 272.1,67.8 272,70C271.9,72.2 273.1,72.3 273,75C272.9,77.7 272,82.5 271.5,86C271,89.5 269.8,93.2 270,96C270.2,98.8 271.7,103 272.5,103C273.3,103 274.4,99.2 275,96C275.6,92.8 275.5,87.7 276,84C276.5,80.3 277.3,79.3 278,74C278.7,68.7 279.9,55.7 280.3,52" fill="none" stroke="#b59c68" stroke-width="4" stroke-linecap="round" stroke-linejoin="round"/>
<path d="M268.7,57C269.1,55.3 270,48.9 271,47C272,45.1 273.7,44.7 274.5,45.5C275.3,46.3 276.2,49.2 276,52C275.8,54.8 274.2,59 273.5,62C272.8,65 272.1,67.8 272,70C271.9,72.2 273.1,72.3 273,75C272.9,77.7 272,82.5 271.5,86C271,89.5 269.8,93.2 270,96C270.2,98.8 271.7,103 272.5,103C273.3,103 274.4,99.2 275,96C275.6,92.8 275.5,87.7 276,84C276.5,80.3 277.3,79.3 278,74C278.7,68.7 279.9,55.7 280.3,52" fill="none" stroke="#e8d6a3" stroke-width="2.8" stroke-linecap="round" stroke-linejoin="round"/>
<path d="M280.3,52C279.8,50.8 276.9,46 277,44.5C277.1,43 279.8,42.1 281,43C282.2,43.9 284.2,47.2 284.5,50C284.8,52.8 283.8,56.7 283,60C282.2,63.3 280.4,66.3 279.5,70C278.6,73.7 277.7,77.7 277.5,82C277.3,86.3 278.1,91.8 278.5,96C278.9,100.2 279.2,106.3 280,107C280.8,107.7 282.5,103.2 283,100C283.5,96.8 282.8,91.7 283,88C283.2,84.3 283.8,79.7 284,78" fill="none" stroke="#b59c68" stroke-width="4" stroke-linecap="round" stroke-linejoin="round"/>
<path d="M280.3,52C279.8,50.8 276.9,46 277,44.5C277.1,43 279.8,42.1 281,43C282.2,43.9 284.2,47.2 284.5,50C284.8,52.8 283.8,56.7 283,60C282.2,63.3 280.4,66.3 279.5,70C278.6,73.7 277.7,77.7 277.5,82C277.3,86.3 278.1,91.8 278.5,96C278.9,100.2 279.2,106.3 280,107C280.8,107.7 282.5,103.2 283,100C283.5,96.8 282.8,91.7 283,88C283.2,84.3 283.8,79.7 284,78" fill="none" stroke="#e8d6a3" stroke-width="2.8" stroke-linecap="round" stroke-linejoin="round"/>
<path d="M284,78C284.5,77 286.3,75 287,72.3C287.7,69.6 287.4,64.2 288,62C288.6,59.8 289.9,59.5 290.3,59" fill="none" stroke="#b59c68" stroke-width="4" stroke-linecap="round" stroke-linejoin="round"/>
<path d="M284,78C284.5,77 286.3,75 287,72.3C287.7,69.6 287.4,64.2 288,62C288.6,59.8 289.9,59.5 290.3,59" fill="none" stroke="#e8d6a3" stroke-width="2.8" stroke-linecap="round" stroke-linejoin="round"/>
<path d="M290.3,59C289.8,58.2 287.9,53.5 287,54C286.1,54.5 285.5,59.3 285,62C284.5,64.7 283.7,68.3 284,70C284.3,71.7 286.5,71.9 287,72.3" fill="none" stroke="#b59c68" stroke-width="4" stroke-linecap="round" stroke-linejoin="round"/>
<path d="M290.3,59C289.8,58.2 287.9,53.5 287,54C286.1,54.5 285.5,59.3 285,62C284.5,64.7 283.7,68.3 284,70C284.3,71.7 286.5,71.9 287,72.3" fill="none" stroke="#e8d6a3" stroke-width="2.8" stroke-linecap="round" stroke-linejoin="round"/>
<path d="M287,72.3C287.3,73.2 288.3,76 289,78C289.7,80 290.7,83 291,84" fill="none" stroke="#b59c68" stroke-width="4" stroke-linecap="round" stroke-linejoin="round"/>
<path d="M287,72.3C287.3,73.2 288.3,76 289,78C289.7,80 290.7,83 291,84" fill="none" stroke="#e8d6a3" stroke-width="2.8" stroke-linecap="round" stroke-linejoin="round"/>
<path d="M263.6,84.6C264.2,85.2 266.3,86.3 267,88C267.7,89.7 268.1,93 268,95C267.9,97 267.2,98.5 266.5,100C265.8,101.5 264.4,103.3 264,104" fill="none" stroke="#b59c68" stroke-width="4" stroke-linecap="round" stroke-linejoin="round"/>
<path d="M263.6,84.6C264.2,85.2 266.3,86.3 267,88C267.7,89.7 268.1,93 268,95C267.9,97 267.2,98.5 266.5,100C265.8,101.5 264.4,103.3 264,104" fill="none" stroke="#e8d6a3" stroke-width="2.8" stroke-linecap="round" stroke-linejoin="round"/>
<path d="M291,84C290.5,85 288.6,87.8 288,90C287.4,92.2 287.2,95.2 287.5,97C287.8,98.8 289.2,99.7 290,101C290.8,102.3 291.9,104.3 292.3,105" fill="none" stroke="#b59c68" stroke-width="4" stroke-linecap="round" stroke-linejoin="round"/>
<path d="M291,84C290.5,85 288.6,87.8 288,90C287.4,92.2 287.2,95.2 287.5,97C287.8,98.8 289.2,99.7 290,101C290.8,102.3 291.9,104.3 292.3,105" fill="none" stroke="#e8d6a3" stroke-width="2.8" stroke-linecap="round" stroke-linejoin="round"/>
<path d="M284,78C284.3,79.7 285.8,84.7 286,88C286.2,91.3 285.3,95.3 285.5,98C285.7,100.7 286.3,104 287,104C287.7,104 289.1,99 289.5,98" fill="none" stroke="#b59c68" stroke-width="4" stroke-linecap="round" stroke-linejoin="round"/>
<path d="M284,78C284.3,79.7 285.8,84.7 286,88C286.2,91.3 285.3,95.3 285.5,98C285.7,100.7 286.3,104 287,104C287.7,104 289.1,99 289.5,98" fill="none" stroke="#e8d6a3" stroke-width="2.8" stroke-linecap="round" stroke-linejoin="round"/>
<path d="M264,104C264.4,105 265.9,107.3 266.5,110C267.1,112.7 267.2,116.5 267.5,120C267.8,123.5 268.3,129.2 268.5,131" fill="none" stroke="#b59c68" stroke-width="4" stroke-linecap="round" stroke-linejoin="round"/>
<path d="M264,104C264.4,105 265.9,107.3 266.5,110C267.1,112.7 267.2,116.5 267.5,120C267.8,123.5 268.3,129.2 268.5,131" fill="none" stroke="#e8d6a3" stroke-width="2.8" stroke-linecap="round" stroke-linejoin="round"/>
<path d="M282.5,115C282.7,116.5 282.9,121.5 283.5,124C284.1,126.5 285.2,130 286,130C286.8,130 287.8,126.7 288.5,124C289.2,121.3 289.4,117.2 290,114C290.6,110.8 291.9,106.5 292.3,105" fill="none" stroke="#b59c68" stroke-width="4" stroke-linecap="round" stroke-linejoin="round"/>
<path d="M282.5,115C282.7,116.5 282.9,121.5 283.5,124C284.1,126.5 285.2,130 286,130C286.8,130 287.8,126.7 288.5,124C289.2,121.3 289.4,117.2 290,114C290.6,110.8 291.9,106.5 292.3,105" fill="none" stroke="#e8d6a3" stroke-width="2.8" stroke-linecap="round" stroke-linejoin="round"/>
<path d="M289,90C288.6,90.7 286.7,92.4 286.5,94C286.3,95.6 287.8,98.6 288,99.5" fill="none" stroke="#b59c68" stroke-width="4" stroke-linecap="round" stroke-linejoin="round"/>
<path d="M289,90C288.6,90.7 286.7,92.4 286.5,94C286.3,95.6 287.8,98.6 288,99.5" fill="none" stroke="#e8d6a3" stroke-width="2.8" stroke-linecap="round" stroke-linejoin="round"/>
<path d="M266.5,62C266.7,63.7 267.5,68.7 267.5,72C267.5,75.3 267.1,79.9 266.5,82C265.9,84.1 264.1,84.2 263.6,84.6" fill="none" stroke="#b59c68" stroke-width="4" stroke-linecap="round" stroke-linejoin="round"/>
<path d="M266.5,62C266.7,63.7 267.5,68.7 267.5,72C267.5,75.3 267.1,79.9 266.5,82C265.9,84.1 264.1,84.2 263.6,84.6" fill="none" stroke="#e8d6a3" stroke-width="2.8" stroke-linecap="round" stroke-linejoin="round"/>
<path d="M275.5,60C275.8,61.7 276.9,66.7 277,70C277.1,73.3 276.5,76.3 276,80C275.5,83.7 273.9,88.7 274,92C274.1,95.3 276.1,98.7 276.5,100" fill="none" stroke="#b59c68" stroke-width="4" stroke-linecap="round" stroke-linejoin="round"/>
<path d="M275.5,60C275.8,61.7 276.9,66.7 277,70C277.1,73.3 276.5,76.3 276,80C275.5,83.7 273.9,88.7 274,92C274.1,95.3 276.1,98.7 276.5,100" fill="none" stroke="#e8d6a3" stroke-width="2.8" stroke-linecap="round" stroke-linejoin="round"/>
<path d="M281.5,58C281.6,59.7 282.1,64.3 282,68C281.9,71.7 281.2,76 281,80C280.8,84 280.6,90 280.5,92" fill="none" stroke="#b59c68" stroke-width="4" stroke-linecap="round" stroke-linejoin="round"/>
<path d="M281.5,58C281.6,59.7 282.1,64.3 282,68C281.9,71.7 281.2,76 281,80C280.8,84 280.6,90 280.5,92" fill="none" stroke="#e8d6a3" stroke-width="2.8" stroke-linecap="round" stroke-linejoin="round"/>
<path d="M286,48C286.2,49.3 286.8,54.2 287.5,56C288.2,57.8 289.8,58.5 290.3,59" fill="none" stroke="#b59c68" stroke-width="4" stroke-linecap="round" stroke-linejoin="round"/>
<path d="M286,48C286.2,49.3 286.8,54.2 287.5,56C288.2,57.8 289.8,58.5 290.3,59" fill="none" stroke="#e8d6a3" stroke-width="2.8" stroke-linecap="round" stroke-linejoin="round"/>
<path d="M270,78C269.8,79.7 268.4,85.3 268.5,88C268.6,90.7 270.2,93 270.5,94" fill="none" stroke="#b59c68" stroke-width="4" stroke-linecap="round" stroke-linejoin="round"/>
<path d="M270,78C269.8,79.7 268.4,85.3 268.5,88C268.6,90.7 270.2,93 270.5,94" fill="none" stroke="#e8d6a3" stroke-width="2.8" stroke-linecap="round" stroke-linejoin="round"/>
<path d="M261.7,43.8L264.6,44.9L267.5,43.8L266.4,46.7L267.5,49.6L264.6,48.5L261.7,49.6L262.8,46.7Z" fill="#cb4580" stroke="#cb4580" stroke-width="1.5" stroke-linejoin="round"/><path d="M263.2,45.2L266.1,48.2M266.1,45.2L263.2,48.2" stroke="#f6cfe0" stroke-width="1.0" stroke-linecap="round" fill="none"/>
<path d="M288.9,40.7L291.8,41.8L294.7,40.7L293.6,43.6L294.7,46.5L291.8,45.4L288.9,46.5L290,43.6Z" fill="#cb4580" stroke="#cb4580" stroke-width="1.5" stroke-linejoin="round"/><path d="M290.4,42.1L293.2,45.1M293.2,42.1L290.4,45.1" stroke="#f6cfe0" stroke-width="1.0" stroke-linecap="round" fill="none"/>
<path d="M265.8,54.1L268.7,55.2L271.6,54.1L270.5,57L271.6,59.9L268.7,58.8L265.8,59.9L266.9,57Z" fill="#cb4580" stroke="#cb4580" stroke-width="1.5" stroke-linejoin="round"/><path d="M267.2,55.5L270.1,58.5M270.1,55.5L267.2,58.5" stroke="#f6cfe0" stroke-width="1.0" stroke-linecap="round" fill="none"/>
<path d="M277.4,49.1L280.3,50.2L283.2,49.1L282.1,52L283.2,54.9L280.3,53.8L277.4,54.9L278.5,52Z" fill="#cb4580" stroke="#cb4580" stroke-width="1.5" stroke-linejoin="round"/><path d="M278.9,50.5L281.8,53.5M281.8,50.5L278.9,53.5" stroke="#f6cfe0" stroke-width="1.0" stroke-linecap="round" fill="none"/>
<path d="M287.4,56.1L290.3,57.2L293.2,56.1L292.1,59L293.2,61.9L290.3,60.8L287.4,61.9L288.5,59Z" fill="#cb4580" stroke="#cb4580" stroke-width="1.5" stroke-linejoin="round"/><path d="M288.9,57.5L291.8,60.5M291.8,57.5L288.9,60.5" stroke="#f6cfe0" stroke-width="1.0" stroke-linecap="round" fill="none"/>
<path d="M270.1,72.1L273,73.2L275.9,72.1L274.8,75L275.9,77.9L273,76.8L270.1,77.9L271.2,75Z" fill="#cb4580" stroke="#cb4580" stroke-width="1.5" stroke-linejoin="round"/><path d="M271.6,73.5L274.4,76.5M274.4,73.5L271.6,76.5" stroke="#f6cfe0" stroke-width="1.0" stroke-linecap="round" fill="none"/>
<path d="M284.1,69.4L287,70.5L289.9,69.4L288.8,72.3L289.9,75.2L287,74.1L284.1,75.2L285.2,72.3Z" fill="#cb4580" stroke="#cb4580" stroke-width="1.5" stroke-linejoin="round"/><path d="M285.6,70.8L288.4,73.8M288.4,70.8L285.6,73.8" stroke="#f6cfe0" stroke-width="1.0" stroke-linecap="round" fill="none"/>
<path d="M281.1,75.1L284,76.2L286.9,75.1L285.8,78L286.9,80.9L284,79.8L281.1,80.9L282.2,78Z" fill="#cb4580" stroke="#cb4580" stroke-width="1.5" stroke-linejoin="round"/><path d="M282.6,76.5L285.4,79.5M285.4,76.5L282.6,79.5" stroke="#f6cfe0" stroke-width="1.0" stroke-linecap="round" fill="none"/>
<path d="M260.7,81.7L263.6,82.8L266.5,81.7L265.4,84.6L266.5,87.5L263.6,86.4L260.7,87.5L261.8,84.6Z" fill="#cb4580" stroke="#cb4580" stroke-width="1.5" stroke-linejoin="round"/><path d="M262.2,83.1L265.1,86M265.1,83.1L262.2,86" stroke="#f6cfe0" stroke-width="1.0" stroke-linecap="round" fill="none"/>
<path d="M288.1,81.1L291,82.2L293.9,81.1L292.8,84L293.9,86.9L291,85.8L288.1,86.9L289.2,84Z" fill="#cb4580" stroke="#cb4580" stroke-width="1.5" stroke-linejoin="round"/><path d="M289.6,82.5L292.4,85.5M292.4,82.5L289.6,85.5" stroke="#f6cfe0" stroke-width="1.0" stroke-linecap="round" fill="none"/>
<path d="M261.1,101.1L264,102.2L266.9,101.1L265.8,104L266.9,106.9L264,105.8L261.1,106.9L262.2,104Z" fill="#cb4580" stroke="#cb4580" stroke-width="1.5" stroke-linejoin="round"/><path d="M262.6,102.5L265.4,105.5M265.4,102.5L262.6,105.5" stroke="#f6cfe0" stroke-width="1.0" stroke-linecap="round" fill="none"/>
<path d="M289.4,102.1L292.3,103.2L295.2,102.1L294.1,105L295.2,107.9L292.3,106.8L289.4,107.9L290.5,105Z" fill="#cb4580" stroke="#cb4580" stroke-width="1.5" stroke-linejoin="round"/><path d="M290.9,103.5L293.8,106.5M293.8,103.5L290.9,106.5" stroke="#f6cfe0" stroke-width="1.0" stroke-linecap="round" fill="none"/>
</g>
</g>
<path d="M252.8,79.5A26.3,67.4 0 0 1 305.4,79.5A26.3,67.4 0 0 1 252.8,79.5Z" fill="none" stroke="#d8582c" stroke-width="1.9"/>
</g>
<clipPath id="ecl1"><path d="M237.6,233.6A42.5,67.3 0 0 1 322.6,233.6A42.5,67.3 0 0 1 237.6,233.6Z"/></clipPath>
<clipPath id="ecl1b"><rect x="234.6" y="164.3" width="91" height="139.6"/></clipPath>
<g clip-path="url(#ecl1b)">
<g clip-path="url(#ecl1)">
<rect x="236.6" y="165.3" width="87" height="136.6" fill="#f5d6a9"/>
<rect x="253.5" y="165.3" width="53.9" height="136.6" fill="#3a3938"/>
<g filter="url(#soft3)">
<path d="M263.6,180C263.5,181.2 263.3,184.9 263,187C262.7,189.1 262.6,190.8 261.6,192.5C260.6,194.2 258.4,195.7 257,197C255.6,198.3 253.7,199.8 253,200.4" fill="none" stroke="#b59c68" stroke-width="3.6" stroke-linecap="round" stroke-linejoin="round"/>
<path d="M263.6,180C263.5,181.2 263.3,184.9 263,187C262.7,189.1 262.6,190.8 261.6,192.5C260.6,194.2 258.4,195.7 257,197C255.6,198.3 253.7,199.8 253,200.4" fill="none" stroke="#e8d6a3" stroke-width="2.4" stroke-linecap="round" stroke-linejoin="round"/>
<path d="M253,200.4C253.8,201.7 255.9,206.1 258,208C260.1,209.9 264.4,211.2 265.7,211.8" fill="none" stroke="#b59c68" stroke-width="3.6" stroke-linecap="round" stroke-linejoin="round"/>
<path d="M253,200.4C253.8,201.7 255.9,206.1 258,208C260.1,209.9 264.4,211.2 265.7,211.8" fill="none" stroke="#e8d6a3" stroke-width="2.4" stroke-linecap="round" stroke-linejoin="round"/>
<path d="M265.7,211.8C265.3,213 264.4,216.6 263.5,219C262.6,221.4 261.8,223.7 260.5,226C259.2,228.3 257.3,230.7 255.6,232.7C253.9,234.7 251.1,237.3 250.2,238.2" fill="none" stroke="#b59c68" stroke-width="3.6" stroke-linecap="round" stroke-linejoin="round"/>
<path d="M265.7,211.8C265.3,213 264.4,216.6 263.5,219C262.6,221.4 261.8,223.7 260.5,226C259.2,228.3 257.3,230.7 255.6,232.7C253.9,234.7 251.1,237.3 250.2,238.2" fill="none" stroke="#e8d6a3" stroke-width="2.4" stroke-linecap="round" stroke-linejoin="round"/>
<path d="M297.3,182.5C297.4,183.2 297.4,185.6 298,187C298.6,188.4 299.8,189.8 301,191C302.2,192.2 304.2,192.9 305,194C305.8,195.1 305.8,197.1 306,197.7" fill="none" stroke="#b59c68" stroke-width="3.6" stroke-linecap="round" stroke-linejoin="round"/>
<path d="M297.3,182.5C297.4,183.2 297.4,185.6 298,187C298.6,188.4 299.8,189.8 301,191C302.2,192.2 304.2,192.9 305,194C305.8,195.1 305.8,197.1 306,197.7" fill="none" stroke="#e8d6a3" stroke-width="2.4" stroke-linecap="round" stroke-linejoin="round"/>
<path d="M306,197.7C305.8,198.9 304.5,202.4 304.5,205C304.5,207.6 305.8,211.8 306,213.2" fill="none" stroke="#b59c68" stroke-width="3.6" stroke-linecap="round" stroke-linejoin="round"/>
<path d="M306,197.7C305.8,198.9 304.5,202.4 304.5,205C304.5,207.6 305.8,211.8 306,213.2" fill="none" stroke="#e8d6a3" stroke-width="2.4" stroke-linecap="round" stroke-linejoin="round"/>
<path d="M306,213.2C305.5,214.3 304,217.9 303,220C302,222.1 301.8,223.8 300,226C298.2,228.2 293.3,232.2 292,233.4" fill="none" stroke="#b59c68" stroke-width="3.6" stroke-linecap="round" stroke-linejoin="round"/>
<path d="M306,213.2C305.5,214.3 304,217.9 303,220C302,222.1 301.8,223.8 300,226C298.2,228.2 293.3,232.2 292,233.4" fill="none" stroke="#e8d6a3" stroke-width="2.4" stroke-linecap="round" stroke-linejoin="round"/>
<path d="M300,226C300.7,226.8 302.8,229.1 304,231C305.2,232.9 306.8,236.3 307.4,237.4" fill="none" stroke="#b59c68" stroke-width="3.6" stroke-linecap="round" stroke-linejoin="round"/>
<path d="M300,226C300.7,226.8 302.8,229.1 304,231C305.2,232.9 306.8,236.3 307.4,237.4" fill="none" stroke="#e8d6a3" stroke-width="2.4" stroke-linecap="round" stroke-linejoin="round"/>
<path d="M307.4,237.4C306.5,238.7 303.8,242.7 302,245C300.2,247.3 297,249.1 296.5,251C296,252.9 297.8,255.5 299,256.5C300.2,257.5 302.5,256.6 304,257C305.5,257.4 307.3,258.7 308,259" fill="none" stroke="#b59c68" stroke-width="3.6" stroke-linecap="round" stroke-linejoin="round"/>
<path d="M307.4,237.4C306.5,238.7 303.8,242.7 302,245C300.2,247.3 297,249.1 296.5,251C296,252.9 297.8,255.5 299,256.5C300.2,257.5 302.5,256.6 304,257C305.5,257.4 307.3,258.7 308,259" fill="none" stroke="#e8d6a3" stroke-width="2.4" stroke-linecap="round" stroke-linejoin="round"/>
<path d="M308,259C307.8,260.3 307.2,264.2 306.5,267C305.8,269.8 304.6,273.8 303.5,276C302.4,278.2 301.1,280.3 300,280.5C298.9,280.7 297.6,279.1 297,277C296.4,274.9 296.7,269.5 296.6,268" fill="none" stroke="#b59c68" stroke-width="3.6" stroke-linecap="round" stroke-linejoin="round"/>
<path d="M308,259C307.8,260.3 307.2,264.2 306.5,267C305.8,269.8 304.6,273.8 303.5,276C302.4,278.2 301.1,280.3 300,280.5C298.9,280.7 297.6,279.1 297,277C296.4,274.9 296.7,269.5 296.6,268" fill="none" stroke="#e8d6a3" stroke-width="2.4" stroke-linecap="round" stroke-linejoin="round"/>
<path d="M250.2,238.2C250.8,239.5 253.6,242.8 254,246C254.4,249.2 253.1,255.7 252.9,257.6" fill="none" stroke="#b59c68" stroke-width="3.6" stroke-linecap="round" stroke-linejoin="round"/>
<path d="M250.2,238.2C250.8,239.5 253.6,242.8 254,246C254.4,249.2 253.1,255.7 252.9,257.6" fill="none" stroke="#e8d6a3" stroke-width="2.4" stroke-linecap="round" stroke-linejoin="round"/>
<path d="M252.9,257.6C253.6,259 255.8,262.9 257,266C258.2,269.1 259.4,272.8 260.3,276C261.2,279.2 262,283.9 262.3,285.5" fill="none" stroke="#b59c68" stroke-width="3.6" stroke-linecap="round" stroke-linejoin="round"/>
<path d="M252.9,257.6C253.6,259 255.8,262.9 257,266C258.2,269.1 259.4,272.8 260.3,276C261.2,279.2 262,283.9 262.3,285.5" fill="none" stroke="#e8d6a3" stroke-width="2.4" stroke-linecap="round" stroke-linejoin="round"/>
<path d="M265.7,211.8C265.8,210.3 265.4,205.3 266,203C266.6,200.7 267.8,198.7 269,198C270.2,197.3 272.2,197.5 273,199C273.8,200.5 273.8,203.8 273.5,207C273.2,210.2 271.6,214.4 271,218C270.4,221.6 270.4,225.3 269.7,228.6C269,231.9 267.6,234.9 267,238C266.4,241.1 265.8,244.7 266,247C266.2,249.3 267.6,251.8 268.5,252C269.4,252.2 270.8,250.3 271.5,248C272.2,245.7 272.2,239.8 273,238C273.8,236.2 275.8,237.5 276.4,237.4" fill="none" stroke="#b59c68" stroke-width="3.6" stroke-linecap="round" stroke-linejoin="round"/>
<path d="M265.7,211.8C265.8,210.3 265.4,205.3 266,203C266.6,200.7 267.8,198.7 269,198C270.2,197.3 272.2,197.5 273,199C273.8,200.5 273.8,203.8 273.5,207C273.2,210.2 271.6,214.4 271,218C270.4,221.6 270.4,225.3 269.7,228.6C269,231.9 267.6,234.9 267,238C266.4,241.1 265.8,244.7 266,247C266.2,249.3 267.6,251.8 268.5,252C269.4,252.2 270.8,250.3 271.5,248C272.2,245.7 272.2,239.8 273,238C273.8,236.2 275.8,237.5 276.4,237.4" fill="none" stroke="#e8d6a3" stroke-width="2.4" stroke-linecap="round" stroke-linejoin="round"/>
<path d="M269.7,228.6C270.1,226.2 271.1,218.4 272,214C272.9,209.6 273.8,204.6 275,202C276.2,199.4 277.7,198.7 279,198.5C280.3,198.3 282,199.8 283,201C284,202.2 284.8,205 285.2,205.8" fill="none" stroke="#b59c68" stroke-width="3.6" stroke-linecap="round" stroke-linejoin="round"/>
<path d="M269.7,228.6C270.1,226.2 271.1,218.4 272,214C272.9,209.6 273.8,204.6 275,202C276.2,199.4 277.7,198.7 279,198.5C280.3,198.3 282,199.8 283,201C284,202.2 284.8,205 285.2,205.8" fill="none" stroke="#e8d6a3" stroke-width="2.4" stroke-linecap="round" stroke-linejoin="round"/>
<path d="M285.2,205.8C284.6,206.8 282.5,209 281.5,212C280.5,215 279.9,219.8 279,224C278.1,228.2 277.1,233.4 276.4,237.4C275.6,241.4 274.6,244.6 274.5,248C274.4,251.4 275.2,256 276,258C276.8,260 278.5,261 279.5,260C280.5,259 281.5,255.3 282,252C282.5,248.7 282.2,244 282.5,240C282.8,236 283.3,232.3 284,228C284.7,223.7 286.3,217.7 286.5,214C286.7,210.3 285.4,207.2 285.2,205.8" fill="none" stroke="#b59c68" stroke-width="3.6" stroke-linecap="round" stroke-linejoin="round"/>
<path d="M285.2,205.8C284.6,206.8 282.5,209 281.5,212C280.5,215 279.9,219.8 279,224C278.1,228.2 277.1,233.4 276.4,237.4C275.6,241.4 274.6,244.6 274.5,248C274.4,251.4 275.2,256 276,258C276.8,260 278.5,261 279.5,260C280.5,259 281.5,255.3 282,252C282.5,248.7 282.2,244 282.5,240C282.8,236 283.3,232.3 284,228C284.7,223.7 286.3,217.7 286.5,214C286.7,210.3 285.4,207.2 285.2,205.8" fill="none" stroke="#e8d6a3" stroke-width="2.4" stroke-linecap="round" stroke-linejoin="round"/>
<path d="M285.2,205.8C285.8,206.8 288.3,208.6 289,212C289.7,215.4 289.7,221.3 289.5,226C289.3,230.7 288.4,235.7 288,240C287.6,244.3 286.8,248.6 287,252C287.2,255.4 288.1,259.8 289,260.5C289.9,261.2 291.8,258.8 292.5,256C293.2,253.2 293.1,247.8 293,244C292.9,240.2 292.2,235.2 292,233.4" fill="none" stroke="#b59c68" stroke-width="3.6" stroke-linecap="round" stroke-linejoin="round"/>
<path d="M285.2,205.8C285.8,206.8 288.3,208.6 289,212C289.7,215.4 289.7,221.3 289.5,226C289.3,230.7 288.4,235.7 288,240C287.6,244.3 286.8,248.6 287,252C287.2,255.4 288.1,259.8 289,260.5C289.9,261.2 291.8,258.8 292.5,256C293.2,253.2 293.1,247.8 293,244C292.9,240.2 292.2,235.2 292,233.4" fill="none" stroke="#e8d6a3" stroke-width="2.4" stroke-linecap="round" stroke-linejoin="round"/>
<path d="M292,233.4C292.2,231.2 292.5,224.2 293,220C293.5,215.8 294.1,210.3 295,208C295.9,205.7 297.6,205 298.5,206C299.4,207 300.2,210.7 300.5,214C300.8,217.3 300.1,224 300,226" fill="none" stroke="#b59c68" stroke-width="3.6" stroke-linecap="round" stroke-linejoin="round"/>
<path d="M292,233.4C292.2,231.2 292.5,224.2 293,220C293.5,215.8 294.1,210.3 295,208C295.9,205.7 297.6,205 298.5,206C299.4,207 300.2,210.7 300.5,214C300.8,217.3 300.1,224 300,226" fill="none" stroke="#e8d6a3" stroke-width="2.4" stroke-linecap="round" stroke-linejoin="round"/>
<path d="M276.4,237.4C276.9,238.5 278.4,241.9 279.5,244C280.6,246.1 281.9,250 283,250C284.1,250 285.1,246.3 286,244C286.9,241.7 287.5,237.8 288.5,236C289.5,234.2 291.4,233.8 292,233.4" fill="none" stroke="#b59c68" stroke-width="3.6" stroke-linecap="round" stroke-linejoin="round"/>
<path d="M276.4,237.4C276.9,238.5 278.4,241.9 279.5,244C280.6,246.1 281.9,250 283,250C284.1,250 285.1,246.3 286,244C286.9,241.7 287.5,237.8 288.5,236C289.5,234.2 291.4,233.8 292,233.4" fill="none" stroke="#e8d6a3" stroke-width="2.4" stroke-linecap="round" stroke-linejoin="round"/>
<path d="M269.7,228.6C270.3,229.2 272.4,230.5 273.5,232C274.6,233.5 275.9,236.5 276.4,237.4" fill="none" stroke="#b59c68" stroke-width="3.6" stroke-linecap="round" stroke-linejoin="round"/>
<path d="M269.7,228.6C270.3,229.2 272.4,230.5 273.5,232C274.6,233.5 275.9,236.5 276.4,237.4" fill="none" stroke="#e8d6a3" stroke-width="2.4" stroke-linecap="round" stroke-linejoin="round"/>
<path d="M250,197.5L252.9,198.6L255.8,197.5L254.7,200.4L255.8,203.3L252.9,202.2L250,203.3L251.1,200.4Z" fill="#cb4580" stroke="#cb4580" stroke-width="1.5" stroke-linejoin="round"/><path d="M251.5,199L254.3,201.8M254.3,199L251.5,201.8" stroke="#f6cfe0" stroke-width="1.0" stroke-linecap="round" fill="none"/>
<path d="M262.8,208.9L265.7,210L268.6,208.9L267.5,211.8L268.6,214.7L265.7,213.6L262.8,214.7L263.9,211.8Z" fill="#cb4580" stroke="#cb4580" stroke-width="1.5" stroke-linejoin="round"/><path d="M264.2,210.4L267.1,213.2M267.1,210.4L264.2,213.2" stroke="#f6cfe0" stroke-width="1.0" stroke-linecap="round" fill="none"/>
<path d="M282.3,202.9L285.2,204L288.1,202.9L287,205.8L288.1,208.7L285.2,207.6L282.3,208.7L283.4,205.8Z" fill="#cb4580" stroke="#cb4580" stroke-width="1.5" stroke-linejoin="round"/><path d="M283.8,204.4L286.6,207.2M286.6,204.4L283.8,207.2" stroke="#f6cfe0" stroke-width="1.0" stroke-linecap="round" fill="none"/>
<path d="M303.1,194.8L306,195.9L308.9,194.8L307.8,197.7L308.9,200.6L306,199.5L303.1,200.6L304.2,197.7Z" fill="#cb4580" stroke="#cb4580" stroke-width="1.5" stroke-linejoin="round"/><path d="M304.6,196.2L307.4,199.1M307.4,196.2L304.6,199.1" stroke="#f6cfe0" stroke-width="1.0" stroke-linecap="round" fill="none"/>
<path d="M303.1,210.3L306,211.4L308.9,210.3L307.8,213.2L308.9,216.1L306,215L303.1,216.1L304.2,213.2Z" fill="#cb4580" stroke="#cb4580" stroke-width="1.5" stroke-linejoin="round"/><path d="M304.6,211.8L307.4,214.6M307.4,211.8L304.6,214.6" stroke="#f6cfe0" stroke-width="1.0" stroke-linecap="round" fill="none"/>
<path d="M266.8,225.7L269.7,226.8L272.6,225.7L271.5,228.6L272.6,231.5L269.7,230.4L266.8,231.5L267.9,228.6Z" fill="#cb4580" stroke="#cb4580" stroke-width="1.5" stroke-linejoin="round"/><path d="M268.2,227.2L271.1,230M271.1,227.2L268.2,230" stroke="#f6cfe0" stroke-width="1.0" stroke-linecap="round" fill="none"/>
<path d="M297.1,223.1L300,224.2L302.9,223.1L301.8,226L302.9,228.9L300,227.8L297.1,228.9L298.2,226Z" fill="#cb4580" stroke="#cb4580" stroke-width="1.5" stroke-linejoin="round"/><path d="M298.6,224.6L301.4,227.4M301.4,224.6L298.6,227.4" stroke="#f6cfe0" stroke-width="1.0" stroke-linecap="round" fill="none"/>
<path d="M289.1,230.5L292,231.6L294.9,230.5L293.8,233.4L294.9,236.3L292,235.2L289.1,236.3L290.2,233.4Z" fill="#cb4580" stroke="#cb4580" stroke-width="1.5" stroke-linejoin="round"/><path d="M290.6,232L293.4,234.8M293.4,232L290.6,234.8" stroke="#f6cfe0" stroke-width="1.0" stroke-linecap="round" fill="none"/>
<path d="M273.5,234.5L276.4,235.6L279.3,234.5L278.2,237.4L279.3,240.3L276.4,239.2L273.5,240.3L274.6,237.4Z" fill="#cb4580" stroke="#cb4580" stroke-width="1.5" stroke-linejoin="round"/><path d="M274.9,236L277.8,238.8M277.8,236L274.9,238.8" stroke="#f6cfe0" stroke-width="1.0" stroke-linecap="round" fill="none"/>
<path d="M247.3,235.3L250.2,236.4L253.1,235.3L252,238.2L253.1,241.1L250.2,240L247.3,241.1L248.4,238.2Z" fill="#cb4580" stroke="#cb4580" stroke-width="1.5" stroke-linejoin="round"/><path d="M248.8,236.8L251.6,239.6M251.6,236.8L248.8,239.6" stroke="#f6cfe0" stroke-width="1.0" stroke-linecap="round" fill="none"/>
<path d="M304.5,234.5L307.4,235.6L310.3,234.5L309.2,237.4L310.3,240.3L307.4,239.2L304.5,240.3L305.6,237.4Z" fill="#cb4580" stroke="#cb4580" stroke-width="1.5" stroke-linejoin="round"/><path d="M305.9,236L308.8,238.8M308.8,236L305.9,238.8" stroke="#f6cfe0" stroke-width="1.0" stroke-linecap="round" fill="none"/>
<path d="M250,254.7L252.9,255.8L255.8,254.7L254.7,257.6L255.8,260.5L252.9,259.4L250,260.5L251.1,257.6Z" fill="#cb4580" stroke="#cb4580" stroke-width="1.5" stroke-linejoin="round"/><path d="M251.5,256.2L254.3,259.1M254.3,256.2L251.5,259.1" stroke="#f6cfe0" stroke-width="1.0" stroke-linecap="round" fill="none"/>
<path d="M305.1,256.1L308,257.2L310.9,256.1L309.8,259L310.9,261.9L308,260.8L305.1,261.9L306.2,259Z" fill="#cb4580" stroke="#cb4580" stroke-width="1.5" stroke-linejoin="round"/><path d="M306.6,257.6L309.4,260.4M309.4,257.6L306.6,260.4" stroke="#f6cfe0" stroke-width="1.0" stroke-linecap="round" fill="none"/>
</g>
</g>
<path d="M237.6,233.6A42.5,67.3 0 0 1 322.6,233.6A42.5,67.3 0 0 1 237.6,233.6Z" fill="none" stroke="#d8582c" stroke-width="1.9"/>
</g>
<clipPath id="ecl2"><path d="M301.8,385.3A99.5,74.5 0 0 1 500.8,385.3A99.5,85.2 0 0 1 301.8,385.3Z"/></clipPath>
<clipPath id="ecl2b"><rect x="298.8" y="316.7" width="205" height="156.8"/></clipPath>
<g clip-path="url(#ecl2b)">
<g clip-path="url(#ecl2)">
<rect x="300.8" y="309.8" width="201" height="161.7" fill="#f5d6a9"/>
<rect x="321.5" y="309.8" width="161.5" height="161.7" fill="#3a3938"/>
<g filter="url(#soft3)">
<path d="M344.6,339.4C344.4,340.3 344.3,343.3 343.5,345C342.7,346.7 341.8,348.2 340,349.5C338.2,350.8 336.1,351.5 333,353C329.9,354.5 323.4,357.6 321.5,358.5" fill="none" stroke="#b59c68" stroke-width="3.6" stroke-linecap="round" stroke-linejoin="round"/>
<path d="M344.6,339.4C344.4,340.3 344.3,343.3 343.5,345C342.7,346.7 341.8,348.2 340,349.5C338.2,350.8 336.1,351.5 333,353C329.9,354.5 323.4,357.6 321.5,358.5" fill="none" stroke="#e8d6a3" stroke-width="2.4" stroke-linecap="round" stroke-linejoin="round"/>
<path d="M321.5,358.5C322.6,359.8 325.4,364.2 328,366C330.6,367.8 333.7,368.8 337,369.5C340.3,370.2 344.5,370.2 348,370.3C351.5,370.4 355,370.1 358,369.8C361,369.5 364.5,368.6 365.8,368.3" fill="none" stroke="#b59c68" stroke-width="3.6" stroke-linecap="round" stroke-linejoin="round"/>
<path d="M321.5,358.5C322.6,359.8 325.4,364.2 328,366C330.6,367.8 333.7,368.8 337,369.5C340.3,370.2 344.5,370.2 348,370.3C351.5,370.4 355,370.1 358,369.8C361,369.5 364.5,368.6 365.8,368.3" fill="none" stroke="#e8d6a3" stroke-width="2.4" stroke-linecap="round" stroke-linejoin="round"/>
<path d="M365.8,368.3C364.8,369.9 363,374.6 360,378C357,381.4 351.5,385.7 348,389C344.5,392.3 341.8,395.1 339,398C336.2,400.9 334,403.6 331,406.5C328,409.4 322.7,413.9 321,415.4" fill="none" stroke="#b59c68" stroke-width="3.6" stroke-linecap="round" stroke-linejoin="round"/>
<path d="M365.8,368.3C364.8,369.9 363,374.6 360,378C357,381.4 351.5,385.7 348,389C344.5,392.3 341.8,395.1 339,398C336.2,400.9 334,403.6 331,406.5C328,409.4 322.7,413.9 321,415.4" fill="none" stroke="#e8d6a3" stroke-width="2.4" stroke-linecap="round" stroke-linejoin="round"/>
<path d="M321,415.4C322.3,416.7 326.7,420.4 329,423C331.3,425.6 333.6,427.9 335,431C336.4,434.1 337.1,439.8 337.5,441.5" fill="none" stroke="#b59c68" stroke-width="3.6" stroke-linecap="round" stroke-linejoin="round"/>
<path d="M321,415.4C322.3,416.7 326.7,420.4 329,423C331.3,425.6 333.6,427.9 335,431C336.4,434.1 337.1,439.8 337.5,441.5" fill="none" stroke="#e8d6a3" stroke-width="2.4" stroke-linecap="round" stroke-linejoin="round"/>
<path d="M469,339.4C469.3,340.2 469.8,342.5 471,344C472.2,345.5 474.8,346.6 476.5,348.5C478.2,350.4 480.7,354.2 481.5,355.4" fill="none" stroke="#b59c68" stroke-width="3.6" stroke-linecap="round" stroke-linejoin="round"/>
<path d="M469,339.4C469.3,340.2 469.8,342.5 471,344C472.2,345.5 474.8,346.6 476.5,348.5C478.2,350.4 480.7,354.2 481.5,355.4" fill="none" stroke="#e8d6a3" stroke-width="2.4" stroke-linecap="round" stroke-linejoin="round"/>
<path d="M481.5,355.4C479.6,357.3 474.4,362.8 470,367C465.6,371.2 457.5,378.5 455,380.8" fill="none" stroke="#b59c68" stroke-width="3.6" stroke-linecap="round" stroke-linejoin="round"/>
<path d="M481.5,355.4C479.6,357.3 474.4,362.8 470,367C465.6,371.2 457.5,378.5 455,380.8" fill="none" stroke="#e8d6a3" stroke-width="2.4" stroke-linecap="round" stroke-linejoin="round"/>
<path d="M455,380.8C456,382.3 458.8,387.3 461,390C463.2,392.7 465.3,394.5 468,397C470.7,399.5 474.3,401.8 477,405C479.7,408.2 482.8,414.4 484,416.3" fill="none" stroke="#b59c68" stroke-width="3.6" stroke-linecap="round" stroke-linejoin="round"/>
<path d="M455,380.8C456,382.3 458.8,387.3 461,390C463.2,392.7 465.3,394.5 468,397C470.7,399.5 474.3,401.8 477,405C479.7,408.2 482.8,414.4 484,416.3" fill="none" stroke="#e8d6a3" stroke-width="2.4" stroke-linecap="round" stroke-linejoin="round"/>
<path d="M484,416.3C482.8,417.4 479.3,421.1 476.5,423C473.7,424.9 469.4,426.3 467,428C464.6,429.7 463.2,431 462,433C460.8,435 460.3,438.8 460,440" fill="none" stroke="#b59c68" stroke-width="3.6" stroke-linecap="round" stroke-linejoin="round"/>
<path d="M484,416.3C482.8,417.4 479.3,421.1 476.5,423C473.7,424.9 469.4,426.3 467,428C464.6,429.7 463.2,431 462,433C460.8,435 460.3,438.8 460,440" fill="none" stroke="#e8d6a3" stroke-width="2.4" stroke-linecap="round" stroke-linejoin="round"/>
<path d="M365.8,368.3C365.1,367.4 361.2,364.6 361.7,362.5C362.1,360.4 365.6,357.1 368.3,355.8C371.1,354.6 375.3,354.3 378.3,355C381.4,355.7 385.4,357.8 386.7,360C387.9,362.2 386.9,365 385.8,368.3C384.7,371.7 382.1,376.4 380,380C377.9,383.6 375,387.2 373.3,390C371.7,392.8 369.7,394 370,396.7C370.3,399.3 372.2,404.2 375,405.8C377.8,407.5 382.8,407.4 386.7,406.7C390.6,406 395.8,404.4 398.3,401.7C400.8,398.9 401.4,393.6 401.7,390C401.9,386.4 399.9,382.6 400,380C400.1,377.4 401.7,376.9 402.5,374.7C403.3,372.4 403.2,368.6 405,366.7C406.8,364.8 410.3,363.2 413.3,363.3C416.4,363.5 421.2,365.3 423.3,367.5C425.4,369.7 426.9,373.2 425.8,376.7C424.7,380.1 419.4,385 416.7,388.3C413.9,391.7 410.6,393.6 409.2,396.7C407.8,399.7 407.1,404.2 408.3,406.7C409.6,409.2 413.9,411.7 416.7,411.7C419.4,411.7 422.2,409.2 425,406.7C427.8,404.2 431.4,400.3 433.3,396.7C435.3,393.1 436.1,388.9 436.7,385C437.2,381.1 435.6,376.8 436.7,373.3C437.8,369.9 440.8,365.8 443.3,364.2C445.8,362.5 449.4,362.4 451.7,363.3C453.9,364.3 456.1,367.1 456.7,370C457.2,372.9 455.3,379 455,380.8" fill="none" stroke="#b59c68" stroke-width="3.6" stroke-linecap="round" stroke-linejoin="round"/>
<path d="M365.8,368.3C365.1,367.4 361.2,364.6 361.7,362.5C362.1,360.4 365.6,357.1 368.3,355.8C371.1,354.6 375.3,354.3 378.3,355C381.4,355.7 385.4,357.8 386.7,360C387.9,362.2 386.9,365 385.8,368.3C384.7,371.7 382.1,376.4 380,380C377.9,383.6 375,387.2 373.3,390C371.7,392.8 369.7,394 370,396.7C370.3,399.3 372.2,404.2 375,405.8C377.8,407.5 382.8,407.4 386.7,406.7C390.6,406 395.8,404.4 398.3,401.7C400.8,398.9 401.4,393.6 401.7,390C401.9,386.4 399.9,382.6 400,380C400.1,377.4 401.7,376.9 402.5,374.7C403.3,372.4 403.2,368.6 405,366.7C406.8,364.8 410.3,363.2 413.3,363.3C416.4,363.5 421.2,365.3 423.3,367.5C425.4,369.7 426.9,373.2 425.8,376.7C424.7,380.1 419.4,385 416.7,388.3C413.9,391.7 410.6,393.6 409.2,396.7C407.8,399.7 407.1,404.2 408.3,406.7C409.6,409.2 413.9,411.7 416.7,411.7C419.4,411.7 422.2,409.2 425,406.7C427.8,404.2 431.4,400.3 433.3,396.7C435.3,393.1 436.1,388.9 436.7,385C437.2,381.1 435.6,376.8 436.7,373.3C437.8,369.9 440.8,365.8 443.3,364.2C445.8,362.5 449.4,362.4 451.7,363.3C453.9,364.3 456.1,367.1 456.7,370C457.2,372.9 455.3,379 455,380.8" fill="none" stroke="#e8d6a3" stroke-width="2.4" stroke-linecap="round" stroke-linejoin="round"/>
<path d="M365.8,368.3C367.4,367.8 371.2,366.5 375,365C378.8,363.5 383.3,360.7 388.3,359.2C393.3,357.6 400.6,356.2 405,355.8C409.4,355.4 412.8,355.4 415,356.7C417.2,357.9 418.3,360.8 418.3,363.3C418.3,365.8 417.6,369.8 415,371.7C412.4,373.6 406.4,373.6 402.5,374.7C398.6,375.8 395.4,376.3 391.7,378.3C387.9,380.3 383.3,384.2 380,386.7C376.7,389.2 373.1,391.4 371.7,393.3C370.3,395.3 369.7,397.6 371.7,398.3C373.6,399 378.6,397.9 383.3,397.5C388.1,397.1 395.3,395.8 400,395.8C404.7,395.8 407.8,396.2 411.7,397.5C415.6,398.8 419.4,402.1 423.3,403.3C427.2,404.6 432.1,405.4 435,405C437.9,404.6 440,402.8 440.8,400.8C441.7,398.9 440.7,395.4 440,393.3C439.3,391.2 436.1,390 436.7,388.3C437.2,386.7 440.3,384.6 443.3,383.3C446.4,382.1 453.1,381.2 455,380.8" fill="none" stroke="#b59c68" stroke-width="3.6" stroke-linecap="round" stroke-linejoin="round"/>
<path d="M365.8,368.3C367.4,367.8 371.2,366.5 375,365C378.8,363.5 383.3,360.7 388.3,359.2C393.3,357.6 400.6,356.2 405,355.8C409.4,355.4 412.8,355.4 415,356.7C417.2,357.9 418.3,360.8 418.3,363.3C418.3,365.8 417.6,369.8 415,371.7C412.4,373.6 406.4,373.6 402.5,374.7C398.6,375.8 395.4,376.3 391.7,378.3C387.9,380.3 383.3,384.2 380,386.7C376.7,389.2 373.1,391.4 371.7,393.3C370.3,395.3 369.7,397.6 371.7,398.3C373.6,399 378.6,397.9 383.3,397.5C388.1,397.1 395.3,395.8 400,395.8C404.7,395.8 407.8,396.2 411.7,397.5C415.6,398.8 419.4,402.1 423.3,403.3C427.2,404.6 432.1,405.4 435,405C437.9,404.6 440,402.8 440.8,400.8C441.7,398.9 440.7,395.4 440,393.3C439.3,391.2 436.1,390 436.7,388.3C437.2,386.7 440.3,384.6 443.3,383.3C446.4,382.1 453.1,381.2 455,380.8" fill="none" stroke="#e8d6a3" stroke-width="2.4" stroke-linecap="round" stroke-linejoin="round"/>
<path d="M318.6,355.6L321.5,356.7L324.4,355.6L323.3,358.5L324.4,361.4L321.5,360.3L318.6,361.4L319.7,358.5Z" fill="#cb4580" stroke="#cb4580" stroke-width="1.5" stroke-linejoin="round"/><path d="M320.1,357.1L322.9,359.9M322.9,357.1L320.1,359.9" stroke="#f6cfe0" stroke-width="1.0" stroke-linecap="round" fill="none"/>
<path d="M318.1,412.5L321,413.6L323.9,412.5L322.8,415.4L323.9,418.3L321,417.2L318.1,418.3L319.2,415.4Z" fill="#cb4580" stroke="#cb4580" stroke-width="1.5" stroke-linejoin="round"/><path d="M319.6,413.9L322.4,416.8M322.4,413.9L319.6,416.8" stroke="#f6cfe0" stroke-width="1.0" stroke-linecap="round" fill="none"/>
<path d="M362.9,365.4L365.8,366.5L368.7,365.4L367.6,368.3L368.7,371.2L365.8,370.1L362.9,371.2L364,368.3Z" fill="#cb4580" stroke="#cb4580" stroke-width="1.5" stroke-linejoin="round"/><path d="M364.4,366.9L367.2,369.8M367.2,366.9L364.4,369.8" stroke="#f6cfe0" stroke-width="1.0" stroke-linecap="round" fill="none"/>
<path d="M399.6,371.8L402.5,372.9L405.4,371.8L404.3,374.7L405.4,377.6L402.5,376.5L399.6,377.6L400.7,374.7Z" fill="#cb4580" stroke="#cb4580" stroke-width="1.5" stroke-linejoin="round"/><path d="M401.1,373.2L403.9,376.1M403.9,373.2L401.1,376.1" stroke="#f6cfe0" stroke-width="1.0" stroke-linecap="round" fill="none"/>
<path d="M452.1,377.9L455,379L457.9,377.9L456.8,380.8L457.9,383.7L455,382.6L452.1,383.7L453.2,380.8Z" fill="#cb4580" stroke="#cb4580" stroke-width="1.5" stroke-linejoin="round"/><path d="M453.6,379.4L456.4,382.2M456.4,379.4L453.6,382.2" stroke="#f6cfe0" stroke-width="1.0" stroke-linecap="round" fill="none"/>
<path d="M478.6,352.5L481.5,353.6L484.4,352.5L483.3,355.4L484.4,358.3L481.5,357.2L478.6,358.3L479.7,355.4Z" fill="#cb4580" stroke="#cb4580" stroke-width="1.5" stroke-linejoin="round"/><path d="M480.1,353.9L482.9,356.8M482.9,353.9L480.1,356.8" stroke="#f6cfe0" stroke-width="1.0" stroke-linecap="round" fill="none"/>
<path d="M481.1,413.4L484,414.5L486.9,413.4L485.8,416.3L486.9,419.2L484,418.1L481.1,419.2L482.2,416.3Z" fill="#cb4580" stroke="#cb4580" stroke-width="1.5" stroke-linejoin="round"/><path d="M482.6,414.9L485.4,417.8M485.4,414.9L482.6,417.8" stroke="#f6cfe0" stroke-width="1.0" stroke-linecap="round" fill="none"/>
</g>
</g>
<path d="M301.8,385.3A99.5,74.5 0 0 1 500.8,385.3A99.5,85.2 0 0 1 301.8,385.3Z" fill="none" stroke="#d8582c" stroke-width="1.9"/>
</g>
<clipPath id="ecl3"><path d="M233.7,545.4A47.3,67.1 0 0 1 328.3,545.4A47.3,67.1 0 0 1 233.7,545.4Z"/></clipPath>
<clipPath id="ecl3b"><rect x="230.7" y="476.2" width="100.6" height="139.2"/></clipPath>
<g clip-path="url(#ecl3b)">
<g clip-path="url(#ecl3)">
<rect x="232.7" y="477.2" width="96.6" height="136.2" fill="#f5d6a9"/>
<rect x="244.7" y="477.2" width="72" height="136.2" fill="#3a3938"/>
<g filter="url(#soft3)">
<path d="M259.6,492C259.3,493 258.7,496.2 258,498C257.3,499.8 256.8,500.9 255.3,502.5C253.8,504.1 250.6,505.8 249,507.5C247.4,509.2 246.1,512.1 245.5,513" fill="none" stroke="#b59c68" stroke-width="3.6" stroke-linecap="round" stroke-linejoin="round"/>
<path d="M259.6,492C259.3,493 258.7,496.2 258,498C257.3,499.8 256.8,500.9 255.3,502.5C253.8,504.1 250.6,505.8 249,507.5C247.4,509.2 246.1,512.1 245.5,513" fill="none" stroke="#e8d6a3" stroke-width="2.4" stroke-linecap="round" stroke-linejoin="round"/>
<path d="M302.6,493.3C302.8,493.9 302.9,495.9 303.5,497C304.1,498.1 304.3,498.6 306,499.8C307.7,501.1 311.8,502.8 313.5,504.5C315.2,506.2 315.6,509.2 316,510.2" fill="none" stroke="#b59c68" stroke-width="3.6" stroke-linecap="round" stroke-linejoin="round"/>
<path d="M302.6,493.3C302.8,493.9 302.9,495.9 303.5,497C304.1,498.1 304.3,498.6 306,499.8C307.7,501.1 311.8,502.8 313.5,504.5C315.2,506.2 315.6,509.2 316,510.2" fill="none" stroke="#e8d6a3" stroke-width="2.4" stroke-linecap="round" stroke-linejoin="round"/>
<path d="M245.5,513C246.1,514.4 249.1,518.9 249,521.5C248.9,524.1 245.4,527.3 244.7,528.5" fill="none" stroke="#b59c68" stroke-width="3.6" stroke-linecap="round" stroke-linejoin="round"/>
<path d="M245.5,513C246.1,514.4 249.1,518.9 249,521.5C248.9,524.1 245.4,527.3 244.7,528.5" fill="none" stroke="#e8d6a3" stroke-width="2.4" stroke-linecap="round" stroke-linejoin="round"/>
<path d="M244.7,528.5C245.8,529.4 248.8,532.5 251,534C253.2,535.5 256.8,537.1 258,537.7" fill="none" stroke="#b59c68" stroke-width="3.6" stroke-linecap="round" stroke-linejoin="round"/>
<path d="M244.7,528.5C245.8,529.4 248.8,532.5 251,534C253.2,535.5 256.8,537.1 258,537.7" fill="none" stroke="#e8d6a3" stroke-width="2.4" stroke-linecap="round" stroke-linejoin="round"/>
<path d="M258,537.7C256.8,538.6 253.2,541.2 251,543C248.8,544.8 245.8,547.6 244.7,548.5" fill="none" stroke="#b59c68" stroke-width="3.6" stroke-linecap="round" stroke-linejoin="round"/>
<path d="M258,537.7C256.8,538.6 253.2,541.2 251,543C248.8,544.8 245.8,547.6 244.7,548.5" fill="none" stroke="#e8d6a3" stroke-width="2.4" stroke-linecap="round" stroke-linejoin="round"/>
<path d="M244.7,548.5C246,550.1 252.4,554.9 252.5,558.3C252.6,561.7 246.7,567.1 245.5,568.9" fill="none" stroke="#b59c68" stroke-width="3.6" stroke-linecap="round" stroke-linejoin="round"/>
<path d="M244.7,548.5C246,550.1 252.4,554.9 252.5,558.3C252.6,561.7 246.7,567.1 245.5,568.9" fill="none" stroke="#e8d6a3" stroke-width="2.4" stroke-linecap="round" stroke-linejoin="round"/>
<path d="M245.5,568.9C246.6,570.2 250.2,574 251.8,576.7C253.4,579.4 254.9,582.1 255.3,585C255.7,587.9 254.2,592.8 254,594.3" fill="none" stroke="#b59c68" stroke-width="3.6" stroke-linecap="round" stroke-linejoin="round"/>
<path d="M245.5,568.9C246.6,570.2 250.2,574 251.8,576.7C253.4,579.4 254.9,582.1 255.3,585C255.7,587.9 254.2,592.8 254,594.3" fill="none" stroke="#e8d6a3" stroke-width="2.4" stroke-linecap="round" stroke-linejoin="round"/>
<path d="M316,510.2C315.5,511.8 314.5,516.4 313,520C311.5,523.6 307.8,530 306.8,532" fill="none" stroke="#b59c68" stroke-width="3.6" stroke-linecap="round" stroke-linejoin="round"/>
<path d="M316,510.2C315.5,511.8 314.5,516.4 313,520C311.5,523.6 307.8,530 306.8,532" fill="none" stroke="#e8d6a3" stroke-width="2.4" stroke-linecap="round" stroke-linejoin="round"/>
<path d="M306.8,532C307.7,533.3 310.5,537.3 312,540C313.5,542.7 315,546.7 315.6,548" fill="none" stroke="#b59c68" stroke-width="3.6" stroke-linecap="round" stroke-linejoin="round"/>
<path d="M306.8,532C307.7,533.3 310.5,537.3 312,540C313.5,542.7 315,546.7 315.6,548" fill="none" stroke="#e8d6a3" stroke-width="2.4" stroke-linecap="round" stroke-linejoin="round"/>
<path d="M315.6,548C314.4,549.5 310,554.5 308.2,557C306.4,559.5 304.5,561.7 304.7,563.3C304.9,564.9 307.7,565.6 309.6,566.8C311.6,568 315.3,569.7 316.4,570.3" fill="none" stroke="#b59c68" stroke-width="3.6" stroke-linecap="round" stroke-linejoin="round"/>
<path d="M315.6,548C314.4,549.5 310,554.5 308.2,557C306.4,559.5 304.5,561.7 304.7,563.3C304.9,564.9 307.7,565.6 309.6,566.8C311.6,568 315.3,569.7 316.4,570.3" fill="none" stroke="#e8d6a3" stroke-width="2.4" stroke-linecap="round" stroke-linejoin="round"/>
<path d="M316.4,570.3C315.3,571.6 311.1,575.3 309.6,578C308.1,580.7 308.3,583.8 307.5,586.5C306.7,589.2 305.2,593 304.7,594.3" fill="none" stroke="#b59c68" stroke-width="3.6" stroke-linecap="round" stroke-linejoin="round"/>
<path d="M316.4,570.3C315.3,571.6 311.1,575.3 309.6,578C308.1,580.7 308.3,583.8 307.5,586.5C306.7,589.2 305.2,593 304.7,594.3" fill="none" stroke="#e8d6a3" stroke-width="2.4" stroke-linecap="round" stroke-linejoin="round"/>
<path d="M258,537.7C257.7,535.9 255.7,529.8 256,527C256.3,524.2 259,523.3 260,521C261,518.7 261.2,515.4 262,513C262.8,510.6 263.6,507.7 265,506.5C266.4,505.3 268.6,505.1 270.5,506C272.4,506.9 275.5,511 276.5,512" fill="none" stroke="#b59c68" stroke-width="3.6" stroke-linecap="round" stroke-linejoin="round"/>
<path d="M258,537.7C257.7,535.9 255.7,529.8 256,527C256.3,524.2 259,523.3 260,521C261,518.7 261.2,515.4 262,513C262.8,510.6 263.6,507.7 265,506.5C266.4,505.3 268.6,505.1 270.5,506C272.4,506.9 275.5,511 276.5,512" fill="none" stroke="#e8d6a3" stroke-width="2.4" stroke-linecap="round" stroke-linejoin="round"/>
<path d="M276.5,512C275.4,512.7 271.5,514.2 270,516C268.5,517.8 268.5,521 267.5,523C266.5,525 264.9,526 264,528C263.1,530 262,532.2 262,535C262,537.8 263.8,542 264,545C264.2,548 262.7,550.5 263,553C263.3,555.5 264.7,558.5 266,560C267.3,561.5 269.5,562.7 271,562C272.5,561.3 274.5,558.3 275,556C275.5,553.7 274.7,550.3 274,548C273.3,545.7 270.9,544.9 271,542C271.1,539.1 273.8,532.5 274.4,530.6" fill="none" stroke="#b59c68" stroke-width="3.6" stroke-linecap="round" stroke-linejoin="round"/>
<path d="M276.5,512C275.4,512.7 271.5,514.2 270,516C268.5,517.8 268.5,521 267.5,523C266.5,525 264.9,526 264,528C263.1,530 262,532.2 262,535C262,537.8 263.8,542 264,545C264.2,548 262.7,550.5 263,553C263.3,555.5 264.7,558.5 266,560C267.3,561.5 269.5,562.7 271,562C272.5,561.3 274.5,558.3 275,556C275.5,553.7 274.7,550.3 274,548C273.3,545.7 270.9,544.9 271,542C271.1,539.1 273.8,532.5 274.4,530.6" fill="none" stroke="#e8d6a3" stroke-width="2.4" stroke-linecap="round" stroke-linejoin="round"/>
<path d="M274.4,530.6C275,529.2 277.2,524.8 278,522C278.8,519.2 279.2,515.7 279,514C278.8,512.3 276.9,512.3 276.5,512" fill="none" stroke="#b59c68" stroke-width="3.6" stroke-linecap="round" stroke-linejoin="round"/>
<path d="M274.4,530.6C275,529.2 277.2,524.8 278,522C278.8,519.2 279.2,515.7 279,514C278.8,512.3 276.9,512.3 276.5,512" fill="none" stroke="#e8d6a3" stroke-width="2.4" stroke-linecap="round" stroke-linejoin="round"/>
<path d="M276.5,512C277.6,511.8 281.1,510.2 283,510.5C284.9,510.8 286.8,512.1 288,514C289.2,515.9 289.8,518.9 290,522C290.2,525.1 289.3,531 289.2,532.8" fill="none" stroke="#b59c68" stroke-width="3.6" stroke-linecap="round" stroke-linejoin="round"/>
<path d="M276.5,512C277.6,511.8 281.1,510.2 283,510.5C284.9,510.8 286.8,512.1 288,514C289.2,515.9 289.8,518.9 290,522C290.2,525.1 289.3,531 289.2,532.8" fill="none" stroke="#e8d6a3" stroke-width="2.4" stroke-linecap="round" stroke-linejoin="round"/>
<path d="M289.2,532.8C288.3,531.3 285.4,524.8 284,524C282.6,523.2 281.3,525.7 280.5,528C279.7,530.3 279,534.7 279,538C279,541.3 279.8,545.2 280.5,548C281.2,550.8 281.9,553.3 283,555C284.1,556.7 285.7,556.9 287,558C288.3,559.1 290,561.2 290.6,561.9" fill="none" stroke="#b59c68" stroke-width="3.6" stroke-linecap="round" stroke-linejoin="round"/>
<path d="M289.2,532.8C288.3,531.3 285.4,524.8 284,524C282.6,523.2 281.3,525.7 280.5,528C279.7,530.3 279,534.7 279,538C279,541.3 279.8,545.2 280.5,548C281.2,550.8 281.9,553.3 283,555C284.1,556.7 285.7,556.9 287,558C288.3,559.1 290,561.2 290.6,561.9" fill="none" stroke="#e8d6a3" stroke-width="2.4" stroke-linecap="round" stroke-linejoin="round"/>
<path d="M274.4,530.6C275.2,531.3 277.6,533.4 279,535C280.4,536.6 281.7,539.8 283,540C284.3,540.2 286,537.2 287,536C288,534.8 288.8,533.3 289.2,532.8" fill="none" stroke="#b59c68" stroke-width="3.6" stroke-linecap="round" stroke-linejoin="round"/>
<path d="M274.4,530.6C275.2,531.3 277.6,533.4 279,535C280.4,536.6 281.7,539.8 283,540C284.3,540.2 286,537.2 287,536C288,534.8 288.8,533.3 289.2,532.8" fill="none" stroke="#e8d6a3" stroke-width="2.4" stroke-linecap="round" stroke-linejoin="round"/>
<path d="M289.2,532.8C289.7,534.3 291.4,538.8 292,542C292.6,545.2 292.7,548.7 292.5,552C292.3,555.3 290.9,560.2 290.6,561.9" fill="none" stroke="#b59c68" stroke-width="3.6" stroke-linecap="round" stroke-linejoin="round"/>
<path d="M289.2,532.8C289.7,534.3 291.4,538.8 292,542C292.6,545.2 292.7,548.7 292.5,552C292.3,555.3 290.9,560.2 290.6,561.9" fill="none" stroke="#e8d6a3" stroke-width="2.4" stroke-linecap="round" stroke-linejoin="round"/>
<path d="M290.6,561.9C291,562.9 291.9,566.6 293,568C294.1,569.4 295.8,570.8 297,570.5C298.2,570.2 299.5,568.8 300,566C300.5,563.2 300.3,558 300,554C299.7,550 298.2,546 298,542C297.8,538 297.9,533.3 298.5,530C299.1,526.7 300.5,523 301.5,522C302.5,521 303.6,522.3 304.5,524C305.4,525.7 306.4,530.7 306.8,532" fill="none" stroke="#b59c68" stroke-width="3.6" stroke-linecap="round" stroke-linejoin="round"/>
<path d="M290.6,561.9C291,562.9 291.9,566.6 293,568C294.1,569.4 295.8,570.8 297,570.5C298.2,570.2 299.5,568.8 300,566C300.5,563.2 300.3,558 300,554C299.7,550 298.2,546 298,542C297.8,538 297.9,533.3 298.5,530C299.1,526.7 300.5,523 301.5,522C302.5,521 303.6,522.3 304.5,524C305.4,525.7 306.4,530.7 306.8,532" fill="none" stroke="#e8d6a3" stroke-width="2.4" stroke-linecap="round" stroke-linejoin="round"/>
<path d="M306.8,532C306,533.3 303,536.7 302,540C301,543.3 300.8,548.7 301,552C301.2,555.3 302.7,558.7 303,560" fill="none" stroke="#b59c68" stroke-width="3.6" stroke-linecap="round" stroke-linejoin="round"/>
<path d="M306.8,532C306,533.3 303,536.7 302,540C301,543.3 300.8,548.7 301,552C301.2,555.3 302.7,558.7 303,560" fill="none" stroke="#e8d6a3" stroke-width="2.4" stroke-linecap="round" stroke-linejoin="round"/>
<path d="M262,545C263,545.5 266.7,548.7 268,548C269.3,547.3 269,541 270,541C271,541 273.3,546.8 274,548" fill="none" stroke="#b59c68" stroke-width="3.6" stroke-linecap="round" stroke-linejoin="round"/>
<path d="M262,545C263,545.5 266.7,548.7 268,548C269.3,547.3 269,541 270,541C271,541 273.3,546.8 274,548" fill="none" stroke="#e8d6a3" stroke-width="2.4" stroke-linecap="round" stroke-linejoin="round"/>
<path d="M242.6,510.1L245.5,511.2L248.4,510.1L247.3,513L248.4,515.9L245.5,514.8L242.6,515.9L243.7,513Z" fill="#cb4580" stroke="#cb4580" stroke-width="1.5" stroke-linejoin="round"/><path d="M244.1,511.6L246.9,514.5M246.9,511.6L244.1,514.5" stroke="#f6cfe0" stroke-width="1.0" stroke-linecap="round" fill="none"/>
<path d="M241.8,525.6L244.7,526.7L247.6,525.6L246.5,528.5L247.6,531.4L244.7,530.3L241.8,531.4L242.9,528.5Z" fill="#cb4580" stroke="#cb4580" stroke-width="1.5" stroke-linejoin="round"/><path d="M243.2,527L246.1,530M246.1,527L243.2,530" stroke="#f6cfe0" stroke-width="1.0" stroke-linecap="round" fill="none"/>
<path d="M273.6,509.1L276.5,510.2L279.4,509.1L278.3,512L279.4,514.9L276.5,513.8L273.6,514.9L274.7,512Z" fill="#cb4580" stroke="#cb4580" stroke-width="1.5" stroke-linejoin="round"/><path d="M275.1,510.6L277.9,513.5M277.9,510.6L275.1,513.5" stroke="#f6cfe0" stroke-width="1.0" stroke-linecap="round" fill="none"/>
<path d="M313.1,507.3L316,508.4L318.9,507.3L317.8,510.2L318.9,513.1L316,512L313.1,513.1L314.2,510.2Z" fill="#cb4580" stroke="#cb4580" stroke-width="1.5" stroke-linejoin="round"/><path d="M314.6,508.8L317.4,511.6M317.4,508.8L314.6,511.6" stroke="#f6cfe0" stroke-width="1.0" stroke-linecap="round" fill="none"/>
<path d="M255.1,534.8L258,535.9L260.9,534.8L259.8,537.7L260.9,540.6L258,539.5L255.1,540.6L256.2,537.7Z" fill="#cb4580" stroke="#cb4580" stroke-width="1.5" stroke-linejoin="round"/><path d="M256.6,536.2L259.4,539.2M259.4,536.2L256.6,539.2" stroke="#f6cfe0" stroke-width="1.0" stroke-linecap="round" fill="none"/>
<path d="M271.5,527.7L274.4,528.8L277.3,527.7L276.2,530.6L277.3,533.5L274.4,532.4L271.5,533.5L272.6,530.6Z" fill="#cb4580" stroke="#cb4580" stroke-width="1.5" stroke-linejoin="round"/><path d="M272.9,529.1L275.8,532.1M275.8,529.1L272.9,532.1" stroke="#f6cfe0" stroke-width="1.0" stroke-linecap="round" fill="none"/>
<path d="M286.3,529.9L289.2,531L292.1,529.9L291,532.8L292.1,535.7L289.2,534.6L286.3,535.7L287.4,532.8Z" fill="#cb4580" stroke="#cb4580" stroke-width="1.5" stroke-linejoin="round"/><path d="M287.8,531.3L290.6,534.2M290.6,531.3L287.8,534.2" stroke="#f6cfe0" stroke-width="1.0" stroke-linecap="round" fill="none"/>
<path d="M303.9,529.1L306.8,530.2L309.7,529.1L308.6,532L309.7,534.9L306.8,533.8L303.9,534.9L305,532Z" fill="#cb4580" stroke="#cb4580" stroke-width="1.5" stroke-linejoin="round"/><path d="M305.4,530.5L308.2,533.5M308.2,530.5L305.4,533.5" stroke="#f6cfe0" stroke-width="1.0" stroke-linecap="round" fill="none"/>
<path d="M241.8,545.6L244.7,546.7L247.6,545.6L246.5,548.5L247.6,551.4L244.7,550.3L241.8,551.4L242.9,548.5Z" fill="#cb4580" stroke="#cb4580" stroke-width="1.5" stroke-linejoin="round"/><path d="M243.2,547L246.1,550M246.1,547L243.2,550" stroke="#f6cfe0" stroke-width="1.0" stroke-linecap="round" fill="none"/>
<path d="M312.7,545.1L315.6,546.2L318.5,545.1L317.4,548L318.5,550.9L315.6,549.8L312.7,550.9L313.8,548Z" fill="#cb4580" stroke="#cb4580" stroke-width="1.5" stroke-linejoin="round"/><path d="M314.2,546.5L317.1,549.5M317.1,546.5L314.2,549.5" stroke="#f6cfe0" stroke-width="1.0" stroke-linecap="round" fill="none"/>
<path d="M242.6,566L245.5,567.1L248.4,566L247.3,568.9L248.4,571.8L245.5,570.7L242.6,571.8L243.7,568.9Z" fill="#cb4580" stroke="#cb4580" stroke-width="1.5" stroke-linejoin="round"/><path d="M244.1,567.4L246.9,570.4M246.9,567.4L244.1,570.4" stroke="#f6cfe0" stroke-width="1.0" stroke-linecap="round" fill="none"/>
<path d="M287.7,559L290.6,560.1L293.5,559L292.4,561.9L293.5,564.8L290.6,563.7L287.7,564.8L288.8,561.9Z" fill="#cb4580" stroke="#cb4580" stroke-width="1.5" stroke-linejoin="round"/><path d="M289.2,560.4L292.1,563.4M292.1,560.4L289.2,563.4" stroke="#f6cfe0" stroke-width="1.0" stroke-linecap="round" fill="none"/>
<path d="M313.5,567.4L316.4,568.5L319.3,567.4L318.2,570.3L319.3,573.2L316.4,572.1L313.5,573.2L314.6,570.3Z" fill="#cb4580" stroke="#cb4580" stroke-width="1.5" stroke-linejoin="round"/><path d="M314.9,568.8L317.8,571.8M317.8,568.8L314.9,571.8" stroke="#f6cfe0" stroke-width="1.0" stroke-linecap="round" fill="none"/>
</g>
</g>
<path d="M233.7,545.4A47.3,67.1 0 0 1 328.3,545.4A47.3,67.1 0 0 1 233.7,545.4Z" fill="none" stroke="#d8582c" stroke-width="1.9"/>
</g>
<path d="M88.6,70.1L252.5,78.5" stroke="#d8582c" stroke-width="2" fill="none"/>
<ellipse cx="84.4" cy="70" rx="4" ry="8.2" fill="none" stroke="#d8582c" stroke-width="1.6"/>
<path d="M90.9,226.2L237.5,232.9" stroke="#d8582c" stroke-width="2" fill="none"/>
<ellipse cx="85.6" cy="225.7" rx="5.1" ry="8" fill="none" stroke="#d8582c" stroke-width="1.6"/>
<path d="M103,381.9L302.5,386.3" stroke="#d8582c" stroke-width="2" fill="none"/>
<ellipse cx="91.8" cy="381.5" rx="11.2" ry="10.1" fill="none" stroke="#d8582c" stroke-width="1.6"/>
<path d="M89.8,537.5L233.5,544.3" stroke="#d8582c" stroke-width="2" fill="none"/>
<ellipse cx="84.8" cy="536.6" rx="4.8" ry="8.3" fill="none" stroke="#d8582c" stroke-width="1.6"/>
</svg>
<div class="lab" style="left:29px;top:4.5px;font-family:'Liberation Serif',serif;font-size:20px;">a</div>
<div class="lab" style="left:29px;top:163px;">b</div>
<div class="lab" style="left:29px;top:321px;font-size:16.8px;">c</div>
<div class="lab" style="left:29.5px;top:474px;">d</div>
<div class="t" style="left:326.5px;width:200px;top:44.2px;"><span style="left:0.5px;letter-spacing:0.15px">Kolageno skaidulos</span>
<span style="left:-1.2px"><b>prieš apkrovą</b></span></div>
<div class="t" style="left:349.5px;width:200px;top:180.7px;"><span style="left:-1.4px"><b>Apkrova</b>:</span>
<span style="left:0.6px;letter-spacing:0.1px">kolageno skaidulos</span>
<span style="left:-0.3px;letter-spacing:0.3px">pradeda išsiskleisti</span></div>
<div class="t" style="left:514.7px;width:260px;top:348.6px;"><span style="left:0.4px;letter-spacing:0.1px"><b>Esant didžiausiai apkrovai:</b></span>
<span style="left:-0.9px">kolageno ryšiai išlieka,</span>
<span style="left:-0.6px">kolageno skaidulos pasiekia</span>
<span style="left:-0.7px;letter-spacing:0.42px">didžiausią įtempimą</span></div>
<div class="t" style="left:338.5px;width:200px;top:514.8px;"><span style="left:-0.2px"><b>Po apkrovos</b>:</span>
<span style="left:1.8px;letter-spacing:0.3px">kolageno ryšiai vėl</span>
<span style="left:-1.6px">susijungia</span></div>
</body>
</html>
